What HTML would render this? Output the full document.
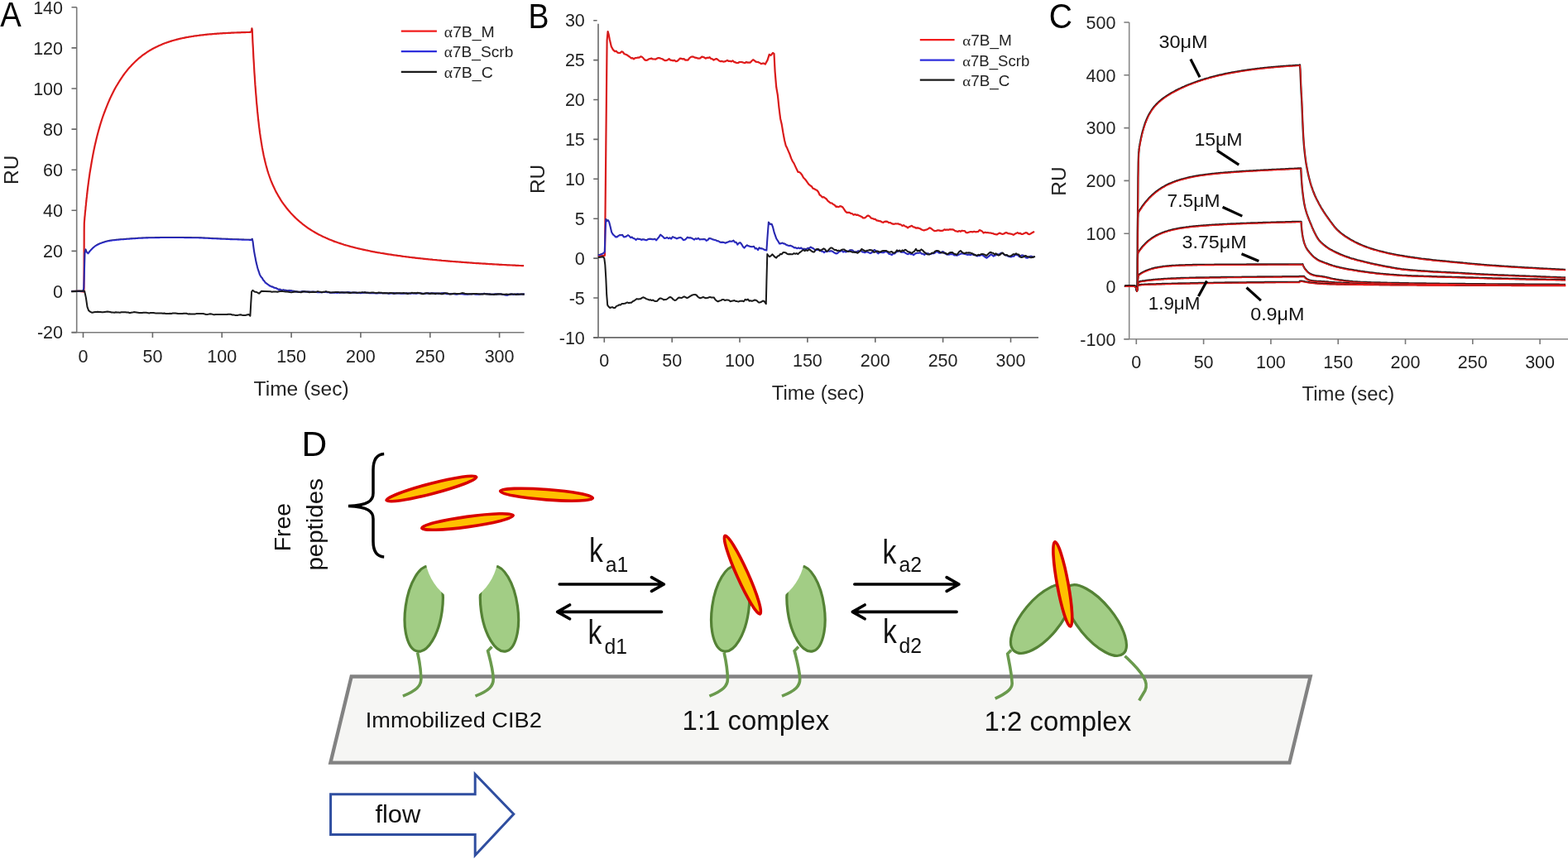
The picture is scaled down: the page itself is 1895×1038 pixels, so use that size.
<!DOCTYPE html>
<html><head><meta charset="utf-8"><title>Figure</title>
<style>html,body{margin:0;padding:0;background:#fff;}svg{display:block;}</style></head>
<body><svg width="1895" height="1038" viewBox="0 0 1895 1038">
<rect width="1895" height="1038" fill="#fff"/>
<path d="M424.7 817.5H1583.7L1558.4 921.7H399.4Z" fill="#F6F6F4" stroke="#828282" stroke-width="4.3" stroke-linejoin="miter"/>
<g transform="translate(0 0)">
<path d="M504.6 788.5C506.5 797 508.6 808 508.9 820C509.1 829 503 834.5 486.9 841.2" fill="none" stroke="#6A9A4D" stroke-width="3.6" stroke-linecap="butt"/>
<path d="M594.5 781.5L589.6 786.5C592 796 595.6 808 596.2 820C596.5 829 591 834.5 574.5 841.2" fill="none" stroke="#6A9A4D" stroke-width="3.6" stroke-linecap="butt"/>
<mask id="mL0" maskUnits="userSpaceOnUse" x="0" y="0" width="1895" height="1038"><rect width="1895" height="1038" fill="#fff"/><circle cx="581.5" cy="666.7" r="68.4" fill="#000"/></mask>
<g mask="url(#mL0)"><ellipse cx="512.2" cy="735.6" rx="22.2" ry="52" transform="rotate(8 512.2 735.6)" fill="#A2CD85" stroke="#548235" stroke-width="3.2"/></g>
<mask id="mR0" maskUnits="userSpaceOnUse" x="0" y="0" width="1895" height="1038"><rect width="1895" height="1038" fill="#fff"/><circle cx="534.2" cy="666.7" r="68.4" fill="#000"/></mask>
<g mask="url(#mR0)"><ellipse cx="603.5" cy="735.6" rx="22.2" ry="52" transform="rotate(-8 603.5 735.6)" fill="#A2CD85" stroke="#548235" stroke-width="3.2"/></g>
</g>
<g transform="translate(370.5 0)">
<path d="M504.6 788.5C506.5 797 508.6 808 508.9 820C509.1 829 503 834.5 486.9 841.2" fill="none" stroke="#6A9A4D" stroke-width="3.6" stroke-linecap="butt"/>
<path d="M594.5 781.5L589.6 786.5C592 796 595.6 808 596.2 820C596.5 829 591 834.5 574.5 841.2" fill="none" stroke="#6A9A4D" stroke-width="3.6" stroke-linecap="butt"/>
<mask id="mL1" maskUnits="userSpaceOnUse" x="0" y="0" width="1895" height="1038"><rect width="1895" height="1038" fill="#fff"/><circle cx="581.5" cy="666.7" r="68.4" fill="#000"/></mask>
<g mask="url(#mL1)"><ellipse cx="512.2" cy="735.6" rx="22.2" ry="52" transform="rotate(8 512.2 735.6)" fill="#A2CD85" stroke="#548235" stroke-width="3.2"/></g>
<mask id="mR1" maskUnits="userSpaceOnUse" x="0" y="0" width="1895" height="1038"><rect width="1895" height="1038" fill="#fff"/><circle cx="534.2" cy="666.7" r="68.4" fill="#000"/></mask>
<g mask="url(#mR1)"><ellipse cx="603.5" cy="735.6" rx="22.2" ry="52" transform="rotate(-8 603.5 735.6)" fill="#A2CD85" stroke="#548235" stroke-width="3.2"/></g>
</g>
<ellipse cx="897.4" cy="694.6" rx="51.8" ry="6.7" transform="rotate(65.8 897.4 694.6)" fill="#FFC000" stroke="#D80000" stroke-width="3.6"/>
<path d="M1222.1 785.5L1217.7 790C1219 798 1222.5 812 1223.2 826C1223 832 1218 837 1202.7 844.2" fill="none" stroke="#6A9A4D" stroke-width="3.6" stroke-linecap="butt"/>
<path d="M1359.5 792.7C1366 799 1376 808 1381.7 817.7C1385.5 824 1386 830 1383.9 834.3L1376.7 846.5" fill="none" stroke="#6A9A4D" stroke-width="3.6" stroke-linecap="butt"/>
<ellipse cx="1258.4" cy="747.7" rx="22.5" ry="50.9" transform="rotate(39.8 1258.4 747.7)" fill="#A2CD85" stroke="#548235" stroke-width="3.2"/>
<ellipse cx="1324.2" cy="749.6" rx="21.8" ry="52.3" transform="rotate(-39.3 1324.2 749.6)" fill="#A2CD85" stroke="#548235" stroke-width="3.2"/>
<ellipse cx="1284.3" cy="705.9" rx="51.9" ry="6.7" transform="rotate(79.6 1284.3 705.9)" fill="#FFC000" stroke="#D80000" stroke-width="3.6"/>
<ellipse cx="521.4" cy="590.5" rx="56.1" ry="6.2" transform="rotate(-14.6 521.4 590.5)" fill="#FFC000" stroke="#D80000" stroke-width="3.6"/>
<ellipse cx="660.5" cy="597.7" rx="56" ry="6.2" transform="rotate(4.3 660.5 597.7)" fill="#FFC000" stroke="#D80000" stroke-width="3.6"/>
<ellipse cx="565" cy="630.5" rx="55.7" ry="6.2" transform="rotate(-7.9 565 630.5)" fill="#FFC000" stroke="#D80000" stroke-width="3.6"/>
<path d="M464.2 548.5C456 549 451 555 451 568V596C451 605 445 610.5 421 611.5C445 612.5 451 618 451 627V654C451 667 456 672.5 464.2 673" fill="none" stroke="#000" stroke-width="3.5"/>
<g transform="translate(0 0)" fill="none" stroke="#000" stroke-width="3.6" stroke-linecap="round" stroke-linejoin="round">
<path d="M676.2 706H801.5M787.5 697.6L802.3 706L787.5 714.4"/>
<path d="M799.5 739.4H674.5M688.5 731L673.7 739.4L688.5 747.8"/>
</g>
<g transform="translate(356.6 0)" fill="none" stroke="#000" stroke-width="3.6" stroke-linecap="round" stroke-linejoin="round">
<path d="M676.2 706H801.5M787.5 697.6L802.3 706L787.5 714.4"/>
<path d="M799.5 739.4H674.5M688.5 731L673.7 739.4L688.5 747.8"/>
</g>
<text x="711.9" y="679.2" font-family="'Liberation Sans', Arial, sans-serif" font-size="41" fill="#111" transform="translate(711.9 0) scale(0.82 1) translate(-711.9 0)">k</text>
<text x="731.8" y="690.6" font-family="'Liberation Sans', Arial, sans-serif" font-size="26.5" fill="#111" textLength="27.5" lengthAdjust="spacingAndGlyphs">a1</text>
<text x="710.6" y="778.3" font-family="'Liberation Sans', Arial, sans-serif" font-size="41" fill="#111" transform="translate(710.6 0) scale(0.82 1) translate(-710.6 0)">k</text>
<text x="730.6" y="789.6" font-family="'Liberation Sans', Arial, sans-serif" font-size="26.5" fill="#111" textLength="27.5" lengthAdjust="spacingAndGlyphs">d1</text>
<text x="1066.6" y="680.6" font-family="'Liberation Sans', Arial, sans-serif" font-size="41" fill="#111" transform="translate(1066.6 0) scale(0.82 1) translate(-1066.6 0)">k</text>
<text x="1086.6" y="691.2" font-family="'Liberation Sans', Arial, sans-serif" font-size="26.5" fill="#111" textLength="27.5" lengthAdjust="spacingAndGlyphs">a2</text>
<text x="1066.9" y="777.3" font-family="'Liberation Sans', Arial, sans-serif" font-size="41" fill="#111" transform="translate(1066.9 0) scale(0.82 1) translate(-1066.9 0)">k</text>
<text x="1086.6" y="788.7" font-family="'Liberation Sans', Arial, sans-serif" font-size="26.5" fill="#111" textLength="27.5" lengthAdjust="spacingAndGlyphs">d2</text>
<text x="441.8" y="878.5" font-family="'Liberation Sans', Arial, sans-serif" font-size="25.5" fill="#111" textLength="213" lengthAdjust="spacingAndGlyphs">Immobilized CIB2</text>
<text x="824.6" y="881.8" font-family="'Liberation Sans', Arial, sans-serif" font-size="32.5" fill="#111" textLength="177.5" lengthAdjust="spacingAndGlyphs">1:1 complex</text>
<text x="1189.6" y="883" font-family="'Liberation Sans', Arial, sans-serif" font-size="32.5" fill="#111" textLength="177.5" lengthAdjust="spacingAndGlyphs">1:2 complex</text>
<text transform="translate(351.3 666.3) rotate(-90)" font-family="'Liberation Sans', Arial, sans-serif" font-size="27" fill="#111" textLength="58.5" lengthAdjust="spacingAndGlyphs">Free</text>
<text transform="translate(389.6 689.6) rotate(-90)" font-family="'Liberation Sans', Arial, sans-serif" font-size="27" fill="#111" textLength="111.5" lengthAdjust="spacingAndGlyphs">peptides</text>
<path d="M399.6 959.8H574.2V935.5L620.8 983.8L574.2 1033.5V1008.5H399.6Z" fill="none" stroke="#2F4EA0" stroke-width="3"/>
<text x="453.4" y="994.1" font-family="'Liberation Sans', Arial, sans-serif" font-size="29" fill="#111" textLength="55" lengthAdjust="spacingAndGlyphs">flow</text>
<g fill="none" stroke="#7a7a7a" stroke-width="1.6">
<path d="M92.7 8.7V401.7M86.5 401.7H633.5"/>
</g>
<path d="M86.5 401.6H92.7M86.5 352.5H92.7M86.5 303.4H92.7M86.5 254.3H92.7M86.5 205.2H92.7M86.5 156.1H92.7M86.5 107H92.7M86.5 57.9H92.7M86.5 8.8H92.7M100.5 401.7v6.2M184.4 401.7v6.2M268.2 401.7v6.2M352.1 401.7v6.2M435.9 401.7v6.2M519.8 401.7v6.2M603.6 401.7v6.2" fill="none" stroke="#6a6a6a" stroke-width="1.6"/>
<g font-family="'Liberation Sans', Arial, sans-serif" fill="#222222">
<text x="76" y="409.3" font-size="21.5" text-anchor="end">-20</text>
<text x="76" y="360.2" font-size="21.5" text-anchor="end">0</text>
<text x="76" y="311.1" font-size="21.5" text-anchor="end">20</text>
<text x="76" y="262" font-size="21.5" text-anchor="end">40</text>
<text x="76" y="212.9" font-size="21.5" text-anchor="end">60</text>
<text x="76" y="163.8" font-size="21.5" text-anchor="end">80</text>
<text x="76" y="114.7" font-size="21.5" text-anchor="end">100</text>
<text x="76" y="65.6" font-size="21.5" text-anchor="end">120</text>
<text x="76" y="16.5" font-size="21.5" text-anchor="end">140</text>
<text x="100.5" y="437.6" font-size="21.5" text-anchor="middle">0</text>
<text x="184.4" y="437.6" font-size="21.5" text-anchor="middle">50</text>
<text x="268.2" y="437.6" font-size="21.5" text-anchor="middle">100</text>
<text x="352.1" y="437.6" font-size="21.5" text-anchor="middle">150</text>
<text x="435.9" y="437.6" font-size="21.5" text-anchor="middle">200</text>
<text x="519.8" y="437.6" font-size="21.5" text-anchor="middle">250</text>
<text x="603.6" y="437.6" font-size="21.5" text-anchor="middle">300</text>
</g>
<path d="M86.2 352L95.5 351.8L100.5 352.3L101.2 352L101.5 352.5L101.7 278.9L101.8 269.9L102 267.2L102.2 265.2L102.3 263.3L102.5 261.4L102.7 259.6L102.8 257.7L103 255.9L103.2 254.2L103.4 252.4L103.5 250.7L103.7 249L103.9 247.4L104 245.7L104.2 244.1L104.4 242.5L104.5 241L104.7 239.4L104.9 237.9L105 236.4L105.2 234.9L105.4 233.5L105.5 232L106.5 223.8L107.5 216.3L108.5 209.3L109.6 202.8L110.6 196.8L111.6 191.1L112.6 185.8L113.6 180.8L114.6 176.1L115.6 171.7L116.6 167.5L117.6 163.5L118.6 159.7L119.6 156.1L120.6 152.6L121.6 149.3L122.6 146.1L123.6 143L124.6 140.1L125.7 137.2L126.7 134.5L127.7 131.8L128.7 129.3L129.7 126.8L130.7 124.4L131.7 122.1L132.7 119.8L133.7 117.6L134.7 115.5L135.7 113.5L136.7 111.5L137.7 109.5L138.7 107.6L139.7 105.8L140.7 104L141.8 102.3L142.8 100.6L143.8 99L144.8 97.4L145.8 95.8L146.8 94.3L147.8 92.9L148.8 91.4L149.8 90L150.8 88.7L151.8 87.4L152.8 86.1L153.8 84.8L154.8 83.6L155.8 82.4L156.8 81.3L157.9 80.2L158.9 79.1L159.9 78L160.9 77L161.9 76L162.9 75L163.9 74L164.9 73.1L165.9 72.2L166.9 71.3L167.9 70.4L168.9 69.6L169.9 68.8L170.9 68L171.9 67.2L172.9 66.4L174 65.7L175 65L176 64.3L177 63.6L178 62.9L179 62.3L180 61.6L181 61L182 60.4L183 59.9L184 59.3L185 58.7L186 58.2L187 57.7L188 57.2L189 56.7L190.1 56.2L191.1 55.7L192.1 55.2L193.1 54.8L194.1 54.4L195.1 53.9L196.1 53.5L197.1 53.1L198.1 52.7L199.1 52.3L200.1 52L201.1 51.6L202.1 51.3L203.1 50.9L204.1 50.6L205.1 50.3L206.2 49.9L207.2 49.6L208.2 49.3L209.2 49L210.2 48.7L211.2 48.5L212.2 48.2L213.2 47.9L214.2 47.7L215.2 47.4L216.2 47.2L217.2 46.9L218.2 46.7L219.2 46.5L220.2 46.2L221.2 46L222.3 45.8L223.3 45.6L224.3 45.4L225.3 45.2L226.3 45L227.3 44.9L228.3 44.7L229.3 44.5L230.3 44.3L231.3 44.2L232.3 44L233.3 43.9L234.3 43.7L235.3 43.5L236.3 43.4L237.3 43.3L238.3 43.1L239.4 43L240.4 42.9L241.4 42.7L242.4 42.6L243.4 42.5L244.4 42.4L245.4 42.3L246.4 42.1L247.4 42L248.4 41.9L249.4 41.8L250.4 41.7L251.4 41.6L252.4 41.5L253.4 41.4L254.4 41.4L255.5 41.3L256.5 41.2L257.5 41.1L258.5 41L259.5 40.9L260.5 40.9L261.5 40.8L262.5 40.7L263.5 40.6L264.5 40.6L265.5 40.5L266.5 40.4L267.5 40.4L268.5 40.3L269.5 40.2L270.5 40.2L271.6 40.1L272.6 40.1L273.6 40L274.6 40L275.6 39.9L276.6 39.9L277.6 39.8L278.6 39.8L279.6 39.7L280.6 39.7L281.6 39.6L282.6 39.6L283.6 39.5L284.6 39.5L285.6 39.5L286.6 39.4L287.7 39.4L288.7 39.3L289.7 39.3L290.7 39.3L291.7 39.2L292.7 39.2L293.7 39.2L294.7 39.1L295.7 39.1L296.7 39.1L297.7 39L298.7 39L299.7 39L300.7 39L301.7 38.9L302.7 38.9L303.9 37.8L304.4 34.3L304.8 36L305.1 43.5L305.4 50.6L305.8 57.4L306.1 63.9L306.4 70.1L306.8 76.1L307.1 81.8L307.4 87.3L307.8 92.5L308.1 97.6L308.4 102.4L308.8 107.1L309.1 111.5L309.5 115.8L309.8 119.9L310.1 123.8L310.5 127.6L310.8 131.2L311.1 134.7L311.5 138.1L311.8 141.4L312.1 144.5L312.5 147.5L312.8 150.4L313.1 153.2L313.5 155.9L313.8 158.5L314.1 161L314.5 163.4L314.8 165.7L315.2 168L315.5 170.2L315.8 172.3L316.2 174.3L316.5 176.3L316.8 178.2L317.2 180.1L317.5 181.9L317.8 183.6L318.2 185.3L318.5 187L318.8 188.5L319.2 190.1L319.5 191.6L319.9 193.1L320.2 194.5L320.5 195.9L320.9 197.2L321.2 198.5L321.5 199.8L321.9 201.1L321.9 201.1L323.2 205.8L324.5 210L325.9 214L327.2 217.6L328.6 221L329.9 224.1L331.3 227L332.6 229.8L333.9 232.4L335.3 234.8L336.6 237.2L338 239.4L339.3 241.6L340.6 243.6L342 245.6L343.3 247.4L344.7 249.2L346 251L347.4 252.7L348.7 254.3L350 255.8L351.4 257.4L352.7 258.8L354.1 260.2L355.4 261.6L356.7 262.9L358.1 264.2L359.4 265.4L360.8 266.6L362.1 267.8L363.5 268.9L364.8 270L366.1 271.1L367.5 272.1L368.8 273.1L370.2 274.1L371.5 275.1L372.8 276L374.2 276.9L375.5 277.7L376.9 278.6L378.2 279.4L379.6 280.2L380.9 281L382.2 281.7L383.6 282.5L384.9 283.2L386.3 283.9L387.6 284.6L388.9 285.2L390.3 285.9L391.6 286.5L393 287.1L394.3 287.7L395.7 288.3L397 288.9L398.3 289.5L399.7 290L401 290.5L402.4 291.1L403.7 291.6L405 292.1L406.4 292.5L407.7 293L409.1 293.5L410.4 293.9L411.8 294.4L413.1 294.8L414.4 295.2L415.8 295.7L417.1 296.1L418.5 296.5L419.8 296.8L421.1 297.2L422.5 297.6L423.8 298L425.2 298.3L426.5 298.7L427.9 299L429.2 299.4L430.5 299.7L431.9 300L433.2 300.4L434.6 300.7L435.9 301L437.2 301.3L438.6 301.6L439.9 301.9L441.3 302.2L442.6 302.5L443.9 302.7L445.3 303L446.6 303.3L448 303.6L449.3 303.8L450.7 304.1L452 304.3L453.3 304.6L454.7 304.8L456 305.1L457.4 305.3L458.7 305.5L460 305.8L461.4 306L462.7 306.2L464.1 306.4L465.4 306.7L466.8 306.9L468.1 307.1L469.4 307.3L470.8 307.5L472.1 307.7L473.5 307.9L474.8 308.1L476.1 308.3L477.5 308.5L478.8 308.7L480.2 308.9L481.5 309.1L482.9 309.2L484.2 309.4L485.5 309.6L486.9 309.8L488.2 310L489.6 310.1L490.9 310.3L492.2 310.5L493.6 310.6L494.9 310.8L496.3 311L497.6 311.1L499 311.3L500.3 311.4L501.6 311.6L503 311.8L504.3 311.9L505.7 312.1L507 312.2L508.3 312.3L509.7 312.5L511 312.6L512.4 312.8L513.7 312.9L515.1 313.1L516.4 313.2L517.7 313.3L519.1 313.5L520.4 313.6L521.8 313.7L523.1 313.9L524.4 314L525.8 314.1L527.1 314.2L528.5 314.4L529.8 314.5L531.2 314.6L532.5 314.7L533.8 314.9L535.2 315L536.5 315.1L537.9 315.2L539.2 315.3L540.5 315.4L541.9 315.6L543.2 315.7L544.6 315.8L545.9 315.9L547.3 316L548.6 316.1L549.9 316.2L551.3 316.3L552.6 316.4L554 316.5L555.3 316.6L556.6 316.7L558 316.8L559.3 316.9L560.7 317L562 317.1L563.4 317.2L564.7 317.3L566 317.4L567.4 317.5L568.7 317.6L570.1 317.7L571.4 317.8L572.7 317.9L574.1 318L575.4 318.1L576.8 318.1L578.1 318.2L579.5 318.3L580.8 318.4L582.1 318.5L583.5 318.6L584.8 318.7L586.2 318.7L587.5 318.8L588.8 318.9L590.2 319L591.5 319.1L592.9 319.2L594.2 319.2L595.6 319.3L596.9 319.4L598.2 319.5L599.6 319.5L600.9 319.6L602.3 319.7L603.6 319.8L604.9 319.8L606.3 319.9L607.6 320L609 320L610.3 320.1L611.6 320.2L613 320.3L614.3 320.3L615.7 320.4L617 320.5L618.4 320.5L619.7 320.6L621 320.7L622.4 320.7L623.7 320.8L625.1 320.9L626.4 320.9L627.7 321L629.1 321L630.4 321.1L631.8 321.2L633.1 321.2" fill="none" stroke="#F21C1C" stroke-width="2.2" stroke-linejoin="round"/>
<path d="M86.2 352L95.5 351.8L100.5 352.3L101.2 352L101.5 352.5L101.7 278.9L101.8 269.9L102 267.2L102.2 265.2L102.3 263.3L102.5 261.4L102.7 259.6L102.8 257.7L103 255.9L103.2 254.2L103.4 252.4L103.5 250.7L103.7 249L103.9 247.4L104 245.7L104.2 244.1L104.4 242.5L104.5 241L104.7 239.4L104.9 237.9L105 236.4L105.2 234.9L105.4 233.5L105.5 232L106.5 223.8L107.5 216.3L108.5 209.3L109.6 202.8L110.6 196.8L111.6 191.1L112.6 185.8L113.6 180.8L114.6 176.1L115.6 171.7L116.6 167.5L117.6 163.5L118.6 159.7L119.6 156.1L120.6 152.6L121.6 149.3L122.6 146.1L123.6 143L124.6 140.1L125.7 137.2L126.7 134.5L127.7 131.8L128.7 129.3L129.7 126.8L130.7 124.4L131.7 122.1L132.7 119.8L133.7 117.6L134.7 115.5L135.7 113.5L136.7 111.5L137.7 109.5L138.7 107.6L139.7 105.8L140.7 104L141.8 102.3L142.8 100.6L143.8 99L144.8 97.4L145.8 95.8L146.8 94.3L147.8 92.9L148.8 91.4L149.8 90L150.8 88.7L151.8 87.4L152.8 86.1L153.8 84.8L154.8 83.6L155.8 82.4L156.8 81.3L157.9 80.2L158.9 79.1L159.9 78L160.9 77L161.9 76L162.9 75L163.9 74L164.9 73.1L165.9 72.2L166.9 71.3L167.9 70.4L168.9 69.6L169.9 68.8L170.9 68L171.9 67.2L172.9 66.4L174 65.7L175 65L176 64.3L177 63.6L178 62.9L179 62.3L180 61.6L181 61L182 60.4L183 59.9L184 59.3L185 58.7L186 58.2L187 57.7L188 57.2L189 56.7L190.1 56.2L191.1 55.7L192.1 55.2L193.1 54.8L194.1 54.4L195.1 53.9L196.1 53.5L197.1 53.1L198.1 52.7L199.1 52.3L200.1 52L201.1 51.6L202.1 51.3L203.1 50.9L204.1 50.6L205.1 50.3L206.2 49.9L207.2 49.6L208.2 49.3L209.2 49L210.2 48.7L211.2 48.5L212.2 48.2L213.2 47.9L214.2 47.7L215.2 47.4L216.2 47.2L217.2 46.9L218.2 46.7L219.2 46.5L220.2 46.2L221.2 46L222.3 45.8L223.3 45.6L224.3 45.4L225.3 45.2L226.3 45L227.3 44.9L228.3 44.7L229.3 44.5L230.3 44.3L231.3 44.2L232.3 44L233.3 43.9L234.3 43.7L235.3 43.5L236.3 43.4L237.3 43.3L238.3 43.1L239.4 43L240.4 42.9L241.4 42.7L242.4 42.6L243.4 42.5L244.4 42.4L245.4 42.3L246.4 42.1L247.4 42L248.4 41.9L249.4 41.8L250.4 41.7L251.4 41.6L252.4 41.5L253.4 41.4L254.4 41.4L255.5 41.3L256.5 41.2L257.5 41.1L258.5 41L259.5 40.9L260.5 40.9L261.5 40.8L262.5 40.7L263.5 40.6L264.5 40.6L265.5 40.5L266.5 40.4L267.5 40.4L268.5 40.3L269.5 40.2L270.5 40.2L271.6 40.1L272.6 40.1L273.6 40L274.6 40L275.6 39.9L276.6 39.9L277.6 39.8L278.6 39.8L279.6 39.7L280.6 39.7L281.6 39.6L282.6 39.6L283.6 39.5L284.6 39.5L285.6 39.5L286.6 39.4L287.7 39.4L288.7 39.3L289.7 39.3L290.7 39.3L291.7 39.2L292.7 39.2L293.7 39.2L294.7 39.1L295.7 39.1L296.7 39.1L297.7 39L298.7 39L299.7 39L300.7 39L301.7 38.9L302.7 38.9L303.9 37.8L304.4 34.3L304.8 36L305.1 43.5L305.4 50.6L305.8 57.4L306.1 63.9L306.4 70.1L306.8 76.1L307.1 81.8L307.4 87.3L307.8 92.5L308.1 97.6L308.4 102.4L308.8 107.1L309.1 111.5L309.5 115.8L309.8 119.9L310.1 123.8L310.5 127.6L310.8 131.2L311.1 134.7L311.5 138.1L311.8 141.4L312.1 144.5L312.5 147.5L312.8 150.4L313.1 153.2L313.5 155.9L313.8 158.5L314.1 161L314.5 163.4L314.8 165.7L315.2 168L315.5 170.2L315.8 172.3L316.2 174.3L316.5 176.3L316.8 178.2L317.2 180.1L317.5 181.9L317.8 183.6L318.2 185.3L318.5 187L318.8 188.5L319.2 190.1L319.5 191.6L319.9 193.1L320.2 194.5L320.5 195.9L320.9 197.2L321.2 198.5L321.5 199.8L321.9 201.1L321.9 201.1L323.2 205.8L324.5 210L325.9 214L327.2 217.6L328.6 221L329.9 224.1L331.3 227L332.6 229.8L333.9 232.4L335.3 234.8L336.6 237.2L338 239.4L339.3 241.6L340.6 243.6L342 245.6L343.3 247.4L344.7 249.2L346 251L347.4 252.7L348.7 254.3L350 255.8L351.4 257.4L352.7 258.8L354.1 260.2L355.4 261.6L356.7 262.9L358.1 264.2L359.4 265.4L360.8 266.6L362.1 267.8L363.5 268.9L364.8 270L366.1 271.1L367.5 272.1L368.8 273.1L370.2 274.1L371.5 275.1L372.8 276L374.2 276.9L375.5 277.7L376.9 278.6L378.2 279.4L379.6 280.2L380.9 281L382.2 281.7L383.6 282.5L384.9 283.2L386.3 283.9L387.6 284.6L388.9 285.2L390.3 285.9L391.6 286.5L393 287.1L394.3 287.7L395.7 288.3L397 288.9L398.3 289.5L399.7 290L401 290.5L402.4 291.1L403.7 291.6L405 292.1L406.4 292.5L407.7 293L409.1 293.5L410.4 293.9L411.8 294.4L413.1 294.8L414.4 295.2L415.8 295.7L417.1 296.1L418.5 296.5L419.8 296.8L421.1 297.2L422.5 297.6L423.8 298L425.2 298.3L426.5 298.7L427.9 299L429.2 299.4L430.5 299.7L431.9 300L433.2 300.4L434.6 300.7L435.9 301L437.2 301.3L438.6 301.6L439.9 301.9L441.3 302.2L442.6 302.5L443.9 302.7L445.3 303L446.6 303.3L448 303.6L449.3 303.8L450.7 304.1L452 304.3L453.3 304.6L454.7 304.8L456 305.1L457.4 305.3L458.7 305.5L460 305.8L461.4 306L462.7 306.2L464.1 306.4L465.4 306.7L466.8 306.9L468.1 307.1L469.4 307.3L470.8 307.5L472.1 307.7L473.5 307.9L474.8 308.1L476.1 308.3L477.5 308.5L478.8 308.7L480.2 308.9L481.5 309.1L482.9 309.2L484.2 309.4L485.5 309.6L486.9 309.8L488.2 310L489.6 310.1L490.9 310.3L492.2 310.5L493.6 310.6L494.9 310.8L496.3 311L497.6 311.1L499 311.3L500.3 311.4L501.6 311.6L503 311.8L504.3 311.9L505.7 312.1L507 312.2L508.3 312.3L509.7 312.5L511 312.6L512.4 312.8L513.7 312.9L515.1 313.1L516.4 313.2L517.7 313.3L519.1 313.5L520.4 313.6L521.8 313.7L523.1 313.9L524.4 314L525.8 314.1L527.1 314.2L528.5 314.4L529.8 314.5L531.2 314.6L532.5 314.7L533.8 314.9L535.2 315L536.5 315.1L537.9 315.2L539.2 315.3L540.5 315.4L541.9 315.6L543.2 315.7L544.6 315.8L545.9 315.9L547.3 316L548.6 316.1L549.9 316.2L551.3 316.3L552.6 316.4L554 316.5L555.3 316.6L556.6 316.7L558 316.8L559.3 316.9L560.7 317L562 317.1L563.4 317.2L564.7 317.3L566 317.4L567.4 317.5L568.7 317.6L570.1 317.7L571.4 317.8L572.7 317.9L574.1 318L575.4 318.1L576.8 318.1L578.1 318.2L579.5 318.3L580.8 318.4L582.1 318.5L583.5 318.6L584.8 318.7L586.2 318.7L587.5 318.8L588.8 318.9L590.2 319L591.5 319.1L592.9 319.2L594.2 319.2L595.6 319.3L596.9 319.4L598.2 319.5L599.6 319.5L600.9 319.6L602.3 319.7L603.6 319.8L604.9 319.8L606.3 319.9L607.6 320L609 320L610.3 320.1L611.6 320.2L613 320.3L614.3 320.3L615.7 320.4L617 320.5L618.4 320.5L619.7 320.6L621 320.7L622.4 320.7L623.7 320.8L625.1 320.9L626.4 320.9L627.7 321L629.1 321L630.4 321.1L631.8 321.2L633.1 321.2" fill="none" stroke="#402020" stroke-width="0.9" stroke-opacity="0.3" transform="translate(0 -0.6)" stroke-linejoin="round"/>
<path d="M86.2 352L95.5 351.8L100.5 352L101.3 347.6L102.5 305.9L103.5 301.4L104.7 304.6L106.4 306.3L107.2 305.3L108.2 304L109.2 302.9L110.2 301.8L111.2 300.8L112.2 299.8L113.2 298.8L114.3 298L115.3 297.2L116.3 296.6L117.3 296L118.3 295.5L119.3 295L120.3 294.5L121.3 294.1L122.3 293.7L123.3 293.4L124.3 293L125.3 292.7L126.3 292.4L127.3 292.1L128.3 291.8L129.3 291.6L130.4 291.3L131.4 291.1L132.4 290.9L133.4 290.7L134.4 290.6L135.4 290.5L136.4 290.3L137.4 290.2L138.4 290.1L139.4 290L140.4 289.9L141.4 289.8L142.4 289.7L143.4 289.6L144.4 289.5L145.4 289.4L146.4 289.3L147.5 289.3L148.5 289.2L149.5 289.1L150.5 289L151.5 289L152.5 288.9L153.5 288.8L154.5 288.7L155.5 288.7L156.5 288.6L157.5 288.5L158.5 288.4L159.5 288.4L160.5 288.3L161.5 288.2L162.5 288.2L163.6 288.1L164.6 288L165.6 288L166.6 287.9L167.6 287.8L168.6 287.8L169.6 287.7L170.6 287.7L171.6 287.6L172.6 287.6L173.6 287.5L174.6 287.5L175.6 287.5L176.6 287.4L177.6 287.4L178.6 287.4L179.7 287.3L180.7 287.3L181.7 287.3L182.7 287.3L183.7 287.2L184.7 287.2L185.7 287.2L186.7 287.2L187.7 287.1L188.7 287.1L189.7 287.1L190.7 287.1L191.7 287.1L192.7 287.1L193.7 287L194.7 287L195.8 287L196.8 287L197.8 287L198.8 287L199.8 287L200.8 287L201.8 287L202.8 287L203.8 287L204.8 287L205.8 287L206.8 287L207.8 287L208.8 287L209.8 287L210.8 287L211.9 287L212.9 287L213.9 287L214.9 287L215.9 287L216.9 287L217.9 287L218.9 287L219.9 287L220.9 287L221.9 287L222.9 287.1L223.9 287.1L224.9 287.1L225.9 287.1L226.9 287.1L228 287.1L229 287.1L230 287.1L231 287.1L232 287.2L233 287.2L234 287.2L235 287.2L236 287.2L237 287.2L238 287.3L239 287.3L240 287.3L241 287.4L242 287.4L243 287.4L244.1 287.5L245.1 287.5L246.1 287.6L247.1 287.6L248.1 287.7L249.1 287.7L250.1 287.8L251.1 287.8L252.1 287.9L253.1 287.9L254.1 288L255.1 288L256.1 288.1L257.1 288.1L258.1 288.2L259.1 288.2L260.2 288.3L261.2 288.3L262.2 288.4L263.2 288.4L264.2 288.5L265.2 288.5L266.2 288.6L267.2 288.6L268.2 288.7L269.2 288.7L270.2 288.7L271.2 288.8L272.2 288.8L273.2 288.9L274.2 288.9L275.2 288.9L276.2 289L277.3 289L278.3 289.1L279.3 289.1L280.3 289.1L281.3 289.2L282.3 289.2L283.3 289.2L284.3 289.3L285.3 289.3L286.3 289.3L287.3 289.4L288.3 289.4L289.3 289.5L290.3 289.5L291.3 289.5L292.3 289.6L293.4 289.6L294.4 289.6L295.4 289.7L296.4 289.7L297.4 289.7L298.4 289.8L299.4 289.8L300.4 289.8L301.4 289.9L302.4 289.9L303.8 289.9L304.8 288.7L305.6 292.3L306.1 296.4L306.6 300.3L307.1 303.8L307.6 306.6L308.1 309.2L308.6 311.8L309.1 314.5L309.6 317.1L310.1 319.1L310.6 321L311.1 323.1L311.6 324.8L312.1 326.3L312.6 327.8L313.1 329.2L313.6 331L314.1 332.1L314.7 333.3L315.2 334L315.7 334.9L316.2 335.3L316.7 336L317.2 336.5L317.7 337.8L318.2 338.5L318.7 339.2L319.2 339.3L319.7 340.1L320.2 340.8L320.7 341.6L321.2 342L321.7 342.2L322.2 342.7L322.7 343L323.2 343.4L323.7 343.7L324.2 344.1L324.7 344.6L325.2 344.8L325.7 345.3L326.2 345.6L326.7 345.6L327.2 345.9L327.7 346.1L328.2 346.5L328.7 346.6L329.2 346.6L329.7 346.7L330.2 347L330.8 347.6L331.3 347.8L331.8 347.8L332.3 347.9L332.8 348.2L333.3 348.2L333.8 348.2L334.3 348.5L334.8 348.8L335.3 349.3L335.8 349.3L336.3 349.7L336.8 349.8L337.3 350L337.8 349.8L338.3 349.6L338.8 349.9L339.3 350.3L339.8 350.5L340.3 350.7L340.8 350.7L341.3 350.9L341.8 350.4L342.3 350.2L342.8 350.4L343.3 350.7L343.8 350.9L344.3 350.7L344.8 350.7L345.3 350.8L345.8 351.1L346.3 351L346.9 351.1L347.4 351.4L347.9 351.4L348.4 351.5L348.9 351.1L349.4 351L349.9 351L350.4 351.1L350.9 351.4L351.4 351.2L351.9 351.4L352.1 351.2L353.7 351.8L355.4 351.8L357.1 352.4L358.8 352.6L360.4 352.9L362.1 352.8L363.8 352.5L365.5 352.1L367.1 352.1L368.8 352.4L370.5 352.8L372.2 352.6L373.9 352.6L375.5 352.7L377.2 352.7L378.9 352.6L380.6 352.8L382.2 353L383.9 353.1L385.6 353.1L387.3 353.1L388.9 353.3L390.6 353L392.3 353L394 352.9L395.7 353.2L397.3 353.3L399 353.7L400.7 353.8L402.4 353.8L404 353.8L405.7 353.5L407.4 353.9L409.1 353.4L410.7 353.7L412.4 353.3L414.1 353.4L415.8 353.6L417.5 353.5L419.1 353.3L420.8 353L422.5 353.3L424.2 353.7L425.8 353.8L427.5 353.6L429.2 353.7L430.9 353.6L432.5 353.9L434.2 354L435.9 354.2L437.6 353.9L439.3 353.8L440.9 353.4L442.6 353.7L444.3 353.8L446 354.1L447.6 354.2L449.3 354.1L451 354.1L452.7 354.1L454.3 354.4L456 354.5L457.7 354.1L459.4 354L461.1 354.1L462.7 354.3L464.4 354L466.1 354.1L467.8 354.2L469.4 354.6L471.1 354.7L472.8 354.5L474.5 354.4L476.1 354.1L477.8 354.4L479.5 354.3L481.2 354.5L482.9 354.4L484.5 354.7L486.2 354.8L487.9 354.6L489.6 354.5L491.2 354.2L492.9 354.5L494.6 354.5L496.3 354.7L497.9 354.5L499.6 354.5L501.3 354.5L503 354.6L504.7 354.4L506.3 354.2L508 354.2L509.7 354.5L511.4 354.9L513 354.8L514.7 354.6L516.4 354.3L518.1 354.4L519.8 354.5L521.4 354.3L523.1 354.3L524.8 354.5L526.5 354.4L528.1 354.8L529.8 354.6L531.5 354.8L533.2 354.4L534.8 354.3L536.5 354.1L538.2 354.5L539.9 355.2L541.6 355.3L543.2 355.3L544.9 355L546.6 355L548.3 355.1L549.9 355.5L551.6 355.7L553.3 355.4L555 355L556.6 355.1L558.3 355.3L560 355.5L561.7 355.6L563.4 355.6L565 355.7L566.7 355.5L568.4 355.4L570.1 355L571.7 355.3L573.4 355.4L575.1 355.7L576.8 355.7L578.4 355.6L580.1 355.5L581.8 355.3L583.5 355.3L585.2 354.8L586.8 355.2L588.5 355.1L590.2 355.5L591.9 355.2L593.5 355.7L595.2 355.8L596.9 355.6L598.6 355.4L600.2 355.3L601.9 355.5L603.6 355.3L605.3 355.3L607 355.7L608.6 356L610.3 356.4L612 356.6L613.7 356.6L615.3 356L617 355.4L618.7 355.5L620.4 356L622 355.8L623.7 355.6L625.4 355.4L627.1 355.6L628.8 355.7L630.4 355.5L632.1 355.4L633.8 355.4" fill="none" stroke="#2E2EDC" stroke-width="2.1" stroke-linejoin="round"/>
<path d="M86.2 352L95.5 351.8L100.5 352L101.3 347.6L102.5 305.9L103.5 301.4L104.7 304.6L106.4 306.3L107.2 305.3L108.2 304L109.2 302.9L110.2 301.8L111.2 300.8L112.2 299.8L113.2 298.8L114.3 298L115.3 297.2L116.3 296.6L117.3 296L118.3 295.5L119.3 295L120.3 294.5L121.3 294.1L122.3 293.7L123.3 293.4L124.3 293L125.3 292.7L126.3 292.4L127.3 292.1L128.3 291.8L129.3 291.6L130.4 291.3L131.4 291.1L132.4 290.9L133.4 290.7L134.4 290.6L135.4 290.5L136.4 290.3L137.4 290.2L138.4 290.1L139.4 290L140.4 289.9L141.4 289.8L142.4 289.7L143.4 289.6L144.4 289.5L145.4 289.4L146.4 289.3L147.5 289.3L148.5 289.2L149.5 289.1L150.5 289L151.5 289L152.5 288.9L153.5 288.8L154.5 288.7L155.5 288.7L156.5 288.6L157.5 288.5L158.5 288.4L159.5 288.4L160.5 288.3L161.5 288.2L162.5 288.2L163.6 288.1L164.6 288L165.6 288L166.6 287.9L167.6 287.8L168.6 287.8L169.6 287.7L170.6 287.7L171.6 287.6L172.6 287.6L173.6 287.5L174.6 287.5L175.6 287.5L176.6 287.4L177.6 287.4L178.6 287.4L179.7 287.3L180.7 287.3L181.7 287.3L182.7 287.3L183.7 287.2L184.7 287.2L185.7 287.2L186.7 287.2L187.7 287.1L188.7 287.1L189.7 287.1L190.7 287.1L191.7 287.1L192.7 287.1L193.7 287L194.7 287L195.8 287L196.8 287L197.8 287L198.8 287L199.8 287L200.8 287L201.8 287L202.8 287L203.8 287L204.8 287L205.8 287L206.8 287L207.8 287L208.8 287L209.8 287L210.8 287L211.9 287L212.9 287L213.9 287L214.9 287L215.9 287L216.9 287L217.9 287L218.9 287L219.9 287L220.9 287L221.9 287L222.9 287.1L223.9 287.1L224.9 287.1L225.9 287.1L226.9 287.1L228 287.1L229 287.1L230 287.1L231 287.1L232 287.2L233 287.2L234 287.2L235 287.2L236 287.2L237 287.2L238 287.3L239 287.3L240 287.3L241 287.4L242 287.4L243 287.4L244.1 287.5L245.1 287.5L246.1 287.6L247.1 287.6L248.1 287.7L249.1 287.7L250.1 287.8L251.1 287.8L252.1 287.9L253.1 287.9L254.1 288L255.1 288L256.1 288.1L257.1 288.1L258.1 288.2L259.1 288.2L260.2 288.3L261.2 288.3L262.2 288.4L263.2 288.4L264.2 288.5L265.2 288.5L266.2 288.6L267.2 288.6L268.2 288.7L269.2 288.7L270.2 288.7L271.2 288.8L272.2 288.8L273.2 288.9L274.2 288.9L275.2 288.9L276.2 289L277.3 289L278.3 289.1L279.3 289.1L280.3 289.1L281.3 289.2L282.3 289.2L283.3 289.2L284.3 289.3L285.3 289.3L286.3 289.3L287.3 289.4L288.3 289.4L289.3 289.5L290.3 289.5L291.3 289.5L292.3 289.6L293.4 289.6L294.4 289.6L295.4 289.7L296.4 289.7L297.4 289.7L298.4 289.8L299.4 289.8L300.4 289.8L301.4 289.9L302.4 289.9L303.8 289.9L304.8 288.7L305.6 292.3L306.1 296.4L306.6 300.3L307.1 303.8L307.6 306.6L308.1 309.2L308.6 311.8L309.1 314.5L309.6 317.1L310.1 319.1L310.6 321L311.1 323.1L311.6 324.8L312.1 326.3L312.6 327.8L313.1 329.2L313.6 331L314.1 332.1L314.7 333.3L315.2 334L315.7 334.9L316.2 335.3L316.7 336L317.2 336.5L317.7 337.8L318.2 338.5L318.7 339.2L319.2 339.3L319.7 340.1L320.2 340.8L320.7 341.6L321.2 342L321.7 342.2L322.2 342.7L322.7 343L323.2 343.4L323.7 343.7L324.2 344.1L324.7 344.6L325.2 344.8L325.7 345.3L326.2 345.6L326.7 345.6L327.2 345.9L327.7 346.1L328.2 346.5L328.7 346.6L329.2 346.6L329.7 346.7L330.2 347L330.8 347.6L331.3 347.8L331.8 347.8L332.3 347.9L332.8 348.2L333.3 348.2L333.8 348.2L334.3 348.5L334.8 348.8L335.3 349.3L335.8 349.3L336.3 349.7L336.8 349.8L337.3 350L337.8 349.8L338.3 349.6L338.8 349.9L339.3 350.3L339.8 350.5L340.3 350.7L340.8 350.7L341.3 350.9L341.8 350.4L342.3 350.2L342.8 350.4L343.3 350.7L343.8 350.9L344.3 350.7L344.8 350.7L345.3 350.8L345.8 351.1L346.3 351L346.9 351.1L347.4 351.4L347.9 351.4L348.4 351.5L348.9 351.1L349.4 351L349.9 351L350.4 351.1L350.9 351.4L351.4 351.2L351.9 351.4L352.1 351.2L353.7 351.8L355.4 351.8L357.1 352.4L358.8 352.6L360.4 352.9L362.1 352.8L363.8 352.5L365.5 352.1L367.1 352.1L368.8 352.4L370.5 352.8L372.2 352.6L373.9 352.6L375.5 352.7L377.2 352.7L378.9 352.6L380.6 352.8L382.2 353L383.9 353.1L385.6 353.1L387.3 353.1L388.9 353.3L390.6 353L392.3 353L394 352.9L395.7 353.2L397.3 353.3L399 353.7L400.7 353.8L402.4 353.8L404 353.8L405.7 353.5L407.4 353.9L409.1 353.4L410.7 353.7L412.4 353.3L414.1 353.4L415.8 353.6L417.5 353.5L419.1 353.3L420.8 353L422.5 353.3L424.2 353.7L425.8 353.8L427.5 353.6L429.2 353.7L430.9 353.6L432.5 353.9L434.2 354L435.9 354.2L437.6 353.9L439.3 353.8L440.9 353.4L442.6 353.7L444.3 353.8L446 354.1L447.6 354.2L449.3 354.1L451 354.1L452.7 354.1L454.3 354.4L456 354.5L457.7 354.1L459.4 354L461.1 354.1L462.7 354.3L464.4 354L466.1 354.1L467.8 354.2L469.4 354.6L471.1 354.7L472.8 354.5L474.5 354.4L476.1 354.1L477.8 354.4L479.5 354.3L481.2 354.5L482.9 354.4L484.5 354.7L486.2 354.8L487.9 354.6L489.6 354.5L491.2 354.2L492.9 354.5L494.6 354.5L496.3 354.7L497.9 354.5L499.6 354.5L501.3 354.5L503 354.6L504.7 354.4L506.3 354.2L508 354.2L509.7 354.5L511.4 354.9L513 354.8L514.7 354.6L516.4 354.3L518.1 354.4L519.8 354.5L521.4 354.3L523.1 354.3L524.8 354.5L526.5 354.4L528.1 354.8L529.8 354.6L531.5 354.8L533.2 354.4L534.8 354.3L536.5 354.1L538.2 354.5L539.9 355.2L541.6 355.3L543.2 355.3L544.9 355L546.6 355L548.3 355.1L549.9 355.5L551.6 355.7L553.3 355.4L555 355L556.6 355.1L558.3 355.3L560 355.5L561.7 355.6L563.4 355.6L565 355.7L566.7 355.5L568.4 355.4L570.1 355L571.7 355.3L573.4 355.4L575.1 355.7L576.8 355.7L578.4 355.6L580.1 355.5L581.8 355.3L583.5 355.3L585.2 354.8L586.8 355.2L588.5 355.1L590.2 355.5L591.9 355.2L593.5 355.7L595.2 355.8L596.9 355.6L598.6 355.4L600.2 355.3L601.9 355.5L603.6 355.3L605.3 355.3L607 355.7L608.6 356L610.3 356.4L612 356.6L613.7 356.6L615.3 356L617 355.4L618.7 355.5L620.4 356L622 355.8L623.7 355.6L625.4 355.4L627.1 355.6L628.8 355.7L630.4 355.5L632.1 355.4L633.8 355.4" fill="none" stroke="#222" stroke-width="1.0" stroke-opacity="0.5" transform="translate(0 -0.6)" stroke-linejoin="round"/>
<path d="M86.2 352.3L95.5 351.8L100.5 351.5L102.2 352L103.9 359.9L105.5 370.9L107.2 375.3L108.9 376.6L111.4 377.8L114.8 377.1L116.4 377L118.1 376.7L119.8 377L121.5 377L123.1 377.2L124.8 377.3L126.5 376.9L128.2 376.7L129.8 376.6L131.5 376.8L133.2 377L134.9 377.5L136.6 377.6L138.2 377.7L139.9 377.2L141.6 377.5L143.3 377.6L144.9 377.7L146.6 377.3L148.3 377.2L150 377.2L151.6 377.2L153.3 377.4L155 377.5L156.7 378.2L158.4 377.8L160 377.6L161.7 377.1L163.4 377.3L165.1 377.5L166.7 377.7L168.4 377.9L170.1 378L171.8 378L173.4 377.8L175.1 377.7L176.8 377.7L178.5 378.1L180.2 378.4L181.8 378.1L183.5 377.9L185.2 377.9L186.9 378.2L188.5 378.6L190.2 378.6L191.9 378.5L193.6 378.4L195.3 378.4L196.9 378.7L198.6 378.6L200.3 378.9L202 378.9L203.6 379.1L205.3 378.7L207 378.9L208.7 378.6L210.3 378.5L212 378.5L213.7 378.7L215.4 379L217.1 379L218.7 379.1L220.4 379.1L222.1 378.8L223.8 378.7L225.4 378.8L227.1 379.4L228.8 379.3L230.5 379.6L232.1 379.6L233.8 379.5L235.5 379.5L237.2 379.1L238.9 379.1L240.5 378.9L242.2 379L243.9 379L245.6 379.1L247.2 379.4L248.9 380L250.6 380L252.3 379.6L253.9 379.2L255.6 379.5L257.3 379.9L259 380.2L260.7 380L262.3 380L264 379.9L265.7 379.9L267.4 380L269 380L270.7 380.1L272.4 380.1L274.1 380L275.7 379.7L277.4 379.7L279.1 379.8L280.8 380.5L282.5 380.5L284.1 380.9L285.8 380.9L287.5 380.9L289.2 380.4L290.8 380.2L292.5 380.7L294.2 381L295.9 381.1L297.5 380.7L299.2 380.3L300.9 380.1L302.4 381.7L303.2 367.2L304.1 352.5L305.4 350.8L307.6 352.5L310.1 353L313 354.7L316 351.8L320.2 352L326.9 352.3L328.6 352.7L330.2 352.6L331.9 352.6L333.6 352.6L335.3 352.8L337 352.3L338.6 352.1L340.3 351.7L342 352L343.7 352.2L345.3 352.5L347 352.5L348.7 352.7L350.4 353L352.1 353.2L353.7 353L355.4 352.7L357.1 352.4L358.8 352.4L360.4 352.7L362.1 353L363.8 353.2L365.5 352.7L367.1 352.6L368.8 352.5L370.5 352.5L372.2 352.7L373.9 353.2L375.5 353.1L377.2 352.7L378.9 353L380.6 352.9L382.2 352.8L383.9 352.1L385.6 352.5L387.3 352.8L388.9 353.3L390.6 352.7L392.3 352.7L394 352.1L395.7 352.8L397.3 352.8L399 353.5L400.7 353.5L402.4 353.3L404 353.3L405.7 352.9L407.4 353.1L409.1 353.1L410.7 353.5L412.4 353.6L414.1 353.4L415.8 353.5L417.5 353.6L419.1 353.6L420.8 353.8L422.5 353.9L424.2 353.9L425.8 353.5L427.5 353.5L429.2 353.5L430.9 353.9L432.5 353.8L434.2 353.6L435.9 353.6L437.6 353.1L439.3 353.5L440.9 353.3L442.6 353.7L444.3 353.7L446 353.7L447.6 353.7L449.3 353.4L451 353.5L452.7 353.8L454.3 353.9L456 353.9L457.7 353.5L459.4 353.7L461.1 353.7L462.7 354.4L464.4 354L466.1 354.3L467.8 354.3L469.4 354.5L471.1 354L472.8 354L474.5 354.2L476.1 354.7L477.8 354.6L479.5 354.3L481.2 354.3L482.9 354.2L484.5 354.2L486.2 354.2L487.9 354L489.6 354.4L491.2 354.5L492.9 355L494.6 354.4L496.3 354.2L497.9 353.8L499.6 354.2L501.3 354.1L503 354.2L504.7 353.8L506.3 354.1L508 354.4L509.7 355.1L511.4 355.2L513 354.7L514.7 354.3L516.4 354.2L518.1 354.7L519.8 355L521.4 354.5L523.1 354.8L524.8 354.7L526.5 355.2L528.1 354.4L529.8 354.8L531.5 354.6L533.2 355.2L534.8 355.2L536.5 354.8L538.2 354.3L539.9 354.2L541.6 354.8L543.2 355.4L544.9 355.4L546.6 355.2L548.3 354.8L549.9 354.8L551.6 355.1L553.3 355.1L555 355.1L556.6 354.6L558.3 354.1L560 354.2L561.7 354.7L563.4 355.1L565 355.2L566.7 355.3L568.4 355.3L570.1 355.4L571.7 355.1L573.4 355.1L575.1 354.9L576.8 355.1L578.4 355.2L580.1 355.5L581.8 355.5L583.5 355.5L585.2 355.3L586.8 355.2L588.5 355.4L590.2 355.5L591.9 355.8L593.5 355.7L595.2 355.8L596.9 355.9L598.6 355.8L600.2 355.7L601.9 355.3L603.6 355.4L605.3 355.6L607 355.8L608.6 355.8L610.3 355.8L612 355.6L613.7 355.8L615.3 355.7L617 355.7L618.7 355.5L620.4 355.6L622 355.6L623.7 355.9L625.4 355.7L627.1 355.8L628.8 355.4L630.4 355.4L632.1 355.7L633.8 355.8" fill="none" stroke="#1A1A1A" stroke-width="2.0" stroke-linejoin="round"/>
<text transform="translate(21.5 205.3) rotate(-90)" font-family="'Liberation Sans', Arial, sans-serif" font-size="24.5" fill="#222222" text-anchor="middle">RU</text>
<text x="306.6" y="477.6" font-family="'Liberation Sans', Arial, sans-serif" font-size="23.5" fill="#222222" textLength="115" lengthAdjust="spacingAndGlyphs">Time (sec)</text>
<path d="M484.8 37.7H527.9" stroke="#F21C1C" stroke-width="2.2"/>
<text x="536.8" y="44.8" font-family="'Liberation Sans', Arial, sans-serif" font-size="18" fill="#222222" textLength="61" lengthAdjust="spacingAndGlyphs"><tspan font-family="'Liberation Serif', serif">&#945;</tspan>7B_M</text>
<path d="M484.8 62.2H527.9" stroke="#2E2EDC" stroke-width="2.2"/>
<text x="536.8" y="69.4" font-family="'Liberation Sans', Arial, sans-serif" font-size="18" fill="#222222" textLength="83.5" lengthAdjust="spacingAndGlyphs"><tspan font-family="'Liberation Serif', serif">&#945;</tspan>7B_Scrb</text>
<path d="M484.8 86.8H527.9" stroke="#1A1A1A" stroke-width="2.2"/>
<text x="536.8" y="94.1" font-family="'Liberation Sans', Arial, sans-serif" font-size="18" fill="#222222" textLength="59" lengthAdjust="spacingAndGlyphs"><tspan font-family="'Liberation Serif', serif">&#945;</tspan>7B_C</text>
<g fill="none" stroke="#6a6a6a" stroke-width="1.6">
<path d="M723 28.8V407.9M717.2 407.9H1255"/>
</g>
<path d="M717.2 407.9H723M717.2 360H723M717.2 312.1H723M717.2 264.2H723M717.2 216.3H723M717.2 168.4H723M717.2 120.5H723M717.2 72.6H723M717.2 24.7h4.4M730.3 407.9v5.8M812.2 407.9v5.8M894 407.9v5.8M975.9 407.9v5.8M1057.8 407.9v5.8M1139.6 407.9v5.8M1221.5 407.9v5.8" fill="none" stroke="#666" stroke-width="1.6"/>
<g font-family="'Liberation Sans', Arial, sans-serif" fill="#222222">
<text x="706.8" y="415.6" font-size="21.5" text-anchor="end">-10</text>
<text x="706.8" y="367.7" font-size="21.5" text-anchor="end">-5</text>
<text x="706.8" y="319.8" font-size="21.5" text-anchor="end">0</text>
<text x="706.8" y="271.9" font-size="21.5" text-anchor="end">5</text>
<text x="706.8" y="224" font-size="21.5" text-anchor="end">10</text>
<text x="706.8" y="176.1" font-size="21.5" text-anchor="end">15</text>
<text x="706.8" y="128.2" font-size="21.5" text-anchor="end">20</text>
<text x="706.8" y="80.3" font-size="21.5" text-anchor="end">25</text>
<text x="706.8" y="32.4" font-size="21.5" text-anchor="end">30</text>
<text x="730.3" y="442.8" font-size="21.5" text-anchor="middle">0</text>
<text x="812.2" y="442.8" font-size="21.5" text-anchor="middle">50</text>
<text x="894" y="442.8" font-size="21.5" text-anchor="middle">100</text>
<text x="975.9" y="442.8" font-size="21.5" text-anchor="middle">150</text>
<text x="1057.8" y="442.8" font-size="21.5" text-anchor="middle">200</text>
<text x="1139.6" y="442.8" font-size="21.5" text-anchor="middle">250</text>
<text x="1221.5" y="442.8" font-size="21.5" text-anchor="middle">300</text>
</g>
<path d="M722.9 309.7L727 308.7L730.3 309.2L731 308.3L732.3 178L733.6 48.7L734.6 38.1L735.5 41L736.8 47.7L738.8 56.3L740.9 60.1L743.1 62.1L744.7 61.7L746.3 63.6L748 64L749.6 63.8L751.3 62.4L752.9 63L754.5 65.3L756.2 65.8L757.8 66.5L759.4 67.7L761.1 68.7L762.7 70.3L764.4 70.1L766 71.4L767.6 70.1L769.3 70L770.9 69.7L772.5 69.6L774.2 68.4L775.8 68.8L777.5 70.3L779.1 72.4L780.7 72.9L782.4 72.6L784 71.5L785.6 71L787.3 70.6L788.9 71.4L790.6 71.5L792.2 71.7L793.8 70.8L795.5 70L797.1 70.2L798.7 70.8L800.4 71.3L802 72.3L803.7 73.2L805.3 73.1L806.9 72.4L808.6 71.1L810.2 72.6L811.8 72.8L813.5 73.4L815.1 72.8L816.7 74.1L818.4 73.8L820 72.6L821.7 70.7L823.3 70.8L824.9 71.4L826.6 71.1L828.2 72.6L829.8 72.6L831.5 72.7L833.1 70.3L834.8 69L836.4 68.5L838 68.7L839.7 69.6L841.3 69.8L842.9 70.4L844.6 70.6L846.2 70.5L847.9 68.7L849.5 68.8L851.1 69.5L852.8 70.7L854.4 69.8L856 69.9L857.7 69.2L859.3 71L861 71.3L862.6 72.6L864.2 71.6L865.9 71L867.5 72.1L869.1 73.5L870.8 74.2L872.4 73.9L874.1 74.6L875.7 74.4L877.3 73.9L879 72.8L880.6 74L882.2 73.8L883.9 74.4L885.5 73.4L887.2 74.9L888.8 75.4L890.4 76.1L892.1 76L893.7 75L895.3 75L897 75.2L898.6 75.7L900.3 76.2L901.9 75L903.5 75.6L905.2 75.7L906.8 75.6L908.4 73.7L910.1 72.2L911.7 73.1L913.4 74.6L915 75L916.6 75.2L918.3 76.1L919.9 77.1L921.5 76.7L923.2 76.6L924.8 77.6L927.6 72.6L929.7 65.9L931.7 66.9L934 64L935.5 64.9L936.6 86.3L938.2 105.3L939.9 115.1L941.5 130.5L943.1 143.2L944.8 150.6L946.4 160.4L948.1 169.5L949.7 175.9L951.3 179.1L953 183.1L954.6 186.8L956.2 191.4L957.9 195L959.5 197.4L961.2 201.1L962.8 204.4L964.4 207.8L966.1 208L967.7 209.3L969.3 211.5L971 214.8L972.6 216.3L974.3 218.3L975.9 220.7L977.5 222.9L979.2 224.2L980.8 225.2L982.4 227.7L984.1 228.3L985.7 229.2L987.4 230L989 232L990.6 235.5L992.3 236.7L993.9 238.4L995.5 238.2L997.2 239.3L998.8 240.5L1000.5 242.8L1002.1 244L1003.7 245.3L1005.4 245.5L1007 247L1008.6 247.7L1010.3 249.8L1011.9 249.7L1013.6 250.2L1015.2 249.1L1016.8 249.5L1018.5 250.5L1020.1 252.9L1021.7 255.4L1023.4 256.8L1025 256.8L1026.7 256.9L1028.3 258L1029.9 258.2L1031.6 259.7L1033.2 259L1034.8 259.8L1036.5 259.7L1038.1 260.5L1039.7 261.2L1041.4 261.9L1043 263.3L1044.7 263.5L1046.3 262.6L1047.9 260.9L1049.6 260.6L1051.2 261.7L1052.8 263.6L1054.5 264L1056.1 264.8L1057.8 264.9L1059.4 266.3L1061 266.6L1062.7 267.2L1064.3 267.4L1065.9 268.5L1067.6 268.8L1069.2 267.8L1070.9 267.6L1072.5 267.9L1074.1 269.2L1075.8 269.1L1077.4 269.9L1079 270.7L1080.7 270.8L1082.3 270.4L1084 270.5L1085.6 270.4L1087.2 271.2L1088.9 271.5L1090.5 273L1092.1 272.1L1093.8 273.5L1095.4 273.9L1097.1 275.3L1098.7 274.1L1100.3 273.6L1102 272.8L1103.6 274.3L1105.2 274.5L1106.9 275.7L1108.5 275.4L1110.2 275.7L1111.8 276.3L1113.4 277.3L1115.1 278L1116.7 278.5L1118.3 277.8L1120 277.5L1121.6 276.6L1123.3 275.4L1124.9 275.9L1126.5 277.1L1128.2 278.5L1129.8 279.1L1131.4 279L1133.1 278.4L1134.7 278.4L1136.4 278.9L1138 278.9L1139.6 278.7L1141.3 277.4L1142.9 277.9L1144.5 277.5L1146.2 277.8L1147.8 277.2L1149.4 277.4L1151.1 277.3L1152.7 277.9L1154.4 279.1L1156 279.5L1157.6 279.9L1159.3 279.1L1160.9 279.8L1162.5 278.8L1164.2 279L1165.8 279L1167.5 281L1169.1 281.3L1170.7 280.7L1172.4 280.2L1174 280.1L1175.6 280.4L1177.3 279.8L1178.9 280.3L1180.6 280.1L1182.2 279.9L1183.8 278.1L1185.5 278.7L1187.1 279.6L1188.7 281.6L1190.4 280.7L1192 281.1L1193.7 281L1195.3 281.5L1196.9 281.5L1198.6 281.9L1200.2 282.2L1201.8 282.9L1203.5 283.3L1205.1 283.4L1206.8 282.2L1208.4 281.6L1210 282.5L1211.7 282.9L1213.3 282.5L1214.9 281.3L1216.6 281.1L1218.2 282.2L1219.9 282.3L1221.5 282.7L1223.1 283L1224.8 283.9L1226.4 282.8L1228 282.1L1229.7 281.1L1231.3 282.2L1233 281.9L1234.6 283L1236.2 282.8L1237.9 282L1239.5 281.2L1241.1 281.4L1242.8 282.9L1244.4 283.1L1248.3 280.8L1250.1 280" fill="none" stroke="#F21C1C" stroke-width="2.2" stroke-linejoin="round"/>
<path d="M722.9 309.7L727 308.7L730.3 309.2L731 308.3L732.3 178L733.6 48.7L734.6 38.1L735.5 41L736.8 47.7L738.8 56.3L740.9 60.1L743.1 62.1L744.7 61.7L746.3 63.6L748 64L749.6 63.8L751.3 62.4L752.9 63L754.5 65.3L756.2 65.8L757.8 66.5L759.4 67.7L761.1 68.7L762.7 70.3L764.4 70.1L766 71.4L767.6 70.1L769.3 70L770.9 69.7L772.5 69.6L774.2 68.4L775.8 68.8L777.5 70.3L779.1 72.4L780.7 72.9L782.4 72.6L784 71.5L785.6 71L787.3 70.6L788.9 71.4L790.6 71.5L792.2 71.7L793.8 70.8L795.5 70L797.1 70.2L798.7 70.8L800.4 71.3L802 72.3L803.7 73.2L805.3 73.1L806.9 72.4L808.6 71.1L810.2 72.6L811.8 72.8L813.5 73.4L815.1 72.8L816.7 74.1L818.4 73.8L820 72.6L821.7 70.7L823.3 70.8L824.9 71.4L826.6 71.1L828.2 72.6L829.8 72.6L831.5 72.7L833.1 70.3L834.8 69L836.4 68.5L838 68.7L839.7 69.6L841.3 69.8L842.9 70.4L844.6 70.6L846.2 70.5L847.9 68.7L849.5 68.8L851.1 69.5L852.8 70.7L854.4 69.8L856 69.9L857.7 69.2L859.3 71L861 71.3L862.6 72.6L864.2 71.6L865.9 71L867.5 72.1L869.1 73.5L870.8 74.2L872.4 73.9L874.1 74.6L875.7 74.4L877.3 73.9L879 72.8L880.6 74L882.2 73.8L883.9 74.4L885.5 73.4L887.2 74.9L888.8 75.4L890.4 76.1L892.1 76L893.7 75L895.3 75L897 75.2L898.6 75.7L900.3 76.2L901.9 75L903.5 75.6L905.2 75.7L906.8 75.6L908.4 73.7L910.1 72.2L911.7 73.1L913.4 74.6L915 75L916.6 75.2L918.3 76.1L919.9 77.1L921.5 76.7L923.2 76.6L924.8 77.6L927.6 72.6L929.7 65.9L931.7 66.9L934 64L935.5 64.9L936.6 86.3L938.2 105.3L939.9 115.1L941.5 130.5L943.1 143.2L944.8 150.6L946.4 160.4L948.1 169.5L949.7 175.9L951.3 179.1L953 183.1L954.6 186.8L956.2 191.4L957.9 195L959.5 197.4L961.2 201.1L962.8 204.4L964.4 207.8L966.1 208L967.7 209.3L969.3 211.5L971 214.8L972.6 216.3L974.3 218.3L975.9 220.7L977.5 222.9L979.2 224.2L980.8 225.2L982.4 227.7L984.1 228.3L985.7 229.2L987.4 230L989 232L990.6 235.5L992.3 236.7L993.9 238.4L995.5 238.2L997.2 239.3L998.8 240.5L1000.5 242.8L1002.1 244L1003.7 245.3L1005.4 245.5L1007 247L1008.6 247.7L1010.3 249.8L1011.9 249.7L1013.6 250.2L1015.2 249.1L1016.8 249.5L1018.5 250.5L1020.1 252.9L1021.7 255.4L1023.4 256.8L1025 256.8L1026.7 256.9L1028.3 258L1029.9 258.2L1031.6 259.7L1033.2 259L1034.8 259.8L1036.5 259.7L1038.1 260.5L1039.7 261.2L1041.4 261.9L1043 263.3L1044.7 263.5L1046.3 262.6L1047.9 260.9L1049.6 260.6L1051.2 261.7L1052.8 263.6L1054.5 264L1056.1 264.8L1057.8 264.9L1059.4 266.3L1061 266.6L1062.7 267.2L1064.3 267.4L1065.9 268.5L1067.6 268.8L1069.2 267.8L1070.9 267.6L1072.5 267.9L1074.1 269.2L1075.8 269.1L1077.4 269.9L1079 270.7L1080.7 270.8L1082.3 270.4L1084 270.5L1085.6 270.4L1087.2 271.2L1088.9 271.5L1090.5 273L1092.1 272.1L1093.8 273.5L1095.4 273.9L1097.1 275.3L1098.7 274.1L1100.3 273.6L1102 272.8L1103.6 274.3L1105.2 274.5L1106.9 275.7L1108.5 275.4L1110.2 275.7L1111.8 276.3L1113.4 277.3L1115.1 278L1116.7 278.5L1118.3 277.8L1120 277.5L1121.6 276.6L1123.3 275.4L1124.9 275.9L1126.5 277.1L1128.2 278.5L1129.8 279.1L1131.4 279L1133.1 278.4L1134.7 278.4L1136.4 278.9L1138 278.9L1139.6 278.7L1141.3 277.4L1142.9 277.9L1144.5 277.5L1146.2 277.8L1147.8 277.2L1149.4 277.4L1151.1 277.3L1152.7 277.9L1154.4 279.1L1156 279.5L1157.6 279.9L1159.3 279.1L1160.9 279.8L1162.5 278.8L1164.2 279L1165.8 279L1167.5 281L1169.1 281.3L1170.7 280.7L1172.4 280.2L1174 280.1L1175.6 280.4L1177.3 279.8L1178.9 280.3L1180.6 280.1L1182.2 279.9L1183.8 278.1L1185.5 278.7L1187.1 279.6L1188.7 281.6L1190.4 280.7L1192 281.1L1193.7 281L1195.3 281.5L1196.9 281.5L1198.6 281.9L1200.2 282.2L1201.8 282.9L1203.5 283.3L1205.1 283.4L1206.8 282.2L1208.4 281.6L1210 282.5L1211.7 282.9L1213.3 282.5L1214.9 281.3L1216.6 281.1L1218.2 282.2L1219.9 282.3L1221.5 282.7L1223.1 283L1224.8 283.9L1226.4 282.8L1228 282.1L1229.7 281.1L1231.3 282.2L1233 281.9L1234.6 283L1236.2 282.8L1237.9 282L1239.5 281.2L1241.1 281.4L1242.8 282.9L1244.4 283.1L1248.3 280.8L1250.1 280" fill="none" stroke="#402020" stroke-width="0.9" stroke-opacity="0.3" transform="translate(0 -0.6)" stroke-linejoin="round"/>
<path d="M722.9 308.3L725.4 307.8L728.7 306.4L730.8 304.4L731.6 278.6L732.3 264.7L733.6 267.1L734.9 266.1L736.2 268.5L737.8 274.7L739.1 280.5L740.8 283.4L742.4 284.7L744.1 286.4L745.7 286.4L747.3 285.1L749 284.1L750.6 284.2L752.2 283.9L753.9 286.5L755.5 286.3L757.2 285.5L758.8 284.2L760.4 285.1L762.1 287.2L763.7 286.6L765.3 288L767 288.5L768.6 289.9L770.3 288.5L771.9 288.9L773.5 289L775.2 289.9L776.8 289.3L778.4 289.5L780.1 290.1L781.7 290.1L783.3 289.1L785 288.8L786.6 288.9L788.3 289.1L789.9 289.2L791.5 288.8L793.2 290.4L794.8 288.4L796.4 286.5L798.1 283.7L799.7 284.9L801.4 286.3L803 288L804.6 287.8L806.3 287L807.9 288.3L809.5 287.3L811.2 288.7L812.8 286.2L814.5 286.9L816.1 287.4L817.7 288.4L819.4 287.8L821 287.2L822.6 287L824.3 288.2L825.9 290.1L827.6 289.8L829.2 288.7L830.8 286.7L832.5 287.5L834.1 287.2L835.7 287.8L837.4 288.6L839 289.7L840.7 288.3L842.3 288.9L843.9 287.8L845.6 289.5L847.2 289.3L848.8 289.3L850.5 289L852.1 289.3L853.8 290.9L855.4 290.1L857 288L858.7 288.2L860.3 288.9L861.9 289.5L863.6 290L865.2 290.3L866.9 291.3L868.5 291.5L870.1 292.6L871.8 292.9L873.4 292.7L875 293.1L876.7 293.8L878.3 293L879.9 292.6L881.6 291.6L883.2 291.8L884.9 291.7L886.5 290.7L888.1 292.8L889.8 292.9L891.4 295.7L893 293.7L894.7 293.3L896.3 295.2L898 298.3L899.6 299.6L901.2 297.6L902.9 296.4L904.5 297.3L906.1 297.8L907.8 298.1L909.4 298.2L911.1 297.8L912.7 300.6L914.3 300.1L916 302.1L917.6 299.4L919.2 300.4L920.9 300.4L922.5 301.1L924.2 302L926.4 302.5L927.6 285.3L928.9 268.5L930.5 270.9L932.7 270.9L934.1 274.7L935.8 281.4L938.2 288.2L940.4 291.6L942 294.4L943.6 294.4L945.3 293.6L946.9 294.4L948.6 294.7L950.2 295.9L951.8 296.4L953.5 297.1L955.1 296.8L956.7 297.4L958.4 298.3L960 299.4L961.7 299.4L963.3 300.2L964.9 299.6L966.6 300.2L968.2 299.5L969.8 301L971.5 300.7L973.1 301L974.7 300.9L976.4 299.9L978 300L979.7 298.6L981.3 299.5L982.9 300.3L984.6 301.8L986.2 302.3L987.8 301.9L989.5 301.6L991.1 302.2L992.8 303.6L994.4 303.8L996 305.2L997.7 303.8L999.3 304.2L1000.9 303.3L1002.6 303.8L1004.2 303.2L1005.9 303.7L1007.5 304.9L1009.1 305.9L1010.8 306.4L1012.4 305.9L1014 304.2L1015.7 303.6L1017.3 302.6L1019 304.7L1020.6 303.8L1022.2 304.6L1023.9 303.7L1025.5 303.6L1027.1 302.3L1028.8 302.2L1030.4 302.5L1032.1 304.4L1033.7 304.2L1035.3 304.5L1037 303.3L1038.6 303.8L1040.2 302.5L1041.9 304.4L1043.5 304.6L1045.2 305.3L1046.8 304.2L1048.4 304.6L1050.1 305.4L1051.7 306.1L1053.3 305.5L1055 303.7L1056.6 302L1058.3 302.9L1059.9 305.2L1061.5 306.3L1063.2 304.9L1064.8 304.9L1066.4 305.1L1068.1 305.2L1069.7 304.1L1071.3 303.9L1073 305.3L1074.6 307L1076.3 307.3L1077.9 308.1L1079.5 306.5L1081.2 306.5L1082.8 304.7L1084.4 304L1086.1 302.8L1087.7 304L1089.4 304.7L1091 304.8L1092.6 304.5L1094.3 305.8L1095.9 306.7L1097.5 307.3L1099.2 305.7L1100.8 307.3L1102.5 307L1104.1 308.3L1105.7 306.8L1107.4 306L1109 305.7L1110.6 305.7L1112.3 305.1L1113.9 306.8L1115.6 306.7L1117.2 308L1118.8 306.5L1120.5 306.4L1122.1 306.6L1123.7 307.2L1125.4 306.8L1127 306L1128.7 306.1L1130.3 305.3L1131.9 304L1133.6 304.6L1135.2 305.8L1136.8 305.7L1138.5 304.2L1140.1 304.3L1141.8 306.2L1143.4 307.2L1145 307.5L1146.7 307.8L1148.3 307L1149.9 307.2L1151.6 307.1L1153.2 308.5L1154.9 308.3L1156.5 308.7L1158.1 308.1L1159.8 307.4L1161.4 306.6L1163 306.2L1164.7 306.7L1166.3 306.9L1168 307.4L1169.6 307.9L1171.2 307.5L1172.9 308.2L1174.5 307.2L1176.1 307.7L1177.8 307.5L1179.4 308.8L1181 309.4L1182.7 308.8L1184.3 309L1186 307.8L1187.6 308.5L1189.2 309.6L1190.9 310.9L1192.5 311.8L1194.1 310.4L1195.8 309.2L1197.4 307.4L1199.1 308.3L1200.7 309.6L1202.3 308.9L1204 307.8L1205.6 307.3L1207.2 307.9L1208.9 306.4L1210.5 305.6L1212.2 306.3L1213.8 307.7L1215.4 308.2L1217.1 308.8L1218.7 309.8L1220.3 310.2L1222 310.4L1223.6 309.8L1225.3 309.8L1226.9 307.6L1228.5 308.2L1230.2 308.3L1231.8 310.1L1233.4 309.2L1235.1 308.5L1236.7 308.7L1238.4 309.6L1240 311.5L1241.6 311.8L1243.3 310.9L1244.9 309.8L1246.5 309.8L1248.2 310.5L1249.8 310.5" fill="none" stroke="#2E2EDC" stroke-width="2.1" stroke-linejoin="round"/>
<path d="M722.9 308.3L725.4 307.8L728.7 306.4L730.8 304.4L731.6 278.6L732.3 264.7L733.6 267.1L734.9 266.1L736.2 268.5L737.8 274.7L739.1 280.5L740.8 283.4L742.4 284.7L744.1 286.4L745.7 286.4L747.3 285.1L749 284.1L750.6 284.2L752.2 283.9L753.9 286.5L755.5 286.3L757.2 285.5L758.8 284.2L760.4 285.1L762.1 287.2L763.7 286.6L765.3 288L767 288.5L768.6 289.9L770.3 288.5L771.9 288.9L773.5 289L775.2 289.9L776.8 289.3L778.4 289.5L780.1 290.1L781.7 290.1L783.3 289.1L785 288.8L786.6 288.9L788.3 289.1L789.9 289.2L791.5 288.8L793.2 290.4L794.8 288.4L796.4 286.5L798.1 283.7L799.7 284.9L801.4 286.3L803 288L804.6 287.8L806.3 287L807.9 288.3L809.5 287.3L811.2 288.7L812.8 286.2L814.5 286.9L816.1 287.4L817.7 288.4L819.4 287.8L821 287.2L822.6 287L824.3 288.2L825.9 290.1L827.6 289.8L829.2 288.7L830.8 286.7L832.5 287.5L834.1 287.2L835.7 287.8L837.4 288.6L839 289.7L840.7 288.3L842.3 288.9L843.9 287.8L845.6 289.5L847.2 289.3L848.8 289.3L850.5 289L852.1 289.3L853.8 290.9L855.4 290.1L857 288L858.7 288.2L860.3 288.9L861.9 289.5L863.6 290L865.2 290.3L866.9 291.3L868.5 291.5L870.1 292.6L871.8 292.9L873.4 292.7L875 293.1L876.7 293.8L878.3 293L879.9 292.6L881.6 291.6L883.2 291.8L884.9 291.7L886.5 290.7L888.1 292.8L889.8 292.9L891.4 295.7L893 293.7L894.7 293.3L896.3 295.2L898 298.3L899.6 299.6L901.2 297.6L902.9 296.4L904.5 297.3L906.1 297.8L907.8 298.1L909.4 298.2L911.1 297.8L912.7 300.6L914.3 300.1L916 302.1L917.6 299.4L919.2 300.4L920.9 300.4L922.5 301.1L924.2 302L926.4 302.5L927.6 285.3L928.9 268.5L930.5 270.9L932.7 270.9L934.1 274.7L935.8 281.4L938.2 288.2L940.4 291.6L942 294.4L943.6 294.4L945.3 293.6L946.9 294.4L948.6 294.7L950.2 295.9L951.8 296.4L953.5 297.1L955.1 296.8L956.7 297.4L958.4 298.3L960 299.4L961.7 299.4L963.3 300.2L964.9 299.6L966.6 300.2L968.2 299.5L969.8 301L971.5 300.7L973.1 301L974.7 300.9L976.4 299.9L978 300L979.7 298.6L981.3 299.5L982.9 300.3L984.6 301.8L986.2 302.3L987.8 301.9L989.5 301.6L991.1 302.2L992.8 303.6L994.4 303.8L996 305.2L997.7 303.8L999.3 304.2L1000.9 303.3L1002.6 303.8L1004.2 303.2L1005.9 303.7L1007.5 304.9L1009.1 305.9L1010.8 306.4L1012.4 305.9L1014 304.2L1015.7 303.6L1017.3 302.6L1019 304.7L1020.6 303.8L1022.2 304.6L1023.9 303.7L1025.5 303.6L1027.1 302.3L1028.8 302.2L1030.4 302.5L1032.1 304.4L1033.7 304.2L1035.3 304.5L1037 303.3L1038.6 303.8L1040.2 302.5L1041.9 304.4L1043.5 304.6L1045.2 305.3L1046.8 304.2L1048.4 304.6L1050.1 305.4L1051.7 306.1L1053.3 305.5L1055 303.7L1056.6 302L1058.3 302.9L1059.9 305.2L1061.5 306.3L1063.2 304.9L1064.8 304.9L1066.4 305.1L1068.1 305.2L1069.7 304.1L1071.3 303.9L1073 305.3L1074.6 307L1076.3 307.3L1077.9 308.1L1079.5 306.5L1081.2 306.5L1082.8 304.7L1084.4 304L1086.1 302.8L1087.7 304L1089.4 304.7L1091 304.8L1092.6 304.5L1094.3 305.8L1095.9 306.7L1097.5 307.3L1099.2 305.7L1100.8 307.3L1102.5 307L1104.1 308.3L1105.7 306.8L1107.4 306L1109 305.7L1110.6 305.7L1112.3 305.1L1113.9 306.8L1115.6 306.7L1117.2 308L1118.8 306.5L1120.5 306.4L1122.1 306.6L1123.7 307.2L1125.4 306.8L1127 306L1128.7 306.1L1130.3 305.3L1131.9 304L1133.6 304.6L1135.2 305.8L1136.8 305.7L1138.5 304.2L1140.1 304.3L1141.8 306.2L1143.4 307.2L1145 307.5L1146.7 307.8L1148.3 307L1149.9 307.2L1151.6 307.1L1153.2 308.5L1154.9 308.3L1156.5 308.7L1158.1 308.1L1159.8 307.4L1161.4 306.6L1163 306.2L1164.7 306.7L1166.3 306.9L1168 307.4L1169.6 307.9L1171.2 307.5L1172.9 308.2L1174.5 307.2L1176.1 307.7L1177.8 307.5L1179.4 308.8L1181 309.4L1182.7 308.8L1184.3 309L1186 307.8L1187.6 308.5L1189.2 309.6L1190.9 310.9L1192.5 311.8L1194.1 310.4L1195.8 309.2L1197.4 307.4L1199.1 308.3L1200.7 309.6L1202.3 308.9L1204 307.8L1205.6 307.3L1207.2 307.9L1208.9 306.4L1210.5 305.6L1212.2 306.3L1213.8 307.7L1215.4 308.2L1217.1 308.8L1218.7 309.8L1220.3 310.2L1222 310.4L1223.6 309.8L1225.3 309.8L1226.9 307.6L1228.5 308.2L1230.2 308.3L1231.8 310.1L1233.4 309.2L1235.1 308.5L1236.7 308.7L1238.4 309.6L1240 311.5L1241.6 311.8L1243.3 310.9L1244.9 309.8L1246.5 309.8L1248.2 310.5L1249.8 310.5" fill="none" stroke="#222" stroke-width="1.0" stroke-opacity="0.45" transform="translate(0 -0.6)" stroke-linejoin="round"/>
<path d="M722.9 311.1L725.4 310.7L728.7 310.2L730.3 312.1L731.3 319.8L732.3 336.1L733.2 356.2L734.2 368.6L735.5 370.5L737.2 372L738.5 371.5L740.1 371.1L741.8 372.1L743.4 371.9L745 369.9L746.7 369.4L748.3 368.2L749.9 368.6L751.6 366.9L753.2 366.9L754.9 366.8L756.5 366.2L758.1 365.4L759.8 366.2L761.4 365.8L763 365.7L764.7 364.2L766.3 363.5L768 362.2L769.6 361.1L771.2 361.5L772.9 361.2L774.5 360.9L776.1 359.7L777.8 359.3L779.4 360.2L781.1 361.2L782.7 361.6L784.3 362.4L786 362.2L787.6 363.1L789.2 362.4L790.9 363.8L792.5 364L794.2 363.8L795.8 361.9L797.4 360.6L799.1 360.6L800.7 361.3L802.3 362.4L804 361.9L805.6 361.7L807.3 360.5L808.9 359.3L810.5 359L812.2 360.3L813.8 362L815.4 362.9L817.1 362.6L818.7 360.9L820.4 359.6L822 359.7L823.6 360.1L825.3 359.2L826.9 358.3L828.5 359.1L830.2 360.1L831.8 359.5L833.4 358.4L835.1 357.3L836.7 356.5L838.4 356.1L840 356L841.6 356.5L843.3 358.5L844.9 359.7L846.5 360.2L848.2 359.6L849.8 359L851.5 359.7L853.1 360.3L854.7 360.1L856.4 359.5L858 358.9L859.6 359.5L861.3 359.4L862.9 359.6L864.6 362.2L866.2 363.6L867.8 364.4L869.5 363.5L871.1 363.1L872.7 362.1L874.4 361.9L876 363L877.7 362.5L879.3 362.6L880.9 362.8L882.6 364.2L884.2 363.7L885.8 363.4L887.5 363.1L889.1 363.9L890.8 364.1L892.4 364.6L894 363.8L895.7 363.7L897.3 363.6L898.9 364.3L900.6 361.8L902.2 362.6L903.9 361.6L905.5 363.7L907.1 363.3L908.8 363.9L910.4 363.3L912 362.4L913.7 362.7L915.3 363.9L917 365.4L918.6 365.4L920.2 364.8L921.9 363.6L923.5 363.9L925.8 367.2L926.4 340.8L927.3 307L928.4 308.7L930.1 310.2L931.7 309.2L933.3 307.3L935 309L936.6 310.7L938.2 311.7L939.9 309.4L941.5 309L943.1 306.9L944.8 307.2L946.4 305.1L948.1 305.1L949.7 305.4L951.3 306.7L953 307.2L954.6 307L956.2 307.2L957.9 307.2L959.5 306.1L961.2 306.7L962.8 306.1L964.4 307.2L966.1 305.3L967.7 304.3L969.3 303L971 302L972.6 303.2L974.3 302.1L975.9 302.9L977.5 301.4L979.2 302L980.8 303.4L982.4 304.4L984.1 304.4L985.7 301.7L987.4 301L989 301.1L990.6 303.1L992.3 302.3L993.9 301.3L995.5 300.3L997.2 301.4L998.8 303.7L1000.5 303.2L1002.1 301.2L1003.7 299.6L1005.4 299.4L1007 300.8L1008.6 302L1010.3 301.9L1011.9 303.1L1013.6 302.6L1015.2 303.3L1016.8 301.9L1018.5 301.5L1020.1 301.4L1021.7 302.5L1023.4 303.6L1025 303.9L1026.7 303.8L1028.3 303.8L1029.9 304.7L1031.6 304.6L1033.2 305L1034.8 305L1036.5 305.8L1038.1 304.5L1039.7 303.3L1041.4 300.9L1043 302L1044.7 302.8L1046.3 303.6L1047.9 302.7L1049.6 302.5L1051.2 302L1052.8 302.2L1054.5 302.8L1056.1 304.9L1057.8 304.5L1059.4 303.5L1061 303.6L1062.7 304.5L1064.3 304.4L1065.9 303.2L1067.6 303L1069.2 303L1070.9 303L1072.5 303.8L1074.1 304.5L1075.8 304.7L1077.4 303.9L1079 305.2L1080.7 305.7L1082.3 304.8L1084 302.3L1085.6 303.7L1087.2 302.5L1088.9 304.3L1090.5 302.3L1092.1 303.2L1093.8 301.8L1095.4 302.4L1097.1 304.1L1098.7 304.4L1100.3 305L1102 306L1103.6 304.5L1105.2 303.6L1106.9 300.7L1108.5 303.3L1110.2 302.8L1111.8 303L1113.4 301.4L1115.1 302.5L1116.7 304.4L1118.3 305.6L1120 307.1L1121.6 307.5L1123.3 307.4L1124.9 306.6L1126.5 305.6L1128.2 305.8L1129.8 303.9L1131.4 303L1133.1 303L1134.7 303.5L1136.4 304.9L1138 305.2L1139.6 305.4L1141.3 305.8L1142.9 305.8L1144.5 307.4L1146.2 306.5L1147.8 305.2L1149.4 304.9L1151.1 304.9L1152.7 306.6L1154.4 306.9L1156 308L1157.6 306.4L1159.3 304.1L1160.9 303L1162.5 304.5L1164.2 305.7L1165.8 306.3L1167.5 305.3L1169.1 305.6L1170.7 305.2L1172.4 305.4L1174 306L1175.6 306.5L1177.3 308.2L1178.9 308.1L1180.6 308.9L1182.2 307.8L1183.8 308.2L1185.5 307.3L1187.1 306.9L1188.7 307.3L1190.4 307.9L1192 308.9L1193.7 307.5L1195.3 305.9L1196.9 304.7L1198.6 305.5L1200.2 305.8L1201.8 307.4L1203.5 306.3L1205.1 307.8L1206.8 308.7L1208.4 308L1210 306.6L1211.7 305.5L1213.3 307.2L1214.9 308.5L1216.6 307.9L1218.2 309.1L1219.9 309.5L1221.5 309.4L1223.1 308.3L1224.8 307.1L1226.4 307.5L1228 306.2L1229.7 307.6L1231.3 307.6L1233 310.6L1234.6 311.1L1236.2 310.5L1237.9 310L1239.5 308.9L1241.1 310L1242.8 310.2L1244.4 310.9L1246 311.3L1247.7 311.1L1249.3 310.5L1251 309.9" fill="none" stroke="#1A1A1A" stroke-width="2.0" stroke-linejoin="round"/>
<text transform="translate(658 216.4) rotate(-90)" font-family="'Liberation Sans', Arial, sans-serif" font-size="24.5" fill="#222222" text-anchor="middle">RU</text>
<text x="932.8" y="482.8" font-family="'Liberation Sans', Arial, sans-serif" font-size="23" fill="#222222" textLength="112" lengthAdjust="spacingAndGlyphs">Time (sec)</text>
<path d="M1111.8 48.2H1153.6" stroke="#F21C1C" stroke-width="2.2"/>
<text x="1163.3" y="55.4" font-family="'Liberation Sans', Arial, sans-serif" font-size="17.5" fill="#222222" textLength="59.5" lengthAdjust="spacingAndGlyphs"><tspan font-family="'Liberation Serif', serif">&#945;</tspan>7B_M</text>
<path d="M1111.8 72.7H1153.6" stroke="#2E2EDC" stroke-width="2.2"/>
<text x="1163.3" y="79.9" font-family="'Liberation Sans', Arial, sans-serif" font-size="17.5" fill="#222222" textLength="81" lengthAdjust="spacingAndGlyphs"><tspan font-family="'Liberation Serif', serif">&#945;</tspan>7B_Scrb</text>
<path d="M1111.8 96.7H1153.6" stroke="#1A1A1A" stroke-width="2.2"/>
<text x="1163.3" y="104.4" font-family="'Liberation Sans', Arial, sans-serif" font-size="17.5" fill="#222222" textLength="57" lengthAdjust="spacingAndGlyphs"><tspan font-family="'Liberation Serif', serif">&#945;</tspan>7B_C</text>
<g fill="none" stroke="#8a8a8a" stroke-width="1.6">
<path d="M1364.7 27V409.7M1358.4 409.7H1895"/>
</g>
<path d="M1358.4 409.8H1364.7M1358.4 346H1364.7M1358.4 282.2H1364.7M1358.4 218.4H1364.7M1358.4 154.6H1364.7M1358.4 90.8H1364.7M1358.4 27H1364.7M1373.3 409.7v6.3M1454.6 409.7v6.3M1535.9 409.7v6.3M1617.2 409.7v6.3M1698.5 409.7v6.3M1779.8 409.7v6.3M1861.1 409.7v6.3" fill="none" stroke="#7a7a7a" stroke-width="1.6"/>
<g font-family="'Liberation Sans', Arial, sans-serif" fill="#222222">
<text x="1348.4" y="417.5" font-size="21.5" text-anchor="end">-100</text>
<text x="1348.4" y="353.7" font-size="21.5" text-anchor="end">0</text>
<text x="1348.4" y="289.9" font-size="21.5" text-anchor="end">100</text>
<text x="1348.4" y="226.1" font-size="21.5" text-anchor="end">200</text>
<text x="1348.4" y="162.3" font-size="21.5" text-anchor="end">300</text>
<text x="1348.4" y="98.5" font-size="21.5" text-anchor="end">400</text>
<text x="1348.4" y="34.7" font-size="21.5" text-anchor="end">500</text>
<text x="1373.3" y="444.6" font-size="21.5" text-anchor="middle">0</text>
<text x="1454.6" y="444.6" font-size="21.5" text-anchor="middle">50</text>
<text x="1535.9" y="444.6" font-size="21.5" text-anchor="middle">100</text>
<text x="1617.2" y="444.6" font-size="21.5" text-anchor="middle">150</text>
<text x="1698.5" y="444.6" font-size="21.5" text-anchor="middle">200</text>
<text x="1779.8" y="444.6" font-size="21.5" text-anchor="middle">250</text>
<text x="1861.1" y="444.6" font-size="21.5" text-anchor="middle">300</text>
</g>
<path d="M1359.5 346L1366.8 345.7L1371.7 346L1373.3 347.9L1374 351.7L1374.8 346L1374.9 345.4L1375.1 345.3L1375.3 345.2L1375.4 345.1L1375.6 345L1375.7 345L1375.9 344.9L1376.1 344.9L1376.2 344.8L1376.4 344.8L1376.6 344.7L1376.7 344.7L1376.9 344.6L1377 344.6L1377.2 344.6L1377.4 344.5L1377.5 344.5L1377.7 344.5L1377.9 344.5L1378 344.4L1378.2 344.4L1379.2 344.3L1380.1 344.2L1381.1 344.1L1382.1 344.1L1383.1 344L1384 344L1385 343.9L1386 343.9L1387 343.9L1387.9 343.8L1388.9 343.8L1389.9 343.8L1390.9 343.7L1391.8 343.7L1392.8 343.7L1393.8 343.7L1394.8 343.6L1395.7 343.6L1396.7 343.6L1397.7 343.5L1398.7 343.5L1399.6 343.5L1400.6 343.4L1401.6 343.4L1402.6 343.4L1403.5 343.4L1404.5 343.3L1405.5 343.3L1406.5 343.3L1407.4 343.3L1408.4 343.2L1409.4 343.2L1410.4 343.2L1411.3 343.2L1412.3 343.1L1413.3 343.1L1414.3 343.1L1415.3 343.1L1416.2 343L1417.2 343L1418.2 343L1419.2 343L1420.1 342.9L1421.1 342.9L1422.1 342.9L1423.1 342.9L1424 342.8L1425 342.8L1426 342.8L1427 342.8L1427.9 342.8L1428.9 342.7L1429.9 342.7L1430.9 342.7L1431.8 342.7L1432.8 342.7L1433.8 342.6L1434.8 342.6L1435.7 342.6L1436.7 342.6L1437.7 342.6L1438.7 342.5L1439.6 342.5L1440.6 342.5L1441.6 342.5L1442.6 342.5L1443.5 342.4L1444.5 342.4L1445.5 342.4L1446.5 342.4L1447.4 342.4L1448.4 342.3L1449.4 342.3L1450.4 342.3L1451.3 342.3L1452.3 342.3L1453.3 342.3L1454.3 342.2L1455.3 342.2L1456.2 342.2L1457.2 342.2L1458.2 342.2L1459.2 342.2L1460.1 342.1L1461.1 342.1L1462.1 342.1L1463.1 342.1L1464 342.1L1465 342.1L1466 342.1L1467 342L1467.9 342L1468.9 342L1469.9 342L1470.9 342L1471.8 342L1472.8 342L1473.8 341.9L1474.8 341.9L1475.7 341.9L1476.7 341.9L1477.7 341.9L1478.7 341.9L1479.6 341.9L1480.6 341.8L1481.6 341.8L1482.6 341.8L1483.5 341.8L1484.5 341.8L1485.5 341.8L1486.5 341.8L1487.4 341.8L1488.4 341.8L1489.4 341.7L1490.4 341.7L1491.3 341.7L1492.3 341.7L1493.3 341.7L1494.3 341.7L1495.2 341.7L1496.2 341.7L1497.2 341.6L1498.2 341.6L1499.2 341.6L1500.1 341.6L1501.1 341.6L1502.1 341.6L1503.1 341.6L1504 341.6L1505 341.6L1506 341.6L1507 341.5L1507.9 341.5L1508.9 341.5L1509.9 341.5L1510.9 341.5L1511.8 341.5L1512.8 341.5L1513.8 341.5L1514.8 341.5L1515.7 341.5L1516.7 341.5L1517.7 341.4L1518.7 341.4L1519.6 341.4L1520.6 341.4L1521.6 341.4L1522.6 341.4L1523.5 341.4L1524.5 341.4L1525.5 341.4L1526.5 341.4L1527.4 341.4L1528.4 341.3L1529.4 341.3L1530.4 341.3L1531.3 341.3L1532.3 341.3L1533.3 341.3L1534.3 341.3L1535.2 341.3L1536.2 341.3L1537.2 341.3L1538.2 341.3L1539.2 341.3L1540.1 341.3L1541.1 341.3L1542.1 341.2L1543.1 341.2L1544 341.2L1545 341.2L1546 341.2L1547 341.2L1547.9 341.2L1548.9 341.2L1549.9 341.2L1550.9 341.2L1551.8 341.2L1552.8 341.2L1553.8 341.2L1554.8 341.2L1555.7 341.2L1556.7 341.1L1557.7 341.1L1558.7 341.1L1559.6 341.1L1560.6 341.1L1561.6 341.1L1562.6 341.1L1563.5 341.1L1564.5 341.1L1565.5 341.1L1566.5 341.1L1567.4 341.1L1568.4 341.1L1569.4 341.1L1570 341.1L1570.4 341.2L1570.8 340.1L1571.2 339.9L1571.6 339.9L1572 339.9L1572.4 339.9L1572.8 340L1573.2 340L1573.6 340L1574 340.1L1574.4 340.1L1574.8 340.2L1575.2 340.3L1575.7 340.4L1576.1 340.4L1576.5 340.5L1576.9 340.6L1577.3 340.7L1577.7 340.8L1578.1 340.9L1578.5 341L1578.9 341L1579.3 341.1L1579.7 341.2L1580.1 341.2L1580.5 341.3L1580.9 341.4L1581.3 341.4L1581.8 341.5L1582.2 341.5L1582.6 341.6L1583 341.6L1583.4 341.7L1583.8 341.7L1584.2 341.8L1584.6 341.8L1585 341.9L1585.4 341.9L1585.8 342L1586.2 342L1586.6 342.1L1587 342.1L1587.4 342.2L1587.9 342.2L1588.3 342.2L1588.7 342.3L1589.1 342.3L1589.5 342.4L1589.9 342.4L1590.3 342.4L1590.7 342.5L1591.1 342.5L1591.5 342.5L1591.9 342.6L1592.3 342.6L1592.7 342.6L1593.1 342.7L1593.5 342.7L1593.9 342.7L1594.4 342.8L1594.8 342.8L1595.2 342.8L1595.6 342.8L1596 342.9L1596.4 342.9L1596.8 342.9L1597.2 342.9L1597.6 343L1598 343L1598.4 343L1598.8 343L1599.2 343.1L1599.6 343.1L1600 343.1L1600.5 343.1L1600.9 343.1L1600.9 343.1L1602.6 343.2L1604.2 343.3L1605.8 343.3L1607.4 343.4L1609.1 343.4L1610.7 343.5L1612.3 343.5L1613.9 343.5L1615.6 343.6L1617.2 343.6L1618.8 343.6L1620.5 343.7L1622.1 343.7L1623.7 343.7L1625.3 343.8L1627 343.8L1628.6 343.8L1630.2 343.8L1631.8 343.9L1633.5 343.9L1635.1 343.9L1636.7 343.9L1638.3 343.9L1640 344L1641.6 344L1643.2 344L1644.8 344L1646.5 344L1648.1 344.1L1649.7 344.1L1651.3 344.1L1653 344.1L1654.6 344.1L1656.2 344.2L1657.8 344.2L1659.5 344.2L1661.1 344.2L1662.7 344.2L1664.4 344.2L1666 344.2L1667.6 344.3L1669.2 344.3L1670.9 344.3L1672.5 344.3L1674.1 344.3L1675.7 344.3L1677.4 344.3L1679 344.3L1680.6 344.4L1682.2 344.4L1683.9 344.4L1685.5 344.4L1687.1 344.4L1688.7 344.4L1690.4 344.4L1692 344.4L1693.6 344.4L1695.2 344.4L1696.9 344.5L1698.5 344.5L1700.1 344.5L1701.8 344.5L1703.4 344.5L1705 344.5L1706.6 344.5L1708.3 344.5L1709.9 344.5L1711.5 344.5L1713.1 344.6L1714.8 344.6L1716.4 344.6L1718 344.6L1719.6 344.6L1721.3 344.6L1722.9 344.6L1724.5 344.6L1726.1 344.6L1727.8 344.6L1729.4 344.6L1731 344.6L1732.6 344.7L1734.3 344.7L1735.9 344.7L1737.5 344.7L1739.1 344.7L1740.8 344.7L1742.4 344.7L1744 344.7L1745.7 344.7L1747.3 344.7L1748.9 344.7L1750.5 344.7L1752.2 344.7L1753.8 344.8L1755.4 344.8L1757 344.8L1758.7 344.8L1760.3 344.8L1761.9 344.8L1763.5 344.8L1765.2 344.8L1766.8 344.8L1768.4 344.8L1770 344.8L1771.7 344.8L1773.3 344.8L1774.9 344.8L1776.5 344.9L1778.2 344.9L1779.8 344.9L1781.4 344.9L1783.1 344.9L1784.7 344.9L1786.3 344.9L1787.9 344.9L1789.6 344.9L1791.2 344.9L1792.8 344.9L1794.4 344.9L1796.1 344.9L1797.7 344.9L1799.3 344.9L1800.9 345L1802.6 345L1804.2 345L1805.8 345L1807.4 345L1809.1 345L1810.7 345L1812.3 345L1813.9 345L1815.6 345L1817.2 345L1818.8 345L1820.4 345L1822.1 345L1823.7 345L1825.3 345L1827 345.1L1828.6 345.1L1830.2 345.1L1831.8 345.1L1833.5 345.1L1835.1 345.1L1836.7 345.1L1838.3 345.1L1840 345.1L1841.6 345.1L1843.2 345.1L1844.8 345.1L1846.5 345.1L1848.1 345.1L1849.7 345.1L1851.3 345.1L1853 345.1L1854.6 345.1L1856.2 345.1L1857.8 345.1L1859.5 345.2L1861.1 345.2L1862.7 345.2L1864.4 345.2L1866 345.2L1867.6 345.2L1869.2 345.2L1870.9 345.2L1872.5 345.2L1874.1 345.2L1875.7 345.2L1877.4 345.2L1879 345.2L1880.6 345.2L1882.2 345.2L1883.9 345.2L1885.5 345.2L1887.1 345.2L1888.7 345.2L1890.4 345.2L1892 345.2" fill="none" stroke="#2a1515" stroke-width="2.3" transform="translate(0 -0.3)" stroke-linejoin="round"/>
<path d="M1359.5 346L1366.8 345.7L1371.7 346L1373.3 347.9L1374 351.7L1374.8 346L1374.9 345.4L1375.1 345.3L1375.3 345.2L1375.4 345.1L1375.6 345L1375.7 345L1375.9 344.9L1376.1 344.9L1376.2 344.8L1376.4 344.8L1376.6 344.7L1376.7 344.7L1376.9 344.6L1377 344.6L1377.2 344.6L1377.4 344.5L1377.5 344.5L1377.7 344.5L1377.9 344.5L1378 344.4L1378.2 344.4L1379.2 344.3L1380.1 344.2L1381.1 344.1L1382.1 344.1L1383.1 344L1384 344L1385 343.9L1386 343.9L1387 343.9L1387.9 343.8L1388.9 343.8L1389.9 343.8L1390.9 343.7L1391.8 343.7L1392.8 343.7L1393.8 343.7L1394.8 343.6L1395.7 343.6L1396.7 343.6L1397.7 343.5L1398.7 343.5L1399.6 343.5L1400.6 343.4L1401.6 343.4L1402.6 343.4L1403.5 343.4L1404.5 343.3L1405.5 343.3L1406.5 343.3L1407.4 343.3L1408.4 343.2L1409.4 343.2L1410.4 343.2L1411.3 343.2L1412.3 343.1L1413.3 343.1L1414.3 343.1L1415.3 343.1L1416.2 343L1417.2 343L1418.2 343L1419.2 343L1420.1 342.9L1421.1 342.9L1422.1 342.9L1423.1 342.9L1424 342.8L1425 342.8L1426 342.8L1427 342.8L1427.9 342.8L1428.9 342.7L1429.9 342.7L1430.9 342.7L1431.8 342.7L1432.8 342.7L1433.8 342.6L1434.8 342.6L1435.7 342.6L1436.7 342.6L1437.7 342.6L1438.7 342.5L1439.6 342.5L1440.6 342.5L1441.6 342.5L1442.6 342.5L1443.5 342.4L1444.5 342.4L1445.5 342.4L1446.5 342.4L1447.4 342.4L1448.4 342.3L1449.4 342.3L1450.4 342.3L1451.3 342.3L1452.3 342.3L1453.3 342.3L1454.3 342.2L1455.3 342.2L1456.2 342.2L1457.2 342.2L1458.2 342.2L1459.2 342.2L1460.1 342.1L1461.1 342.1L1462.1 342.1L1463.1 342.1L1464 342.1L1465 342.1L1466 342.1L1467 342L1467.9 342L1468.9 342L1469.9 342L1470.9 342L1471.8 342L1472.8 342L1473.8 341.9L1474.8 341.9L1475.7 341.9L1476.7 341.9L1477.7 341.9L1478.7 341.9L1479.6 341.9L1480.6 341.8L1481.6 341.8L1482.6 341.8L1483.5 341.8L1484.5 341.8L1485.5 341.8L1486.5 341.8L1487.4 341.8L1488.4 341.8L1489.4 341.7L1490.4 341.7L1491.3 341.7L1492.3 341.7L1493.3 341.7L1494.3 341.7L1495.2 341.7L1496.2 341.7L1497.2 341.6L1498.2 341.6L1499.2 341.6L1500.1 341.6L1501.1 341.6L1502.1 341.6L1503.1 341.6L1504 341.6L1505 341.6L1506 341.6L1507 341.5L1507.9 341.5L1508.9 341.5L1509.9 341.5L1510.9 341.5L1511.8 341.5L1512.8 341.5L1513.8 341.5L1514.8 341.5L1515.7 341.5L1516.7 341.5L1517.7 341.4L1518.7 341.4L1519.6 341.4L1520.6 341.4L1521.6 341.4L1522.6 341.4L1523.5 341.4L1524.5 341.4L1525.5 341.4L1526.5 341.4L1527.4 341.4L1528.4 341.3L1529.4 341.3L1530.4 341.3L1531.3 341.3L1532.3 341.3L1533.3 341.3L1534.3 341.3L1535.2 341.3L1536.2 341.3L1537.2 341.3L1538.2 341.3L1539.2 341.3L1540.1 341.3L1541.1 341.3L1542.1 341.2L1543.1 341.2L1544 341.2L1545 341.2L1546 341.2L1547 341.2L1547.9 341.2L1548.9 341.2L1549.9 341.2L1550.9 341.2L1551.8 341.2L1552.8 341.2L1553.8 341.2L1554.8 341.2L1555.7 341.2L1556.7 341.1L1557.7 341.1L1558.7 341.1L1559.6 341.1L1560.6 341.1L1561.6 341.1L1562.6 341.1L1563.5 341.1L1564.5 341.1L1565.5 341.1L1566.5 341.1L1567.4 341.1L1568.4 341.1L1569.4 341.1L1570 341.1L1570.4 341.2L1570.8 340.1L1571.2 339.9L1571.6 339.9L1572 339.9L1572.4 339.9L1572.8 340L1573.2 340L1573.6 340L1574 340.1L1574.4 340.1L1574.8 340.2L1575.2 340.3L1575.7 340.4L1576.1 340.4L1576.5 340.5L1576.9 340.6L1577.3 340.7L1577.7 340.8L1578.1 340.9L1578.5 341L1578.9 341L1579.3 341.1L1579.7 341.2L1580.1 341.2L1580.5 341.3L1580.9 341.4L1581.3 341.4L1581.8 341.5L1582.2 341.5L1582.6 341.6L1583 341.6L1583.4 341.7L1583.8 341.7L1584.2 341.8L1584.6 341.8L1585 341.9L1585.4 341.9L1585.8 342L1586.2 342L1586.6 342.1L1587 342.1L1587.4 342.2L1587.9 342.2L1588.3 342.2L1588.7 342.3L1589.1 342.3L1589.5 342.4L1589.9 342.4L1590.3 342.4L1590.7 342.5L1591.1 342.5L1591.5 342.5L1591.9 342.6L1592.3 342.6L1592.7 342.6L1593.1 342.7L1593.5 342.7L1593.9 342.7L1594.4 342.8L1594.8 342.8L1595.2 342.8L1595.6 342.8L1596 342.9L1596.4 342.9L1596.8 342.9L1597.2 342.9L1597.6 343L1598 343L1598.4 343L1598.8 343L1599.2 343.1L1599.6 343.1L1600 343.1L1600.5 343.1L1600.9 343.1L1600.9 343.1L1602.6 343.2L1604.2 343.3L1605.8 343.3L1607.4 343.4L1609.1 343.4L1610.7 343.5L1612.3 343.5L1613.9 343.5L1615.6 343.6L1617.2 343.6L1618.8 343.6L1620.5 343.7L1622.1 343.7L1623.7 343.7L1625.3 343.8L1627 343.8L1628.6 343.8L1630.2 343.8L1631.8 343.9L1633.5 343.9L1635.1 343.9L1636.7 343.9L1638.3 343.9L1640 344L1641.6 344L1643.2 344L1644.8 344L1646.5 344L1648.1 344.1L1649.7 344.1L1651.3 344.1L1653 344.1L1654.6 344.1L1656.2 344.2L1657.8 344.2L1659.5 344.2L1661.1 344.2L1662.7 344.2L1664.4 344.2L1666 344.2L1667.6 344.3L1669.2 344.3L1670.9 344.3L1672.5 344.3L1674.1 344.3L1675.7 344.3L1677.4 344.3L1679 344.3L1680.6 344.4L1682.2 344.4L1683.9 344.4L1685.5 344.4L1687.1 344.4L1688.7 344.4L1690.4 344.4L1692 344.4L1693.6 344.4L1695.2 344.4L1696.9 344.5L1698.5 344.5L1700.1 344.5L1701.8 344.5L1703.4 344.5L1705 344.5L1706.6 344.5L1708.3 344.5L1709.9 344.5L1711.5 344.5L1713.1 344.6L1714.8 344.6L1716.4 344.6L1718 344.6L1719.6 344.6L1721.3 344.6L1722.9 344.6L1724.5 344.6L1726.1 344.6L1727.8 344.6L1729.4 344.6L1731 344.6L1732.6 344.7L1734.3 344.7L1735.9 344.7L1737.5 344.7L1739.1 344.7L1740.8 344.7L1742.4 344.7L1744 344.7L1745.7 344.7L1747.3 344.7L1748.9 344.7L1750.5 344.7L1752.2 344.7L1753.8 344.8L1755.4 344.8L1757 344.8L1758.7 344.8L1760.3 344.8L1761.9 344.8L1763.5 344.8L1765.2 344.8L1766.8 344.8L1768.4 344.8L1770 344.8L1771.7 344.8L1773.3 344.8L1774.9 344.8L1776.5 344.9L1778.2 344.9L1779.8 344.9L1781.4 344.9L1783.1 344.9L1784.7 344.9L1786.3 344.9L1787.9 344.9L1789.6 344.9L1791.2 344.9L1792.8 344.9L1794.4 344.9L1796.1 344.9L1797.7 344.9L1799.3 344.9L1800.9 345L1802.6 345L1804.2 345L1805.8 345L1807.4 345L1809.1 345L1810.7 345L1812.3 345L1813.9 345L1815.6 345L1817.2 345L1818.8 345L1820.4 345L1822.1 345L1823.7 345L1825.3 345L1827 345.1L1828.6 345.1L1830.2 345.1L1831.8 345.1L1833.5 345.1L1835.1 345.1L1836.7 345.1L1838.3 345.1L1840 345.1L1841.6 345.1L1843.2 345.1L1844.8 345.1L1846.5 345.1L1848.1 345.1L1849.7 345.1L1851.3 345.1L1853 345.1L1854.6 345.1L1856.2 345.1L1857.8 345.1L1859.5 345.2L1861.1 345.2L1862.7 345.2L1864.4 345.2L1866 345.2L1867.6 345.2L1869.2 345.2L1870.9 345.2L1872.5 345.2L1874.1 345.2L1875.7 345.2L1877.4 345.2L1879 345.2L1880.6 345.2L1882.2 345.2L1883.9 345.2L1885.5 345.2L1887.1 345.2L1888.7 345.2L1890.4 345.2L1892 345.2" fill="none" stroke="#EC1C1C" stroke-width="1.3" transform="translate(0.2 0.4)" stroke-linejoin="round"/>
<path d="M1359.5 346L1366.8 345.7L1371.7 346L1373.3 347.9L1374 351.7L1374.8 346L1374.9 344.8L1375.1 343.9L1375.3 343.1L1375.4 342.6L1375.6 342.1L1375.7 341.8L1375.9 341.5L1376.1 341.3L1376.2 341.1L1376.4 341L1376.6 340.9L1376.7 340.8L1376.9 340.7L1377 340.6L1377.2 340.6L1377.4 340.5L1377.5 340.5L1377.7 340.4L1377.9 340.4L1378 340.4L1378.2 340.3L1379.2 340.1L1380.1 340L1381.1 339.8L1382.1 339.7L1383.1 339.6L1384 339.4L1385 339.3L1386 339.2L1387 339L1387.9 338.9L1388.9 338.8L1389.9 338.7L1390.9 338.6L1391.8 338.5L1392.8 338.4L1393.8 338.3L1394.8 338.2L1395.7 338.1L1396.7 338L1397.7 337.9L1398.7 337.9L1399.6 337.8L1400.6 337.7L1401.6 337.6L1402.6 337.6L1403.5 337.5L1404.5 337.4L1405.5 337.4L1406.5 337.3L1407.4 337.2L1408.4 337.2L1409.4 337.1L1410.4 337.1L1411.3 337L1412.3 337L1413.3 336.9L1414.3 336.9L1415.3 336.8L1416.2 336.8L1417.2 336.7L1418.2 336.7L1419.2 336.6L1420.1 336.6L1421.1 336.6L1422.1 336.5L1423.1 336.5L1424 336.4L1425 336.4L1426 336.4L1427 336.3L1427.9 336.3L1428.9 336.3L1429.9 336.3L1430.9 336.2L1431.8 336.2L1432.8 336.2L1433.8 336.1L1434.8 336.1L1435.7 336.1L1436.7 336.1L1437.7 336L1438.7 336L1439.6 336L1440.6 336L1441.6 335.9L1442.6 335.9L1443.5 335.9L1444.5 335.9L1445.5 335.8L1446.5 335.8L1447.4 335.8L1448.4 335.8L1449.4 335.8L1450.4 335.7L1451.3 335.7L1452.3 335.7L1453.3 335.7L1454.3 335.7L1455.3 335.7L1456.2 335.6L1457.2 335.6L1458.2 335.6L1459.2 335.6L1460.1 335.6L1461.1 335.6L1462.1 335.5L1463.1 335.5L1464 335.5L1465 335.5L1466 335.5L1467 335.5L1467.9 335.5L1468.9 335.4L1469.9 335.4L1470.9 335.4L1471.8 335.4L1472.8 335.4L1473.8 335.4L1474.8 335.4L1475.7 335.3L1476.7 335.3L1477.7 335.3L1478.7 335.3L1479.6 335.3L1480.6 335.3L1481.6 335.3L1482.6 335.3L1483.5 335.2L1484.5 335.2L1485.5 335.2L1486.5 335.2L1487.4 335.2L1488.4 335.2L1489.4 335.2L1490.4 335.2L1491.3 335.1L1492.3 335.1L1493.3 335.1L1494.3 335.1L1495.2 335.1L1496.2 335.1L1497.2 335.1L1498.2 335.1L1499.2 335.1L1500.1 335.1L1501.1 335L1502.1 335L1503.1 335L1504 335L1505 335L1506 335L1507 335L1507.9 335L1508.9 335L1509.9 334.9L1510.9 334.9L1511.8 334.9L1512.8 334.9L1513.8 334.9L1514.8 334.9L1515.7 334.9L1516.7 334.9L1517.7 334.9L1518.7 334.9L1519.6 334.8L1520.6 334.8L1521.6 334.8L1522.6 334.8L1523.5 334.8L1524.5 334.8L1525.5 334.8L1526.5 334.8L1527.4 334.8L1528.4 334.8L1529.4 334.7L1530.4 334.7L1531.3 334.7L1532.3 334.7L1533.3 334.7L1534.3 334.7L1535.2 334.7L1536.2 334.7L1537.2 334.7L1538.2 334.7L1539.2 334.6L1540.1 334.6L1541.1 334.6L1542.1 334.6L1543.1 334.6L1544 334.6L1545 334.6L1546 334.6L1547 334.6L1547.9 334.6L1548.9 334.6L1549.9 334.5L1550.9 334.5L1551.8 334.5L1552.8 334.5L1553.8 334.5L1554.8 334.5L1555.7 334.5L1556.7 334.5L1557.7 334.5L1558.7 334.5L1559.6 334.4L1560.6 334.4L1561.6 334.4L1562.6 334.4L1563.5 334.4L1564.5 334.4L1565.5 334.4L1566.5 334.4L1567.4 334.4L1568.4 334.4L1569.4 334.4L1570.4 334.3L1571.3 334.3L1572.3 334.3L1573.3 334.3L1574.3 334.3L1575.2 334.3L1576.1 334.3L1576.1 334.2L1576.5 334.8L1576.9 335.3L1577.3 335.7L1577.7 336.1L1578.1 336.5L1578.5 336.8L1578.9 337L1579.3 337.3L1579.7 337.5L1580.1 337.8L1580.5 338L1580.9 338.2L1581.3 338.4L1581.8 338.6L1582.2 338.7L1582.6 338.8L1583 339L1583.4 339.1L1583.8 339.2L1584.2 339.2L1584.6 339.3L1585 339.4L1585.4 339.5L1585.8 339.5L1586.2 339.6L1586.6 339.6L1587 339.7L1587.4 339.7L1587.9 339.8L1588.3 339.8L1588.7 339.9L1589.1 339.9L1589.5 339.9L1589.9 340L1590.3 340L1590.7 340L1591.1 340.1L1591.5 340.1L1591.9 340.1L1592.3 340.1L1592.7 340.1L1593.1 340.2L1593.5 340.2L1593.9 340.2L1594.4 340.2L1594.8 340.2L1595.2 340.3L1595.6 340.3L1596 340.3L1596.4 340.3L1596.8 340.3L1597.2 340.4L1597.6 340.4L1598 340.4L1598.4 340.4L1598.8 340.4L1599.2 340.5L1599.6 340.5L1600 340.5L1600.5 340.5L1600.9 340.6L1600.9 340.6L1602.6 340.7L1604.2 340.8L1605.8 341L1607.4 341.1L1609.1 341.3L1610.7 341.4L1612.3 341.5L1613.9 341.6L1615.6 341.8L1617.2 341.9L1618.8 341.9L1620.5 342L1622.1 342.1L1623.7 342.2L1625.3 342.3L1627 342.4L1628.6 342.4L1630.2 342.5L1631.8 342.6L1633.5 342.6L1635.1 342.7L1636.7 342.8L1638.3 342.8L1640 342.9L1641.6 342.9L1643.2 343L1644.8 343L1646.5 343.1L1648.1 343.1L1649.7 343.1L1651.3 343.2L1653 343.2L1654.6 343.2L1656.2 343.3L1657.8 343.3L1659.5 343.3L1661.1 343.4L1662.7 343.4L1664.4 343.4L1666 343.4L1667.6 343.5L1669.2 343.5L1670.9 343.5L1672.5 343.5L1674.1 343.6L1675.7 343.6L1677.4 343.6L1679 343.6L1680.6 343.6L1682.2 343.7L1683.9 343.7L1685.5 343.7L1687.1 343.7L1688.7 343.7L1690.4 343.7L1692 343.8L1693.6 343.8L1695.2 343.8L1696.9 343.8L1698.5 343.8L1700.1 343.8L1701.8 343.9L1703.4 343.9L1705 343.9L1706.6 343.9L1708.3 343.9L1709.9 343.9L1711.5 343.9L1713.1 344L1714.8 344L1716.4 344L1718 344L1719.6 344L1721.3 344L1722.9 344L1724.5 344L1726.1 344.1L1727.8 344.1L1729.4 344.1L1731 344.1L1732.6 344.1L1734.3 344.1L1735.9 344.1L1737.5 344.1L1739.1 344.1L1740.8 344.2L1742.4 344.2L1744 344.2L1745.7 344.2L1747.3 344.2L1748.9 344.2L1750.5 344.2L1752.2 344.2L1753.8 344.2L1755.4 344.2L1757 344.2L1758.7 344.3L1760.3 344.3L1761.9 344.3L1763.5 344.3L1765.2 344.3L1766.8 344.3L1768.4 344.3L1770 344.3L1771.7 344.3L1773.3 344.3L1774.9 344.3L1776.5 344.3L1778.2 344.4L1779.8 344.4L1781.4 344.4L1783.1 344.4L1784.7 344.4L1786.3 344.4L1787.9 344.4L1789.6 344.4L1791.2 344.4L1792.8 344.4L1794.4 344.4L1796.1 344.4L1797.7 344.4L1799.3 344.4L1800.9 344.4L1802.6 344.5L1804.2 344.5L1805.8 344.5L1807.4 344.5L1809.1 344.5L1810.7 344.5L1812.3 344.5L1813.9 344.5L1815.6 344.5L1817.2 344.5L1818.8 344.5L1820.4 344.5L1822.1 344.5L1823.7 344.5L1825.3 344.5L1827 344.5L1828.6 344.5L1830.2 344.6L1831.8 344.6L1833.5 344.6L1835.1 344.6L1836.7 344.6L1838.3 344.6L1840 344.6L1841.6 344.6L1843.2 344.6L1844.8 344.6L1846.5 344.6L1848.1 344.6L1849.7 344.6L1851.3 344.6L1853 344.6L1854.6 344.6L1856.2 344.6L1857.8 344.6L1859.5 344.6L1861.1 344.6L1862.7 344.6L1864.4 344.7L1866 344.7L1867.6 344.7L1869.2 344.7L1870.9 344.7L1872.5 344.7L1874.1 344.7L1875.7 344.7L1877.4 344.7L1879 344.7L1880.6 344.7L1882.2 344.7L1883.9 344.7L1885.5 344.7L1887.1 344.7L1888.7 344.7L1890.4 344.7L1892 344.7" fill="none" stroke="#2a1515" stroke-width="2.3" transform="translate(0 -0.3)" stroke-linejoin="round"/>
<path d="M1359.5 346L1366.8 345.7L1371.7 346L1373.3 347.9L1374 351.7L1374.8 346L1374.9 344.8L1375.1 343.9L1375.3 343.1L1375.4 342.6L1375.6 342.1L1375.7 341.8L1375.9 341.5L1376.1 341.3L1376.2 341.1L1376.4 341L1376.6 340.9L1376.7 340.8L1376.9 340.7L1377 340.6L1377.2 340.6L1377.4 340.5L1377.5 340.5L1377.7 340.4L1377.9 340.4L1378 340.4L1378.2 340.3L1379.2 340.1L1380.1 340L1381.1 339.8L1382.1 339.7L1383.1 339.6L1384 339.4L1385 339.3L1386 339.2L1387 339L1387.9 338.9L1388.9 338.8L1389.9 338.7L1390.9 338.6L1391.8 338.5L1392.8 338.4L1393.8 338.3L1394.8 338.2L1395.7 338.1L1396.7 338L1397.7 337.9L1398.7 337.9L1399.6 337.8L1400.6 337.7L1401.6 337.6L1402.6 337.6L1403.5 337.5L1404.5 337.4L1405.5 337.4L1406.5 337.3L1407.4 337.2L1408.4 337.2L1409.4 337.1L1410.4 337.1L1411.3 337L1412.3 337L1413.3 336.9L1414.3 336.9L1415.3 336.8L1416.2 336.8L1417.2 336.7L1418.2 336.7L1419.2 336.6L1420.1 336.6L1421.1 336.6L1422.1 336.5L1423.1 336.5L1424 336.4L1425 336.4L1426 336.4L1427 336.3L1427.9 336.3L1428.9 336.3L1429.9 336.3L1430.9 336.2L1431.8 336.2L1432.8 336.2L1433.8 336.1L1434.8 336.1L1435.7 336.1L1436.7 336.1L1437.7 336L1438.7 336L1439.6 336L1440.6 336L1441.6 335.9L1442.6 335.9L1443.5 335.9L1444.5 335.9L1445.5 335.8L1446.5 335.8L1447.4 335.8L1448.4 335.8L1449.4 335.8L1450.4 335.7L1451.3 335.7L1452.3 335.7L1453.3 335.7L1454.3 335.7L1455.3 335.7L1456.2 335.6L1457.2 335.6L1458.2 335.6L1459.2 335.6L1460.1 335.6L1461.1 335.6L1462.1 335.5L1463.1 335.5L1464 335.5L1465 335.5L1466 335.5L1467 335.5L1467.9 335.5L1468.9 335.4L1469.9 335.4L1470.9 335.4L1471.8 335.4L1472.8 335.4L1473.8 335.4L1474.8 335.4L1475.7 335.3L1476.7 335.3L1477.7 335.3L1478.7 335.3L1479.6 335.3L1480.6 335.3L1481.6 335.3L1482.6 335.3L1483.5 335.2L1484.5 335.2L1485.5 335.2L1486.5 335.2L1487.4 335.2L1488.4 335.2L1489.4 335.2L1490.4 335.2L1491.3 335.1L1492.3 335.1L1493.3 335.1L1494.3 335.1L1495.2 335.1L1496.2 335.1L1497.2 335.1L1498.2 335.1L1499.2 335.1L1500.1 335.1L1501.1 335L1502.1 335L1503.1 335L1504 335L1505 335L1506 335L1507 335L1507.9 335L1508.9 335L1509.9 334.9L1510.9 334.9L1511.8 334.9L1512.8 334.9L1513.8 334.9L1514.8 334.9L1515.7 334.9L1516.7 334.9L1517.7 334.9L1518.7 334.9L1519.6 334.8L1520.6 334.8L1521.6 334.8L1522.6 334.8L1523.5 334.8L1524.5 334.8L1525.5 334.8L1526.5 334.8L1527.4 334.8L1528.4 334.8L1529.4 334.7L1530.4 334.7L1531.3 334.7L1532.3 334.7L1533.3 334.7L1534.3 334.7L1535.2 334.7L1536.2 334.7L1537.2 334.7L1538.2 334.7L1539.2 334.6L1540.1 334.6L1541.1 334.6L1542.1 334.6L1543.1 334.6L1544 334.6L1545 334.6L1546 334.6L1547 334.6L1547.9 334.6L1548.9 334.6L1549.9 334.5L1550.9 334.5L1551.8 334.5L1552.8 334.5L1553.8 334.5L1554.8 334.5L1555.7 334.5L1556.7 334.5L1557.7 334.5L1558.7 334.5L1559.6 334.4L1560.6 334.4L1561.6 334.4L1562.6 334.4L1563.5 334.4L1564.5 334.4L1565.5 334.4L1566.5 334.4L1567.4 334.4L1568.4 334.4L1569.4 334.4L1570.4 334.3L1571.3 334.3L1572.3 334.3L1573.3 334.3L1574.3 334.3L1575.2 334.3L1576.1 334.3L1576.1 334.2L1576.5 334.8L1576.9 335.3L1577.3 335.7L1577.7 336.1L1578.1 336.5L1578.5 336.8L1578.9 337L1579.3 337.3L1579.7 337.5L1580.1 337.8L1580.5 338L1580.9 338.2L1581.3 338.4L1581.8 338.6L1582.2 338.7L1582.6 338.8L1583 339L1583.4 339.1L1583.8 339.2L1584.2 339.2L1584.6 339.3L1585 339.4L1585.4 339.5L1585.8 339.5L1586.2 339.6L1586.6 339.6L1587 339.7L1587.4 339.7L1587.9 339.8L1588.3 339.8L1588.7 339.9L1589.1 339.9L1589.5 339.9L1589.9 340L1590.3 340L1590.7 340L1591.1 340.1L1591.5 340.1L1591.9 340.1L1592.3 340.1L1592.7 340.1L1593.1 340.2L1593.5 340.2L1593.9 340.2L1594.4 340.2L1594.8 340.2L1595.2 340.3L1595.6 340.3L1596 340.3L1596.4 340.3L1596.8 340.3L1597.2 340.4L1597.6 340.4L1598 340.4L1598.4 340.4L1598.8 340.4L1599.2 340.5L1599.6 340.5L1600 340.5L1600.5 340.5L1600.9 340.6L1600.9 340.6L1602.6 340.7L1604.2 340.8L1605.8 341L1607.4 341.1L1609.1 341.3L1610.7 341.4L1612.3 341.5L1613.9 341.6L1615.6 341.8L1617.2 341.9L1618.8 341.9L1620.5 342L1622.1 342.1L1623.7 342.2L1625.3 342.3L1627 342.4L1628.6 342.4L1630.2 342.5L1631.8 342.6L1633.5 342.6L1635.1 342.7L1636.7 342.8L1638.3 342.8L1640 342.9L1641.6 342.9L1643.2 343L1644.8 343L1646.5 343.1L1648.1 343.1L1649.7 343.1L1651.3 343.2L1653 343.2L1654.6 343.2L1656.2 343.3L1657.8 343.3L1659.5 343.3L1661.1 343.4L1662.7 343.4L1664.4 343.4L1666 343.4L1667.6 343.5L1669.2 343.5L1670.9 343.5L1672.5 343.5L1674.1 343.6L1675.7 343.6L1677.4 343.6L1679 343.6L1680.6 343.6L1682.2 343.7L1683.9 343.7L1685.5 343.7L1687.1 343.7L1688.7 343.7L1690.4 343.7L1692 343.8L1693.6 343.8L1695.2 343.8L1696.9 343.8L1698.5 343.8L1700.1 343.8L1701.8 343.9L1703.4 343.9L1705 343.9L1706.6 343.9L1708.3 343.9L1709.9 343.9L1711.5 343.9L1713.1 344L1714.8 344L1716.4 344L1718 344L1719.6 344L1721.3 344L1722.9 344L1724.5 344L1726.1 344.1L1727.8 344.1L1729.4 344.1L1731 344.1L1732.6 344.1L1734.3 344.1L1735.9 344.1L1737.5 344.1L1739.1 344.1L1740.8 344.2L1742.4 344.2L1744 344.2L1745.7 344.2L1747.3 344.2L1748.9 344.2L1750.5 344.2L1752.2 344.2L1753.8 344.2L1755.4 344.2L1757 344.2L1758.7 344.3L1760.3 344.3L1761.9 344.3L1763.5 344.3L1765.2 344.3L1766.8 344.3L1768.4 344.3L1770 344.3L1771.7 344.3L1773.3 344.3L1774.9 344.3L1776.5 344.3L1778.2 344.4L1779.8 344.4L1781.4 344.4L1783.1 344.4L1784.7 344.4L1786.3 344.4L1787.9 344.4L1789.6 344.4L1791.2 344.4L1792.8 344.4L1794.4 344.4L1796.1 344.4L1797.7 344.4L1799.3 344.4L1800.9 344.4L1802.6 344.5L1804.2 344.5L1805.8 344.5L1807.4 344.5L1809.1 344.5L1810.7 344.5L1812.3 344.5L1813.9 344.5L1815.6 344.5L1817.2 344.5L1818.8 344.5L1820.4 344.5L1822.1 344.5L1823.7 344.5L1825.3 344.5L1827 344.5L1828.6 344.5L1830.2 344.6L1831.8 344.6L1833.5 344.6L1835.1 344.6L1836.7 344.6L1838.3 344.6L1840 344.6L1841.6 344.6L1843.2 344.6L1844.8 344.6L1846.5 344.6L1848.1 344.6L1849.7 344.6L1851.3 344.6L1853 344.6L1854.6 344.6L1856.2 344.6L1857.8 344.6L1859.5 344.6L1861.1 344.6L1862.7 344.6L1864.4 344.7L1866 344.7L1867.6 344.7L1869.2 344.7L1870.9 344.7L1872.5 344.7L1874.1 344.7L1875.7 344.7L1877.4 344.7L1879 344.7L1880.6 344.7L1882.2 344.7L1883.9 344.7L1885.5 344.7L1887.1 344.7L1888.7 344.7L1890.4 344.7L1892 344.7" fill="none" stroke="#EC1C1C" stroke-width="1.3" transform="translate(0.2 0.4)" stroke-linejoin="round"/>
<path d="M1359.5 346L1366.8 345.7L1371.7 346L1373.3 347.9L1374 351.7L1374.8 346L1374.9 341.7L1375.1 338.8L1375.3 336.8L1375.4 335.5L1375.6 334.5L1375.7 333.8L1375.9 333.4L1376.1 333L1376.2 332.7L1376.4 332.5L1376.6 332.3L1376.7 332.1L1376.9 332L1377 331.9L1377.2 331.7L1377.4 331.6L1377.5 331.5L1377.7 331.4L1377.9 331.3L1378 331.2L1378.2 331.1L1379.2 330.4L1380.1 329.9L1381.1 329.3L1382.1 328.8L1383.1 328.3L1384 327.9L1385 327.4L1386 327L1387 326.7L1387.9 326.3L1388.9 326L1389.9 325.6L1390.9 325.3L1391.8 325L1392.8 324.8L1393.8 324.5L1394.8 324.3L1395.7 324L1396.7 323.8L1397.7 323.6L1398.7 323.4L1399.6 323.2L1400.6 323.1L1401.6 322.9L1402.6 322.8L1403.5 322.6L1404.5 322.5L1405.5 322.3L1406.5 322.2L1407.4 322.1L1408.4 322L1409.4 321.9L1410.4 321.8L1411.3 321.7L1412.3 321.6L1413.3 321.5L1414.3 321.4L1415.3 321.4L1416.2 321.3L1417.2 321.2L1418.2 321.2L1419.2 321.1L1420.1 321.1L1421.1 321L1422.1 321L1423.1 320.9L1424 320.9L1425 320.8L1426 320.8L1427 320.7L1427.9 320.7L1428.9 320.7L1429.9 320.6L1430.9 320.6L1431.8 320.6L1432.8 320.5L1433.8 320.5L1434.8 320.5L1435.7 320.5L1436.7 320.4L1437.7 320.4L1438.7 320.4L1439.6 320.4L1440.6 320.4L1441.6 320.3L1442.6 320.3L1443.5 320.3L1444.5 320.3L1445.5 320.3L1446.5 320.3L1447.4 320.2L1448.4 320.2L1449.4 320.2L1450.4 320.2L1451.3 320.2L1452.3 320.2L1453.3 320.2L1454.3 320.2L1455.3 320.2L1456.2 320.1L1457.2 320.1L1458.2 320.1L1459.2 320.1L1460.1 320.1L1461.1 320.1L1462.1 320.1L1463.1 320.1L1464 320.1L1465 320.1L1466 320.1L1467 320.1L1467.9 320L1468.9 320L1469.9 320L1470.9 320L1471.8 320L1472.8 320L1473.8 320L1474.8 320L1475.7 320L1476.7 320L1477.7 320L1478.7 320L1479.6 320L1480.6 320L1481.6 320L1482.6 320L1483.5 320L1484.5 319.9L1485.5 319.9L1486.5 319.9L1487.4 319.9L1488.4 319.9L1489.4 319.9L1490.4 319.9L1491.3 319.9L1492.3 319.9L1493.3 319.9L1494.3 319.9L1495.2 319.9L1496.2 319.9L1497.2 319.9L1498.2 319.9L1499.2 319.9L1500.1 319.9L1501.1 319.9L1502.1 319.9L1503.1 319.9L1504 319.9L1505 319.9L1506 319.9L1507 319.8L1507.9 319.8L1508.9 319.8L1509.9 319.8L1510.9 319.8L1511.8 319.8L1512.8 319.8L1513.8 319.8L1514.8 319.8L1515.7 319.8L1516.7 319.8L1517.7 319.8L1518.7 319.8L1519.6 319.8L1520.6 319.8L1521.6 319.8L1522.6 319.8L1523.5 319.8L1524.5 319.8L1525.5 319.8L1526.5 319.8L1527.4 319.8L1528.4 319.8L1529.4 319.8L1530.4 319.8L1531.3 319.8L1532.3 319.7L1533.3 319.7L1534.3 319.7L1535.2 319.7L1536.2 319.7L1537.2 319.7L1538.2 319.7L1539.2 319.7L1540.1 319.7L1541.1 319.7L1542.1 319.7L1543.1 319.7L1544 319.7L1545 319.7L1546 319.7L1547 319.7L1547.9 319.7L1548.9 319.7L1549.9 319.7L1550.9 319.7L1551.8 319.7L1552.8 319.7L1553.8 319.7L1554.8 319.7L1555.7 319.7L1556.7 319.7L1557.7 319.6L1558.7 319.6L1559.6 319.6L1560.6 319.6L1561.6 319.6L1562.6 319.6L1563.5 319.6L1564.5 319.6L1565.5 319.6L1566.5 319.6L1567.4 319.6L1568.4 319.6L1569.4 319.6L1570.4 319.6L1571.3 319.6L1572.3 319.6L1573.3 319.6L1574.3 319.6L1574.3 319.5L1574.7 320.4L1575.1 321.4L1575.5 322.3L1575.9 323.1L1576.3 323.9L1576.7 324.5L1577.1 325.1L1577.5 325.7L1577.9 326.1L1578.3 326.6L1578.7 327.1L1579.2 327.6L1579.6 328.1L1580 328.5L1580.4 328.9L1580.8 329.2L1581.2 329.6L1581.6 329.9L1582 330.2L1582.4 330.5L1582.8 330.8L1583.2 331L1583.6 331.2L1584 331.4L1584.4 331.6L1584.8 331.8L1585.2 332L1585.7 332.1L1586.1 332.3L1586.5 332.4L1586.9 332.5L1587.3 332.7L1587.7 332.8L1588.1 332.9L1588.5 333L1588.9 333.1L1589.3 333.2L1589.7 333.3L1590.1 333.4L1590.5 333.4L1590.9 333.5L1591.3 333.6L1591.8 333.6L1592.2 333.7L1592.6 333.7L1593 333.8L1593.4 333.8L1593.8 333.9L1594.2 333.9L1594.6 334L1595 334L1595.4 334.1L1595.8 334.1L1596.2 334.2L1596.6 334.2L1597 334.3L1597.4 334.3L1597.9 334.4L1598.3 334.5L1598.7 334.5L1599.1 334.6L1599.5 334.6L1599.9 334.7L1600.3 334.8L1600.7 334.8L1600.9 334.9L1602.6 335.2L1604.2 335.6L1605.8 336L1607.4 336.4L1609.1 336.8L1610.7 337.2L1612.3 337.5L1613.9 337.8L1615.6 338.1L1617.2 338.3L1618.8 338.6L1620.5 338.8L1622.1 339L1623.7 339.3L1625.3 339.5L1627 339.7L1628.6 339.8L1630.2 340L1631.8 340.2L1633.5 340.3L1635.1 340.5L1636.7 340.6L1638.3 340.7L1640 340.8L1641.6 340.9L1643.2 341L1644.8 341.1L1646.5 341.1L1648.1 341.2L1649.7 341.3L1651.3 341.3L1653 341.4L1654.6 341.5L1656.2 341.5L1657.8 341.6L1659.5 341.6L1661.1 341.7L1662.7 341.7L1664.4 341.7L1666 341.8L1667.6 341.8L1669.2 341.9L1670.9 341.9L1672.5 342L1674.1 342L1675.7 342L1677.4 342.1L1679 342.1L1680.6 342.1L1682.2 342.2L1683.9 342.2L1685.5 342.2L1687.1 342.3L1688.7 342.3L1690.4 342.3L1692 342.4L1693.6 342.4L1695.2 342.4L1696.9 342.5L1698.5 342.5L1700.1 342.5L1701.8 342.5L1703.4 342.6L1705 342.6L1706.6 342.6L1708.3 342.6L1709.9 342.7L1711.5 342.7L1713.1 342.7L1714.8 342.7L1716.4 342.8L1718 342.8L1719.6 342.8L1721.3 342.8L1722.9 342.8L1724.5 342.9L1726.1 342.9L1727.8 342.9L1729.4 342.9L1731 342.9L1732.6 343L1734.3 343L1735.9 343L1737.5 343L1739.1 343L1740.8 343.1L1742.4 343.1L1744 343.1L1745.7 343.1L1747.3 343.1L1748.9 343.1L1750.5 343.2L1752.2 343.2L1753.8 343.2L1755.4 343.2L1757 343.2L1758.7 343.2L1760.3 343.3L1761.9 343.3L1763.5 343.3L1765.2 343.3L1766.8 343.3L1768.4 343.3L1770 343.3L1771.7 343.4L1773.3 343.4L1774.9 343.4L1776.5 343.4L1778.2 343.4L1779.8 343.4L1781.4 343.4L1783.1 343.5L1784.7 343.5L1786.3 343.5L1787.9 343.5L1789.6 343.5L1791.2 343.5L1792.8 343.5L1794.4 343.5L1796.1 343.6L1797.7 343.6L1799.3 343.6L1800.9 343.6L1802.6 343.6L1804.2 343.6L1805.8 343.6L1807.4 343.6L1809.1 343.6L1810.7 343.7L1812.3 343.7L1813.9 343.7L1815.6 343.7L1817.2 343.7L1818.8 343.7L1820.4 343.7L1822.1 343.7L1823.7 343.7L1825.3 343.7L1827 343.8L1828.6 343.8L1830.2 343.8L1831.8 343.8L1833.5 343.8L1835.1 343.8L1836.7 343.8L1838.3 343.8L1840 343.8L1841.6 343.8L1843.2 343.9L1844.8 343.9L1846.5 343.9L1848.1 343.9L1849.7 343.9L1851.3 343.9L1853 343.9L1854.6 343.9L1856.2 343.9L1857.8 343.9L1859.5 343.9L1861.1 343.9L1862.7 344L1864.4 344L1866 344L1867.6 344L1869.2 344L1870.9 344L1872.5 344L1874.1 344L1875.7 344L1877.4 344L1879 344L1880.6 344L1882.2 344L1883.9 344L1885.5 344.1L1887.1 344.1L1888.7 344.1L1890.4 344.1L1892 344.1" fill="none" stroke="#2a1515" stroke-width="2.3" transform="translate(0 -0.3)" stroke-linejoin="round"/>
<path d="M1359.5 346L1366.8 345.7L1371.7 346L1373.3 347.9L1374 351.7L1374.8 346L1374.9 341.7L1375.1 338.8L1375.3 336.8L1375.4 335.5L1375.6 334.5L1375.7 333.8L1375.9 333.4L1376.1 333L1376.2 332.7L1376.4 332.5L1376.6 332.3L1376.7 332.1L1376.9 332L1377 331.9L1377.2 331.7L1377.4 331.6L1377.5 331.5L1377.7 331.4L1377.9 331.3L1378 331.2L1378.2 331.1L1379.2 330.4L1380.1 329.9L1381.1 329.3L1382.1 328.8L1383.1 328.3L1384 327.9L1385 327.4L1386 327L1387 326.7L1387.9 326.3L1388.9 326L1389.9 325.6L1390.9 325.3L1391.8 325L1392.8 324.8L1393.8 324.5L1394.8 324.3L1395.7 324L1396.7 323.8L1397.7 323.6L1398.7 323.4L1399.6 323.2L1400.6 323.1L1401.6 322.9L1402.6 322.8L1403.5 322.6L1404.5 322.5L1405.5 322.3L1406.5 322.2L1407.4 322.1L1408.4 322L1409.4 321.9L1410.4 321.8L1411.3 321.7L1412.3 321.6L1413.3 321.5L1414.3 321.4L1415.3 321.4L1416.2 321.3L1417.2 321.2L1418.2 321.2L1419.2 321.1L1420.1 321.1L1421.1 321L1422.1 321L1423.1 320.9L1424 320.9L1425 320.8L1426 320.8L1427 320.7L1427.9 320.7L1428.9 320.7L1429.9 320.6L1430.9 320.6L1431.8 320.6L1432.8 320.5L1433.8 320.5L1434.8 320.5L1435.7 320.5L1436.7 320.4L1437.7 320.4L1438.7 320.4L1439.6 320.4L1440.6 320.4L1441.6 320.3L1442.6 320.3L1443.5 320.3L1444.5 320.3L1445.5 320.3L1446.5 320.3L1447.4 320.2L1448.4 320.2L1449.4 320.2L1450.4 320.2L1451.3 320.2L1452.3 320.2L1453.3 320.2L1454.3 320.2L1455.3 320.2L1456.2 320.1L1457.2 320.1L1458.2 320.1L1459.2 320.1L1460.1 320.1L1461.1 320.1L1462.1 320.1L1463.1 320.1L1464 320.1L1465 320.1L1466 320.1L1467 320.1L1467.9 320L1468.9 320L1469.9 320L1470.9 320L1471.8 320L1472.8 320L1473.8 320L1474.8 320L1475.7 320L1476.7 320L1477.7 320L1478.7 320L1479.6 320L1480.6 320L1481.6 320L1482.6 320L1483.5 320L1484.5 319.9L1485.5 319.9L1486.5 319.9L1487.4 319.9L1488.4 319.9L1489.4 319.9L1490.4 319.9L1491.3 319.9L1492.3 319.9L1493.3 319.9L1494.3 319.9L1495.2 319.9L1496.2 319.9L1497.2 319.9L1498.2 319.9L1499.2 319.9L1500.1 319.9L1501.1 319.9L1502.1 319.9L1503.1 319.9L1504 319.9L1505 319.9L1506 319.9L1507 319.8L1507.9 319.8L1508.9 319.8L1509.9 319.8L1510.9 319.8L1511.8 319.8L1512.8 319.8L1513.8 319.8L1514.8 319.8L1515.7 319.8L1516.7 319.8L1517.7 319.8L1518.7 319.8L1519.6 319.8L1520.6 319.8L1521.6 319.8L1522.6 319.8L1523.5 319.8L1524.5 319.8L1525.5 319.8L1526.5 319.8L1527.4 319.8L1528.4 319.8L1529.4 319.8L1530.4 319.8L1531.3 319.8L1532.3 319.7L1533.3 319.7L1534.3 319.7L1535.2 319.7L1536.2 319.7L1537.2 319.7L1538.2 319.7L1539.2 319.7L1540.1 319.7L1541.1 319.7L1542.1 319.7L1543.1 319.7L1544 319.7L1545 319.7L1546 319.7L1547 319.7L1547.9 319.7L1548.9 319.7L1549.9 319.7L1550.9 319.7L1551.8 319.7L1552.8 319.7L1553.8 319.7L1554.8 319.7L1555.7 319.7L1556.7 319.7L1557.7 319.6L1558.7 319.6L1559.6 319.6L1560.6 319.6L1561.6 319.6L1562.6 319.6L1563.5 319.6L1564.5 319.6L1565.5 319.6L1566.5 319.6L1567.4 319.6L1568.4 319.6L1569.4 319.6L1570.4 319.6L1571.3 319.6L1572.3 319.6L1573.3 319.6L1574.3 319.6L1574.3 319.5L1574.7 320.4L1575.1 321.4L1575.5 322.3L1575.9 323.1L1576.3 323.9L1576.7 324.5L1577.1 325.1L1577.5 325.7L1577.9 326.1L1578.3 326.6L1578.7 327.1L1579.2 327.6L1579.6 328.1L1580 328.5L1580.4 328.9L1580.8 329.2L1581.2 329.6L1581.6 329.9L1582 330.2L1582.4 330.5L1582.8 330.8L1583.2 331L1583.6 331.2L1584 331.4L1584.4 331.6L1584.8 331.8L1585.2 332L1585.7 332.1L1586.1 332.3L1586.5 332.4L1586.9 332.5L1587.3 332.7L1587.7 332.8L1588.1 332.9L1588.5 333L1588.9 333.1L1589.3 333.2L1589.7 333.3L1590.1 333.4L1590.5 333.4L1590.9 333.5L1591.3 333.6L1591.8 333.6L1592.2 333.7L1592.6 333.7L1593 333.8L1593.4 333.8L1593.8 333.9L1594.2 333.9L1594.6 334L1595 334L1595.4 334.1L1595.8 334.1L1596.2 334.2L1596.6 334.2L1597 334.3L1597.4 334.3L1597.9 334.4L1598.3 334.5L1598.7 334.5L1599.1 334.6L1599.5 334.6L1599.9 334.7L1600.3 334.8L1600.7 334.8L1600.9 334.9L1602.6 335.2L1604.2 335.6L1605.8 336L1607.4 336.4L1609.1 336.8L1610.7 337.2L1612.3 337.5L1613.9 337.8L1615.6 338.1L1617.2 338.3L1618.8 338.6L1620.5 338.8L1622.1 339L1623.7 339.3L1625.3 339.5L1627 339.7L1628.6 339.8L1630.2 340L1631.8 340.2L1633.5 340.3L1635.1 340.5L1636.7 340.6L1638.3 340.7L1640 340.8L1641.6 340.9L1643.2 341L1644.8 341.1L1646.5 341.1L1648.1 341.2L1649.7 341.3L1651.3 341.3L1653 341.4L1654.6 341.5L1656.2 341.5L1657.8 341.6L1659.5 341.6L1661.1 341.7L1662.7 341.7L1664.4 341.7L1666 341.8L1667.6 341.8L1669.2 341.9L1670.9 341.9L1672.5 342L1674.1 342L1675.7 342L1677.4 342.1L1679 342.1L1680.6 342.1L1682.2 342.2L1683.9 342.2L1685.5 342.2L1687.1 342.3L1688.7 342.3L1690.4 342.3L1692 342.4L1693.6 342.4L1695.2 342.4L1696.9 342.5L1698.5 342.5L1700.1 342.5L1701.8 342.5L1703.4 342.6L1705 342.6L1706.6 342.6L1708.3 342.6L1709.9 342.7L1711.5 342.7L1713.1 342.7L1714.8 342.7L1716.4 342.8L1718 342.8L1719.6 342.8L1721.3 342.8L1722.9 342.8L1724.5 342.9L1726.1 342.9L1727.8 342.9L1729.4 342.9L1731 342.9L1732.6 343L1734.3 343L1735.9 343L1737.5 343L1739.1 343L1740.8 343.1L1742.4 343.1L1744 343.1L1745.7 343.1L1747.3 343.1L1748.9 343.1L1750.5 343.2L1752.2 343.2L1753.8 343.2L1755.4 343.2L1757 343.2L1758.7 343.2L1760.3 343.3L1761.9 343.3L1763.5 343.3L1765.2 343.3L1766.8 343.3L1768.4 343.3L1770 343.3L1771.7 343.4L1773.3 343.4L1774.9 343.4L1776.5 343.4L1778.2 343.4L1779.8 343.4L1781.4 343.4L1783.1 343.5L1784.7 343.5L1786.3 343.5L1787.9 343.5L1789.6 343.5L1791.2 343.5L1792.8 343.5L1794.4 343.5L1796.1 343.6L1797.7 343.6L1799.3 343.6L1800.9 343.6L1802.6 343.6L1804.2 343.6L1805.8 343.6L1807.4 343.6L1809.1 343.6L1810.7 343.7L1812.3 343.7L1813.9 343.7L1815.6 343.7L1817.2 343.7L1818.8 343.7L1820.4 343.7L1822.1 343.7L1823.7 343.7L1825.3 343.7L1827 343.8L1828.6 343.8L1830.2 343.8L1831.8 343.8L1833.5 343.8L1835.1 343.8L1836.7 343.8L1838.3 343.8L1840 343.8L1841.6 343.8L1843.2 343.9L1844.8 343.9L1846.5 343.9L1848.1 343.9L1849.7 343.9L1851.3 343.9L1853 343.9L1854.6 343.9L1856.2 343.9L1857.8 343.9L1859.5 343.9L1861.1 343.9L1862.7 344L1864.4 344L1866 344L1867.6 344L1869.2 344L1870.9 344L1872.5 344L1874.1 344L1875.7 344L1877.4 344L1879 344L1880.6 344L1882.2 344L1883.9 344L1885.5 344.1L1887.1 344.1L1888.7 344.1L1890.4 344.1L1892 344.1" fill="none" stroke="#EC1C1C" stroke-width="1.3" transform="translate(0.2 0.4)" stroke-linejoin="round"/>
<path d="M1359.5 346L1366.8 345.7L1371.7 346L1373.3 347.9L1374 351.7L1374.8 346L1374.9 313.8L1375.1 307.4L1375.3 306L1375.4 305.5L1375.6 305.2L1375.7 305L1375.9 304.7L1376.1 304.5L1376.2 304.2L1376.4 304L1376.6 303.8L1376.7 303.5L1376.9 303.3L1377 303.1L1377.2 302.9L1377.4 302.6L1377.5 302.4L1377.7 302.2L1377.9 302L1378 301.7L1378.2 301.5L1379.2 300.3L1380.1 299.1L1381.1 297.9L1382.1 296.8L1383.1 295.8L1384 294.8L1385 293.8L1386 292.9L1387 292L1387.9 291.2L1388.9 290.4L1389.9 289.7L1390.9 288.9L1391.8 288.3L1392.8 287.6L1393.8 287L1394.8 286.4L1395.7 285.8L1396.7 285.2L1397.7 284.7L1398.7 284.2L1399.6 283.7L1400.6 283.3L1401.6 282.8L1402.6 282.4L1403.5 282L1404.5 281.6L1405.5 281.2L1406.5 280.9L1407.4 280.5L1408.4 280.2L1409.4 279.9L1410.4 279.6L1411.3 279.3L1412.3 279L1413.3 278.7L1414.3 278.5L1415.3 278.2L1416.2 278L1417.2 277.7L1418.2 277.5L1419.2 277.3L1420.1 277.1L1421.1 276.9L1422.1 276.7L1423.1 276.5L1424 276.3L1425 276.2L1426 276L1427 275.8L1427.9 275.7L1428.9 275.5L1429.9 275.4L1430.9 275.2L1431.8 275.1L1432.8 275L1433.8 274.8L1434.8 274.7L1435.7 274.6L1436.7 274.5L1437.7 274.3L1438.7 274.2L1439.6 274.1L1440.6 274L1441.6 273.9L1442.6 273.8L1443.5 273.7L1444.5 273.6L1445.5 273.5L1446.5 273.4L1447.4 273.4L1448.4 273.3L1449.4 273.2L1450.4 273.1L1451.3 273L1452.3 272.9L1453.3 272.9L1454.3 272.8L1455.3 272.7L1456.2 272.6L1457.2 272.6L1458.2 272.5L1459.2 272.4L1460.1 272.4L1461.1 272.3L1462.1 272.2L1463.1 272.2L1464 272.1L1465 272L1466 272L1467 271.9L1467.9 271.9L1468.9 271.8L1469.9 271.7L1470.9 271.7L1471.8 271.6L1472.8 271.6L1473.8 271.5L1474.8 271.5L1475.7 271.4L1476.7 271.4L1477.7 271.3L1478.7 271.3L1479.6 271.2L1480.6 271.2L1481.6 271.1L1482.6 271.1L1483.5 271L1484.5 271L1485.5 270.9L1486.5 270.9L1487.4 270.8L1488.4 270.8L1489.4 270.8L1490.4 270.7L1491.3 270.7L1492.3 270.6L1493.3 270.6L1494.3 270.5L1495.2 270.5L1496.2 270.5L1497.2 270.4L1498.2 270.4L1499.2 270.3L1500.1 270.3L1501.1 270.3L1502.1 270.2L1503.1 270.2L1504 270.1L1505 270.1L1506 270.1L1507 270L1507.9 270L1508.9 270L1509.9 269.9L1510.9 269.9L1511.8 269.8L1512.8 269.8L1513.8 269.8L1514.8 269.7L1515.7 269.7L1516.7 269.7L1517.7 269.6L1518.7 269.6L1519.6 269.6L1520.6 269.5L1521.6 269.5L1522.6 269.5L1523.5 269.4L1524.5 269.4L1525.5 269.4L1526.5 269.3L1527.4 269.3L1528.4 269.3L1529.4 269.3L1530.4 269.2L1531.3 269.2L1532.3 269.2L1533.3 269.1L1534.3 269.1L1535.2 269.1L1536.2 269L1537.2 269L1538.2 269L1539.2 269L1540.1 268.9L1541.1 268.9L1542.1 268.9L1543.1 268.8L1544 268.8L1545 268.8L1546 268.8L1547 268.7L1547.9 268.7L1548.9 268.7L1549.9 268.7L1550.9 268.6L1551.8 268.6L1552.8 268.6L1553.8 268.5L1554.8 268.5L1555.7 268.5L1556.7 268.5L1557.7 268.4L1558.7 268.4L1559.6 268.4L1560.6 268.4L1561.6 268.3L1562.6 268.3L1563.5 268.3L1564.5 268.3L1565.5 268.3L1566.5 268.2L1567.4 268.2L1568.4 268.2L1569.4 268.2L1570.4 268.1L1570.9 268.1L1572.5 268.2L1572.9 273.9L1573.3 278.2L1573.7 281.6L1574.1 284.3L1574.5 286.6L1574.9 288.6L1575.3 290.3L1575.7 291.9L1576.1 293.4L1576.5 294.7L1577 295.9L1577.4 296.9L1577.8 297.9L1578.2 298.8L1578.6 299.6L1579 300.3L1579.4 301L1579.8 301.6L1580.2 302.2L1580.6 302.8L1581 303.3L1581.4 303.8L1581.8 304.3L1582.2 304.8L1582.6 305.3L1583.1 305.8L1583.5 306.3L1583.9 306.8L1584.3 307.2L1584.7 307.7L1585.1 308.1L1585.5 308.6L1585.9 309L1586.3 309.4L1586.7 309.8L1587.1 310.2L1587.5 310.6L1587.9 310.9L1588.3 311.2L1588.7 311.6L1589.2 311.9L1589.6 312.2L1590 312.5L1590.4 312.8L1590.8 313.1L1591.2 313.3L1591.6 313.6L1592 313.9L1592.4 314.1L1592.8 314.4L1593.2 314.6L1593.6 314.8L1594 315L1594.4 315.2L1594.8 315.4L1595.2 315.6L1595.7 315.8L1596.1 315.9L1596.5 316.1L1596.9 316.3L1597.3 316.4L1597.7 316.6L1598.1 316.7L1598.5 316.9L1598.9 317L1599.3 317.2L1599.7 317.3L1600.1 317.5L1600.5 317.6L1600.9 317.8L1602.6 318.4L1604.2 319L1605.8 319.6L1607.4 320.2L1609.1 320.7L1610.7 321.3L1612.3 321.7L1613.9 322.2L1615.6 322.6L1617.2 323L1618.8 323.4L1620.5 323.8L1622.1 324.1L1623.7 324.4L1625.3 324.8L1627 325.1L1628.6 325.4L1630.2 325.7L1631.8 325.9L1633.5 326.2L1635.1 326.5L1636.7 326.8L1638.3 327L1640 327.3L1641.6 327.6L1643.2 327.8L1644.8 328.1L1646.5 328.3L1648.1 328.5L1649.7 328.8L1651.3 329L1653 329.2L1654.6 329.4L1656.2 329.6L1657.8 329.8L1659.5 330L1661.1 330.2L1662.7 330.4L1664.4 330.6L1666 330.7L1667.6 330.9L1669.2 331.1L1670.9 331.2L1672.5 331.4L1674.1 331.5L1675.7 331.7L1677.4 331.8L1679 331.9L1680.6 332.1L1682.2 332.2L1683.9 332.3L1685.5 332.4L1687.1 332.5L1688.7 332.7L1690.4 332.8L1692 332.9L1693.6 333L1695.2 333.1L1696.9 333.1L1698.5 333.2L1700.1 333.3L1701.8 333.4L1703.4 333.5L1705 333.5L1706.6 333.6L1708.3 333.7L1709.9 333.7L1711.5 333.8L1713.1 333.8L1714.8 333.9L1716.4 333.9L1718 334L1719.6 334L1721.3 334.1L1722.9 334.1L1724.5 334.2L1726.1 334.2L1727.8 334.3L1729.4 334.3L1731 334.4L1732.6 334.4L1734.3 334.5L1735.9 334.5L1737.5 334.6L1739.1 334.6L1740.8 334.7L1742.4 334.7L1744 334.8L1745.7 334.8L1747.3 334.9L1748.9 334.9L1750.5 334.9L1752.2 335L1753.8 335L1755.4 335.1L1757 335.1L1758.7 335.2L1760.3 335.2L1761.9 335.3L1763.5 335.3L1765.2 335.4L1766.8 335.4L1768.4 335.5L1770 335.5L1771.7 335.6L1773.3 335.6L1774.9 335.7L1776.5 335.7L1778.2 335.8L1779.8 335.8L1781.4 335.9L1783.1 335.9L1784.7 336L1786.3 336L1787.9 336.1L1789.6 336.1L1791.2 336.2L1792.8 336.2L1794.4 336.3L1796.1 336.3L1797.7 336.4L1799.3 336.4L1800.9 336.5L1802.6 336.5L1804.2 336.6L1805.8 336.6L1807.4 336.7L1809.1 336.7L1810.7 336.7L1812.3 336.8L1813.9 336.8L1815.6 336.9L1817.2 336.9L1818.8 337L1820.4 337L1822.1 337L1823.7 337.1L1825.3 337.1L1827 337.2L1828.6 337.2L1830.2 337.2L1831.8 337.3L1833.5 337.3L1835.1 337.3L1836.7 337.4L1838.3 337.4L1840 337.5L1841.6 337.5L1843.2 337.5L1844.8 337.6L1846.5 337.6L1848.1 337.6L1849.7 337.7L1851.3 337.7L1853 337.7L1854.6 337.8L1856.2 337.8L1857.8 337.8L1859.5 337.9L1861.1 337.9L1862.7 337.9L1864.4 338L1866 338L1867.6 338L1869.2 338.1L1870.9 338.1L1872.5 338.1L1874.1 338.1L1875.7 338.2L1877.4 338.2L1879 338.2L1880.6 338.3L1882.2 338.3L1883.9 338.3L1885.5 338.3L1887.1 338.4L1888.7 338.4L1890.4 338.4L1892 338.5" fill="none" stroke="#2a1515" stroke-width="2.3" transform="translate(0 -0.3)" stroke-linejoin="round"/>
<path d="M1359.5 346L1366.8 345.7L1371.7 346L1373.3 347.9L1374 351.7L1374.8 346L1374.9 313.8L1375.1 307.4L1375.3 306L1375.4 305.5L1375.6 305.2L1375.7 305L1375.9 304.7L1376.1 304.5L1376.2 304.2L1376.4 304L1376.6 303.8L1376.7 303.5L1376.9 303.3L1377 303.1L1377.2 302.9L1377.4 302.6L1377.5 302.4L1377.7 302.2L1377.9 302L1378 301.7L1378.2 301.5L1379.2 300.3L1380.1 299.1L1381.1 297.9L1382.1 296.8L1383.1 295.8L1384 294.8L1385 293.8L1386 292.9L1387 292L1387.9 291.2L1388.9 290.4L1389.9 289.7L1390.9 288.9L1391.8 288.3L1392.8 287.6L1393.8 287L1394.8 286.4L1395.7 285.8L1396.7 285.2L1397.7 284.7L1398.7 284.2L1399.6 283.7L1400.6 283.3L1401.6 282.8L1402.6 282.4L1403.5 282L1404.5 281.6L1405.5 281.2L1406.5 280.9L1407.4 280.5L1408.4 280.2L1409.4 279.9L1410.4 279.6L1411.3 279.3L1412.3 279L1413.3 278.7L1414.3 278.5L1415.3 278.2L1416.2 278L1417.2 277.7L1418.2 277.5L1419.2 277.3L1420.1 277.1L1421.1 276.9L1422.1 276.7L1423.1 276.5L1424 276.3L1425 276.2L1426 276L1427 275.8L1427.9 275.7L1428.9 275.5L1429.9 275.4L1430.9 275.2L1431.8 275.1L1432.8 275L1433.8 274.8L1434.8 274.7L1435.7 274.6L1436.7 274.5L1437.7 274.3L1438.7 274.2L1439.6 274.1L1440.6 274L1441.6 273.9L1442.6 273.8L1443.5 273.7L1444.5 273.6L1445.5 273.5L1446.5 273.4L1447.4 273.4L1448.4 273.3L1449.4 273.2L1450.4 273.1L1451.3 273L1452.3 272.9L1453.3 272.9L1454.3 272.8L1455.3 272.7L1456.2 272.6L1457.2 272.6L1458.2 272.5L1459.2 272.4L1460.1 272.4L1461.1 272.3L1462.1 272.2L1463.1 272.2L1464 272.1L1465 272L1466 272L1467 271.9L1467.9 271.9L1468.9 271.8L1469.9 271.7L1470.9 271.7L1471.8 271.6L1472.8 271.6L1473.8 271.5L1474.8 271.5L1475.7 271.4L1476.7 271.4L1477.7 271.3L1478.7 271.3L1479.6 271.2L1480.6 271.2L1481.6 271.1L1482.6 271.1L1483.5 271L1484.5 271L1485.5 270.9L1486.5 270.9L1487.4 270.8L1488.4 270.8L1489.4 270.8L1490.4 270.7L1491.3 270.7L1492.3 270.6L1493.3 270.6L1494.3 270.5L1495.2 270.5L1496.2 270.5L1497.2 270.4L1498.2 270.4L1499.2 270.3L1500.1 270.3L1501.1 270.3L1502.1 270.2L1503.1 270.2L1504 270.1L1505 270.1L1506 270.1L1507 270L1507.9 270L1508.9 270L1509.9 269.9L1510.9 269.9L1511.8 269.8L1512.8 269.8L1513.8 269.8L1514.8 269.7L1515.7 269.7L1516.7 269.7L1517.7 269.6L1518.7 269.6L1519.6 269.6L1520.6 269.5L1521.6 269.5L1522.6 269.5L1523.5 269.4L1524.5 269.4L1525.5 269.4L1526.5 269.3L1527.4 269.3L1528.4 269.3L1529.4 269.3L1530.4 269.2L1531.3 269.2L1532.3 269.2L1533.3 269.1L1534.3 269.1L1535.2 269.1L1536.2 269L1537.2 269L1538.2 269L1539.2 269L1540.1 268.9L1541.1 268.9L1542.1 268.9L1543.1 268.8L1544 268.8L1545 268.8L1546 268.8L1547 268.7L1547.9 268.7L1548.9 268.7L1549.9 268.7L1550.9 268.6L1551.8 268.6L1552.8 268.6L1553.8 268.5L1554.8 268.5L1555.7 268.5L1556.7 268.5L1557.7 268.4L1558.7 268.4L1559.6 268.4L1560.6 268.4L1561.6 268.3L1562.6 268.3L1563.5 268.3L1564.5 268.3L1565.5 268.3L1566.5 268.2L1567.4 268.2L1568.4 268.2L1569.4 268.2L1570.4 268.1L1570.9 268.1L1572.5 268.2L1572.9 273.9L1573.3 278.2L1573.7 281.6L1574.1 284.3L1574.5 286.6L1574.9 288.6L1575.3 290.3L1575.7 291.9L1576.1 293.4L1576.5 294.7L1577 295.9L1577.4 296.9L1577.8 297.9L1578.2 298.8L1578.6 299.6L1579 300.3L1579.4 301L1579.8 301.6L1580.2 302.2L1580.6 302.8L1581 303.3L1581.4 303.8L1581.8 304.3L1582.2 304.8L1582.6 305.3L1583.1 305.8L1583.5 306.3L1583.9 306.8L1584.3 307.2L1584.7 307.7L1585.1 308.1L1585.5 308.6L1585.9 309L1586.3 309.4L1586.7 309.8L1587.1 310.2L1587.5 310.6L1587.9 310.9L1588.3 311.2L1588.7 311.6L1589.2 311.9L1589.6 312.2L1590 312.5L1590.4 312.8L1590.8 313.1L1591.2 313.3L1591.6 313.6L1592 313.9L1592.4 314.1L1592.8 314.4L1593.2 314.6L1593.6 314.8L1594 315L1594.4 315.2L1594.8 315.4L1595.2 315.6L1595.7 315.8L1596.1 315.9L1596.5 316.1L1596.9 316.3L1597.3 316.4L1597.7 316.6L1598.1 316.7L1598.5 316.9L1598.9 317L1599.3 317.2L1599.7 317.3L1600.1 317.5L1600.5 317.6L1600.9 317.8L1602.6 318.4L1604.2 319L1605.8 319.6L1607.4 320.2L1609.1 320.7L1610.7 321.3L1612.3 321.7L1613.9 322.2L1615.6 322.6L1617.2 323L1618.8 323.4L1620.5 323.8L1622.1 324.1L1623.7 324.4L1625.3 324.8L1627 325.1L1628.6 325.4L1630.2 325.7L1631.8 325.9L1633.5 326.2L1635.1 326.5L1636.7 326.8L1638.3 327L1640 327.3L1641.6 327.6L1643.2 327.8L1644.8 328.1L1646.5 328.3L1648.1 328.5L1649.7 328.8L1651.3 329L1653 329.2L1654.6 329.4L1656.2 329.6L1657.8 329.8L1659.5 330L1661.1 330.2L1662.7 330.4L1664.4 330.6L1666 330.7L1667.6 330.9L1669.2 331.1L1670.9 331.2L1672.5 331.4L1674.1 331.5L1675.7 331.7L1677.4 331.8L1679 331.9L1680.6 332.1L1682.2 332.2L1683.9 332.3L1685.5 332.4L1687.1 332.5L1688.7 332.7L1690.4 332.8L1692 332.9L1693.6 333L1695.2 333.1L1696.9 333.1L1698.5 333.2L1700.1 333.3L1701.8 333.4L1703.4 333.5L1705 333.5L1706.6 333.6L1708.3 333.7L1709.9 333.7L1711.5 333.8L1713.1 333.8L1714.8 333.9L1716.4 333.9L1718 334L1719.6 334L1721.3 334.1L1722.9 334.1L1724.5 334.2L1726.1 334.2L1727.8 334.3L1729.4 334.3L1731 334.4L1732.6 334.4L1734.3 334.5L1735.9 334.5L1737.5 334.6L1739.1 334.6L1740.8 334.7L1742.4 334.7L1744 334.8L1745.7 334.8L1747.3 334.9L1748.9 334.9L1750.5 334.9L1752.2 335L1753.8 335L1755.4 335.1L1757 335.1L1758.7 335.2L1760.3 335.2L1761.9 335.3L1763.5 335.3L1765.2 335.4L1766.8 335.4L1768.4 335.5L1770 335.5L1771.7 335.6L1773.3 335.6L1774.9 335.7L1776.5 335.7L1778.2 335.8L1779.8 335.8L1781.4 335.9L1783.1 335.9L1784.7 336L1786.3 336L1787.9 336.1L1789.6 336.1L1791.2 336.2L1792.8 336.2L1794.4 336.3L1796.1 336.3L1797.7 336.4L1799.3 336.4L1800.9 336.5L1802.6 336.5L1804.2 336.6L1805.8 336.6L1807.4 336.7L1809.1 336.7L1810.7 336.7L1812.3 336.8L1813.9 336.8L1815.6 336.9L1817.2 336.9L1818.8 337L1820.4 337L1822.1 337L1823.7 337.1L1825.3 337.1L1827 337.2L1828.6 337.2L1830.2 337.2L1831.8 337.3L1833.5 337.3L1835.1 337.3L1836.7 337.4L1838.3 337.4L1840 337.5L1841.6 337.5L1843.2 337.5L1844.8 337.6L1846.5 337.6L1848.1 337.6L1849.7 337.7L1851.3 337.7L1853 337.7L1854.6 337.8L1856.2 337.8L1857.8 337.8L1859.5 337.9L1861.1 337.9L1862.7 337.9L1864.4 338L1866 338L1867.6 338L1869.2 338.1L1870.9 338.1L1872.5 338.1L1874.1 338.1L1875.7 338.2L1877.4 338.2L1879 338.2L1880.6 338.3L1882.2 338.3L1883.9 338.3L1885.5 338.3L1887.1 338.4L1888.7 338.4L1890.4 338.4L1892 338.5" fill="none" stroke="#EC1C1C" stroke-width="1.3" transform="translate(0.2 0.4)" stroke-linejoin="round"/>
<path d="M1359.5 346L1366.8 345.7L1371.7 346L1373.3 347.9L1374 351.7L1374.8 346L1374.9 281.8L1375.1 264.3L1375.3 259.5L1375.4 258L1375.6 257.4L1375.7 257L1375.9 256.7L1376.1 256.4L1376.2 256.2L1376.4 255.9L1376.6 255.6L1376.7 255.4L1376.9 255.1L1377 254.8L1377.2 254.6L1377.4 254.3L1377.5 254.1L1377.7 253.8L1377.9 253.6L1378 253.3L1378.2 253.1L1379.2 251.6L1380.1 250.2L1381.1 248.8L1382.1 247.5L1383.1 246.2L1384 245L1385 243.8L1386 242.7L1387 241.6L1387.9 240.5L1388.9 239.4L1389.9 238.4L1390.9 237.5L1391.8 236.5L1392.8 235.6L1393.8 234.8L1394.8 233.9L1395.7 233.1L1396.7 232.3L1397.7 231.5L1398.7 230.8L1399.6 230.1L1400.6 229.4L1401.6 228.7L1402.6 228.1L1403.5 227.5L1404.5 226.9L1405.5 226.3L1406.5 225.7L1407.4 225.2L1408.4 224.6L1409.4 224.1L1410.4 223.6L1411.3 223.1L1412.3 222.7L1413.3 222.2L1414.3 221.8L1415.3 221.4L1416.2 221L1417.2 220.6L1418.2 220.2L1419.2 219.8L1420.1 219.4L1421.1 219.1L1422.1 218.7L1423.1 218.4L1424 218.1L1425 217.8L1426 217.5L1427 217.2L1427.9 216.9L1428.9 216.6L1429.9 216.4L1430.9 216.1L1431.8 215.9L1432.8 215.6L1433.8 215.4L1434.8 215.1L1435.7 214.9L1436.7 214.7L1437.7 214.5L1438.7 214.3L1439.6 214.1L1440.6 213.9L1441.6 213.7L1442.6 213.5L1443.5 213.3L1444.5 213.2L1445.5 213L1446.5 212.8L1447.4 212.7L1448.4 212.5L1449.4 212.3L1450.4 212.2L1451.3 212L1452.3 211.9L1453.3 211.8L1454.3 211.6L1455.3 211.5L1456.2 211.4L1457.2 211.2L1458.2 211.1L1459.2 211L1460.1 210.9L1461.1 210.7L1462.1 210.6L1463.1 210.5L1464 210.4L1465 210.3L1466 210.2L1467 210.1L1467.9 210L1468.9 209.9L1469.9 209.8L1470.9 209.7L1471.8 209.6L1472.8 209.5L1473.8 209.4L1474.8 209.3L1475.7 209.2L1476.7 209.2L1477.7 209.1L1478.7 209L1479.6 208.9L1480.6 208.8L1481.6 208.7L1482.6 208.7L1483.5 208.6L1484.5 208.5L1485.5 208.4L1486.5 208.4L1487.4 208.3L1488.4 208.2L1489.4 208.1L1490.4 208.1L1491.3 208L1492.3 207.9L1493.3 207.9L1494.3 207.8L1495.2 207.7L1496.2 207.7L1497.2 207.6L1498.2 207.5L1499.2 207.5L1500.1 207.4L1501.1 207.3L1502.1 207.3L1503.1 207.2L1504 207.2L1505 207.1L1506 207L1507 207L1507.9 206.9L1508.9 206.9L1509.9 206.8L1510.9 206.7L1511.8 206.7L1512.8 206.6L1513.8 206.6L1514.8 206.5L1515.7 206.5L1516.7 206.4L1517.7 206.4L1518.7 206.3L1519.6 206.3L1520.6 206.2L1521.6 206.1L1522.6 206.1L1523.5 206L1524.5 206L1525.5 205.9L1526.5 205.9L1527.4 205.8L1528.4 205.8L1529.4 205.7L1530.4 205.7L1531.3 205.6L1532.3 205.6L1533.3 205.5L1534.3 205.5L1535.2 205.4L1536.2 205.4L1537.2 205.3L1538.2 205.3L1539.2 205.2L1540.1 205.2L1541.1 205.1L1542.1 205.1L1543.1 205L1544 205L1545 204.9L1546 204.9L1547 204.9L1547.9 204.8L1548.9 204.8L1549.9 204.7L1550.9 204.7L1551.8 204.6L1552.8 204.6L1553.8 204.5L1554.8 204.5L1555.7 204.4L1556.7 204.4L1557.7 204.3L1558.7 204.3L1559.6 204.2L1560.6 204.2L1561.6 204.2L1562.6 204.1L1563.5 204.1L1564.5 204L1565.5 204L1566.5 203.9L1567.4 203.9L1568.4 203.8L1569.4 203.8L1570.4 203.8L1570.9 203.7L1572.2 203.7L1572.6 211.7L1573 218.1L1573.4 223.4L1573.8 227.9L1574.2 231.7L1574.6 235L1575 238.1L1575.4 240.9L1575.8 243.6L1576.2 246L1576.6 248.1L1577 250.1L1577.4 251.9L1577.9 253.5L1578.3 255L1578.7 256.4L1579.1 257.7L1579.5 258.9L1579.9 260L1580.3 261.2L1580.7 262.2L1581.1 263.3L1581.5 264.3L1581.9 265.4L1582.3 266.4L1582.7 267.4L1583.1 268.4L1583.5 269.4L1583.9 270.4L1584.4 271.4L1584.8 272.4L1585.2 273.4L1585.6 274.4L1586 275.4L1586.4 276.3L1586.8 277.2L1587.2 278.1L1587.6 279L1588 279.8L1588.4 280.6L1588.8 281.5L1589.2 282.3L1589.6 283.1L1590 283.9L1590.5 284.7L1590.9 285.5L1591.3 286.2L1591.7 286.9L1592.1 287.6L1592.5 288.2L1592.9 288.8L1593.3 289.4L1593.7 290L1594.1 290.5L1594.5 291L1594.9 291.4L1595.3 291.9L1595.7 292.3L1596.1 292.7L1596.5 293.2L1597 293.6L1597.4 293.9L1597.8 294.3L1598.2 294.7L1598.6 295L1599 295.4L1599.4 295.8L1599.8 296.1L1600.2 296.4L1600.6 296.8L1600.9 297L1602.6 298.3L1604.2 299.4L1605.8 300.5L1607.4 301.5L1609.1 302.4L1610.7 303.3L1612.3 304.1L1613.9 304.9L1615.6 305.7L1617.2 306.4L1618.8 307.2L1620.5 307.9L1622.1 308.5L1623.7 309.2L1625.3 309.8L1627 310.4L1628.6 311L1630.2 311.5L1631.8 312.1L1633.5 312.6L1635.1 313L1636.7 313.5L1638.3 313.9L1640 314.4L1641.6 314.8L1643.2 315.2L1644.8 315.6L1646.5 316L1648.1 316.4L1649.7 316.8L1651.3 317.2L1653 317.6L1654.6 318L1656.2 318.4L1657.8 318.7L1659.5 319.1L1661.1 319.5L1662.7 319.8L1664.4 320.1L1666 320.5L1667.6 320.8L1669.2 321.1L1670.9 321.5L1672.5 321.8L1674.1 322.1L1675.7 322.4L1677.4 322.7L1679 323L1680.6 323.3L1682.2 323.6L1683.9 323.9L1685.5 324.2L1687.1 324.4L1688.7 324.7L1690.4 324.9L1692 325.1L1693.6 325.4L1695.2 325.6L1696.9 325.8L1698.5 325.9L1700.1 326.1L1701.8 326.3L1703.4 326.4L1705 326.6L1706.6 326.7L1708.3 326.9L1709.9 327L1711.5 327.1L1713.1 327.3L1714.8 327.4L1716.4 327.5L1718 327.6L1719.6 327.7L1721.3 327.8L1722.9 327.9L1724.5 328L1726.1 328.2L1727.8 328.3L1729.4 328.4L1731 328.5L1732.6 328.6L1734.3 328.6L1735.9 328.7L1737.5 328.8L1739.1 328.9L1740.8 329L1742.4 329.1L1744 329.1L1745.7 329.2L1747.3 329.3L1748.9 329.4L1750.5 329.5L1752.2 329.5L1753.8 329.6L1755.4 329.7L1757 329.8L1758.7 329.9L1760.3 329.9L1761.9 330L1763.5 330.1L1765.2 330.2L1766.8 330.3L1768.4 330.4L1770 330.5L1771.7 330.6L1773.3 330.7L1774.9 330.8L1776.5 330.9L1778.2 331L1779.8 331.1L1781.4 331.2L1783.1 331.3L1784.7 331.4L1786.3 331.5L1787.9 331.5L1789.6 331.6L1791.2 331.7L1792.8 331.8L1794.4 331.9L1796.1 332L1797.7 332L1799.3 332.1L1800.9 332.2L1802.6 332.3L1804.2 332.3L1805.8 332.4L1807.4 332.5L1809.1 332.5L1810.7 332.6L1812.3 332.7L1813.9 332.7L1815.6 332.8L1817.2 332.8L1818.8 332.9L1820.4 333L1822.1 333L1823.7 333.1L1825.3 333.1L1827 333.2L1828.6 333.3L1830.2 333.3L1831.8 333.4L1833.5 333.4L1835.1 333.5L1836.7 333.6L1838.3 333.6L1840 333.7L1841.6 333.8L1843.2 333.8L1844.8 333.9L1846.5 333.9L1848.1 334L1849.7 334.1L1851.3 334.1L1853 334.2L1854.6 334.3L1856.2 334.3L1857.8 334.4L1859.5 334.5L1861.1 334.5L1862.7 334.6L1864.4 334.7L1866 334.7L1867.6 334.8L1869.2 334.9L1870.9 334.9L1872.5 335L1874.1 335.1L1875.7 335.1L1877.4 335.2L1879 335.3L1880.6 335.3L1882.2 335.4L1883.9 335.4L1885.5 335.5L1887.1 335.6L1888.7 335.6L1890.4 335.7L1892 335.8" fill="none" stroke="#2a1515" stroke-width="2.3" transform="translate(0 -0.3)" stroke-linejoin="round"/>
<path d="M1359.5 346L1366.8 345.7L1371.7 346L1373.3 347.9L1374 351.7L1374.8 346L1374.9 281.8L1375.1 264.3L1375.3 259.5L1375.4 258L1375.6 257.4L1375.7 257L1375.9 256.7L1376.1 256.4L1376.2 256.2L1376.4 255.9L1376.6 255.6L1376.7 255.4L1376.9 255.1L1377 254.8L1377.2 254.6L1377.4 254.3L1377.5 254.1L1377.7 253.8L1377.9 253.6L1378 253.3L1378.2 253.1L1379.2 251.6L1380.1 250.2L1381.1 248.8L1382.1 247.5L1383.1 246.2L1384 245L1385 243.8L1386 242.7L1387 241.6L1387.9 240.5L1388.9 239.4L1389.9 238.4L1390.9 237.5L1391.8 236.5L1392.8 235.6L1393.8 234.8L1394.8 233.9L1395.7 233.1L1396.7 232.3L1397.7 231.5L1398.7 230.8L1399.6 230.1L1400.6 229.4L1401.6 228.7L1402.6 228.1L1403.5 227.5L1404.5 226.9L1405.5 226.3L1406.5 225.7L1407.4 225.2L1408.4 224.6L1409.4 224.1L1410.4 223.6L1411.3 223.1L1412.3 222.7L1413.3 222.2L1414.3 221.8L1415.3 221.4L1416.2 221L1417.2 220.6L1418.2 220.2L1419.2 219.8L1420.1 219.4L1421.1 219.1L1422.1 218.7L1423.1 218.4L1424 218.1L1425 217.8L1426 217.5L1427 217.2L1427.9 216.9L1428.9 216.6L1429.9 216.4L1430.9 216.1L1431.8 215.9L1432.8 215.6L1433.8 215.4L1434.8 215.1L1435.7 214.9L1436.7 214.7L1437.7 214.5L1438.7 214.3L1439.6 214.1L1440.6 213.9L1441.6 213.7L1442.6 213.5L1443.5 213.3L1444.5 213.2L1445.5 213L1446.5 212.8L1447.4 212.7L1448.4 212.5L1449.4 212.3L1450.4 212.2L1451.3 212L1452.3 211.9L1453.3 211.8L1454.3 211.6L1455.3 211.5L1456.2 211.4L1457.2 211.2L1458.2 211.1L1459.2 211L1460.1 210.9L1461.1 210.7L1462.1 210.6L1463.1 210.5L1464 210.4L1465 210.3L1466 210.2L1467 210.1L1467.9 210L1468.9 209.9L1469.9 209.8L1470.9 209.7L1471.8 209.6L1472.8 209.5L1473.8 209.4L1474.8 209.3L1475.7 209.2L1476.7 209.2L1477.7 209.1L1478.7 209L1479.6 208.9L1480.6 208.8L1481.6 208.7L1482.6 208.7L1483.5 208.6L1484.5 208.5L1485.5 208.4L1486.5 208.4L1487.4 208.3L1488.4 208.2L1489.4 208.1L1490.4 208.1L1491.3 208L1492.3 207.9L1493.3 207.9L1494.3 207.8L1495.2 207.7L1496.2 207.7L1497.2 207.6L1498.2 207.5L1499.2 207.5L1500.1 207.4L1501.1 207.3L1502.1 207.3L1503.1 207.2L1504 207.2L1505 207.1L1506 207L1507 207L1507.9 206.9L1508.9 206.9L1509.9 206.8L1510.9 206.7L1511.8 206.7L1512.8 206.6L1513.8 206.6L1514.8 206.5L1515.7 206.5L1516.7 206.4L1517.7 206.4L1518.7 206.3L1519.6 206.3L1520.6 206.2L1521.6 206.1L1522.6 206.1L1523.5 206L1524.5 206L1525.5 205.9L1526.5 205.9L1527.4 205.8L1528.4 205.8L1529.4 205.7L1530.4 205.7L1531.3 205.6L1532.3 205.6L1533.3 205.5L1534.3 205.5L1535.2 205.4L1536.2 205.4L1537.2 205.3L1538.2 205.3L1539.2 205.2L1540.1 205.2L1541.1 205.1L1542.1 205.1L1543.1 205L1544 205L1545 204.9L1546 204.9L1547 204.9L1547.9 204.8L1548.9 204.8L1549.9 204.7L1550.9 204.7L1551.8 204.6L1552.8 204.6L1553.8 204.5L1554.8 204.5L1555.7 204.4L1556.7 204.4L1557.7 204.3L1558.7 204.3L1559.6 204.2L1560.6 204.2L1561.6 204.2L1562.6 204.1L1563.5 204.1L1564.5 204L1565.5 204L1566.5 203.9L1567.4 203.9L1568.4 203.8L1569.4 203.8L1570.4 203.8L1570.9 203.7L1572.2 203.7L1572.6 211.7L1573 218.1L1573.4 223.4L1573.8 227.9L1574.2 231.7L1574.6 235L1575 238.1L1575.4 240.9L1575.8 243.6L1576.2 246L1576.6 248.1L1577 250.1L1577.4 251.9L1577.9 253.5L1578.3 255L1578.7 256.4L1579.1 257.7L1579.5 258.9L1579.9 260L1580.3 261.2L1580.7 262.2L1581.1 263.3L1581.5 264.3L1581.9 265.4L1582.3 266.4L1582.7 267.4L1583.1 268.4L1583.5 269.4L1583.9 270.4L1584.4 271.4L1584.8 272.4L1585.2 273.4L1585.6 274.4L1586 275.4L1586.4 276.3L1586.8 277.2L1587.2 278.1L1587.6 279L1588 279.8L1588.4 280.6L1588.8 281.5L1589.2 282.3L1589.6 283.1L1590 283.9L1590.5 284.7L1590.9 285.5L1591.3 286.2L1591.7 286.9L1592.1 287.6L1592.5 288.2L1592.9 288.8L1593.3 289.4L1593.7 290L1594.1 290.5L1594.5 291L1594.9 291.4L1595.3 291.9L1595.7 292.3L1596.1 292.7L1596.5 293.2L1597 293.6L1597.4 293.9L1597.8 294.3L1598.2 294.7L1598.6 295L1599 295.4L1599.4 295.8L1599.8 296.1L1600.2 296.4L1600.6 296.8L1600.9 297L1602.6 298.3L1604.2 299.4L1605.8 300.5L1607.4 301.5L1609.1 302.4L1610.7 303.3L1612.3 304.1L1613.9 304.9L1615.6 305.7L1617.2 306.4L1618.8 307.2L1620.5 307.9L1622.1 308.5L1623.7 309.2L1625.3 309.8L1627 310.4L1628.6 311L1630.2 311.5L1631.8 312.1L1633.5 312.6L1635.1 313L1636.7 313.5L1638.3 313.9L1640 314.4L1641.6 314.8L1643.2 315.2L1644.8 315.6L1646.5 316L1648.1 316.4L1649.7 316.8L1651.3 317.2L1653 317.6L1654.6 318L1656.2 318.4L1657.8 318.7L1659.5 319.1L1661.1 319.5L1662.7 319.8L1664.4 320.1L1666 320.5L1667.6 320.8L1669.2 321.1L1670.9 321.5L1672.5 321.8L1674.1 322.1L1675.7 322.4L1677.4 322.7L1679 323L1680.6 323.3L1682.2 323.6L1683.9 323.9L1685.5 324.2L1687.1 324.4L1688.7 324.7L1690.4 324.9L1692 325.1L1693.6 325.4L1695.2 325.6L1696.9 325.8L1698.5 325.9L1700.1 326.1L1701.8 326.3L1703.4 326.4L1705 326.6L1706.6 326.7L1708.3 326.9L1709.9 327L1711.5 327.1L1713.1 327.3L1714.8 327.4L1716.4 327.5L1718 327.6L1719.6 327.7L1721.3 327.8L1722.9 327.9L1724.5 328L1726.1 328.2L1727.8 328.3L1729.4 328.4L1731 328.5L1732.6 328.6L1734.3 328.6L1735.9 328.7L1737.5 328.8L1739.1 328.9L1740.8 329L1742.4 329.1L1744 329.1L1745.7 329.2L1747.3 329.3L1748.9 329.4L1750.5 329.5L1752.2 329.5L1753.8 329.6L1755.4 329.7L1757 329.8L1758.7 329.9L1760.3 329.9L1761.9 330L1763.5 330.1L1765.2 330.2L1766.8 330.3L1768.4 330.4L1770 330.5L1771.7 330.6L1773.3 330.7L1774.9 330.8L1776.5 330.9L1778.2 331L1779.8 331.1L1781.4 331.2L1783.1 331.3L1784.7 331.4L1786.3 331.5L1787.9 331.5L1789.6 331.6L1791.2 331.7L1792.8 331.8L1794.4 331.9L1796.1 332L1797.7 332L1799.3 332.1L1800.9 332.2L1802.6 332.3L1804.2 332.3L1805.8 332.4L1807.4 332.5L1809.1 332.5L1810.7 332.6L1812.3 332.7L1813.9 332.7L1815.6 332.8L1817.2 332.8L1818.8 332.9L1820.4 333L1822.1 333L1823.7 333.1L1825.3 333.1L1827 333.2L1828.6 333.3L1830.2 333.3L1831.8 333.4L1833.5 333.4L1835.1 333.5L1836.7 333.6L1838.3 333.6L1840 333.7L1841.6 333.8L1843.2 333.8L1844.8 333.9L1846.5 333.9L1848.1 334L1849.7 334.1L1851.3 334.1L1853 334.2L1854.6 334.3L1856.2 334.3L1857.8 334.4L1859.5 334.5L1861.1 334.5L1862.7 334.6L1864.4 334.7L1866 334.7L1867.6 334.8L1869.2 334.9L1870.9 334.9L1872.5 335L1874.1 335.1L1875.7 335.1L1877.4 335.2L1879 335.3L1880.6 335.3L1882.2 335.4L1883.9 335.4L1885.5 335.5L1887.1 335.6L1888.7 335.6L1890.4 335.7L1892 335.8" fill="none" stroke="#EC1C1C" stroke-width="1.3" transform="translate(0.2 0.4)" stroke-linejoin="round"/>
<path d="M1359.5 346L1366.8 345.7L1371.7 346L1373.3 347.9L1374 351.7L1374.8 346L1374.9 290.7L1375.1 254.4L1375.3 230.5L1375.4 214.6L1375.6 203.9L1375.7 196.6L1375.9 191.5L1376.1 187.9L1376.2 185.1L1376.4 183L1376.6 181.3L1376.7 179.9L1376.9 178.7L1377 177.5L1377.2 176.5L1377.4 175.5L1377.5 174.6L1377.7 173.7L1377.9 172.8L1378 171.9L1378.2 171.1L1379.2 166.4L1380.1 162.2L1381.1 158.4L1382.1 155L1383.1 151.9L1384 149L1385 146.5L1386 144.1L1387 141.9L1387.9 139.9L1388.9 138.1L1389.9 136.4L1390.9 134.8L1391.8 133.3L1392.8 131.9L1393.8 130.6L1394.8 129.4L1395.7 128.3L1396.7 127.2L1397.7 126.2L1398.7 125.2L1399.6 124.2L1400.6 123.3L1401.6 122.5L1402.6 121.6L1403.5 120.8L1404.5 120.1L1405.5 119.3L1406.5 118.6L1407.4 117.9L1408.4 117.2L1409.4 116.6L1410.4 115.9L1411.3 115.3L1412.3 114.7L1413.3 114.1L1414.3 113.5L1415.3 112.9L1416.2 112.3L1417.2 111.8L1418.2 111.3L1419.2 110.7L1420.1 110.2L1421.1 109.7L1422.1 109.2L1423.1 108.7L1424 108.2L1425 107.7L1426 107.3L1427 106.8L1427.9 106.3L1428.9 105.9L1429.9 105.4L1430.9 105L1431.8 104.6L1432.8 104.2L1433.8 103.7L1434.8 103.3L1435.7 102.9L1436.7 102.5L1437.7 102.1L1438.7 101.8L1439.6 101.4L1440.6 101L1441.6 100.6L1442.6 100.3L1443.5 99.9L1444.5 99.6L1445.5 99.2L1446.5 98.9L1447.4 98.5L1448.4 98.2L1449.4 97.9L1450.4 97.6L1451.3 97.2L1452.3 96.9L1453.3 96.6L1454.3 96.3L1455.3 96L1456.2 95.7L1457.2 95.4L1458.2 95.1L1459.2 94.8L1460.1 94.6L1461.1 94.3L1462.1 94L1463.1 93.8L1464 93.5L1465 93.2L1466 93L1467 92.7L1467.9 92.5L1468.9 92.2L1469.9 92L1470.9 91.7L1471.8 91.5L1472.8 91.3L1473.8 91L1474.8 90.8L1475.7 90.6L1476.7 90.4L1477.7 90.2L1478.7 89.9L1479.6 89.7L1480.6 89.5L1481.6 89.3L1482.6 89.1L1483.5 88.9L1484.5 88.7L1485.5 88.5L1486.5 88.4L1487.4 88.2L1488.4 88L1489.4 87.8L1490.4 87.6L1491.3 87.4L1492.3 87.3L1493.3 87.1L1494.3 86.9L1495.2 86.8L1496.2 86.6L1497.2 86.4L1498.2 86.3L1499.2 86.1L1500.1 86L1501.1 85.8L1502.1 85.7L1503.1 85.5L1504 85.4L1505 85.2L1506 85.1L1507 84.9L1507.9 84.8L1508.9 84.7L1509.9 84.5L1510.9 84.4L1511.8 84.3L1512.8 84.1L1513.8 84L1514.8 83.9L1515.7 83.8L1516.7 83.6L1517.7 83.5L1518.7 83.4L1519.6 83.3L1520.6 83.2L1521.6 83.1L1522.6 82.9L1523.5 82.8L1524.5 82.7L1525.5 82.6L1526.5 82.5L1527.4 82.4L1528.4 82.3L1529.4 82.2L1530.4 82.1L1531.3 82L1532.3 81.9L1533.3 81.8L1534.3 81.7L1535.2 81.6L1536.2 81.5L1537.2 81.5L1538.2 81.4L1539.2 81.3L1540.1 81.2L1541.1 81.1L1542.1 81L1543.1 80.9L1544 80.9L1545 80.8L1546 80.7L1547 80.6L1547.9 80.5L1548.9 80.5L1549.9 80.4L1550.9 80.3L1551.8 80.3L1552.8 80.2L1553.8 80.1L1554.8 80L1555.7 80L1556.7 79.9L1557.7 79.8L1558.7 79.8L1559.6 79.7L1560.6 79.6L1561.6 79.6L1562.6 79.5L1563.5 79.5L1564.5 79.4L1565.5 79.3L1566.5 79.3L1567.4 79.2L1568.4 79.2L1569.4 79.1L1570 79.1L1571 78.7L1571.4 84.3L1571.8 93.9L1572.2 103.6L1572.6 112.2L1573.1 119.7L1573.5 128.7L1573.9 138.6L1574.3 148.1L1574.7 156.7L1575.1 164.2L1575.5 170.5L1575.9 175.7L1576.3 180L1576.7 183.9L1577.1 187.5L1577.5 190.7L1577.9 193.7L1578.3 196.5L1578.7 199.1L1579.2 201.5L1579.6 203.8L1580 205.9L1580.4 207.9L1580.8 209.8L1581.2 211.6L1581.6 213.3L1582 215L1582.4 216.6L1582.8 218.1L1583.2 219.6L1583.6 221.1L1584 222.4L1584.4 223.8L1584.8 225.1L1585.2 226.3L1585.7 227.5L1586.1 228.7L1586.5 229.9L1586.9 231L1587.3 232L1587.7 233.1L1588.1 234.1L1588.5 235.1L1588.9 236.1L1589.3 237L1589.7 237.9L1590.1 238.7L1590.5 239.6L1590.9 240.4L1591.3 241.3L1591.8 242.1L1592.2 242.9L1592.6 243.6L1593 244.4L1593.4 245.2L1593.8 246L1594.2 246.7L1594.6 247.5L1595 248.2L1595.4 248.9L1595.8 249.6L1596.2 250.4L1596.6 251.1L1597 251.7L1597.4 252.4L1597.9 253.1L1598.3 253.8L1598.7 254.4L1599.1 255.1L1599.5 255.7L1599.9 256.4L1600.3 257L1600.7 257.6L1600.9 258L1602.6 260.4L1604.2 262.7L1605.8 265L1607.4 267.2L1609.1 269.4L1610.7 271.6L1612.3 273.7L1613.9 275.6L1615.6 277.4L1617.2 279L1618.8 280.5L1620.5 281.9L1622.1 283.1L1623.7 284.3L1625.3 285.5L1627 286.5L1628.6 287.6L1630.2 288.6L1631.8 289.6L1633.5 290.5L1635.1 291.4L1636.7 292.3L1638.3 293.1L1640 293.9L1641.6 294.7L1643.2 295.4L1644.8 296.1L1646.5 296.8L1648.1 297.5L1649.7 298.1L1651.3 298.7L1653 299.3L1654.6 299.8L1656.2 300.4L1657.8 300.9L1659.5 301.4L1661.1 301.9L1662.7 302.3L1664.4 302.8L1666 303.3L1667.6 303.7L1669.2 304.1L1670.9 304.5L1672.5 304.9L1674.1 305.3L1675.7 305.7L1677.4 306.1L1679 306.4L1680.6 306.8L1682.2 307.1L1683.9 307.4L1685.5 307.8L1687.1 308.1L1688.7 308.4L1690.4 308.7L1692 309L1693.6 309.2L1695.2 309.5L1696.9 309.8L1698.5 310.1L1700.1 310.3L1701.8 310.6L1703.4 310.8L1705 311.1L1706.6 311.3L1708.3 311.5L1709.9 311.8L1711.5 312L1713.1 312.2L1714.8 312.4L1716.4 312.6L1718 312.9L1719.6 313.1L1721.3 313.3L1722.9 313.5L1724.5 313.7L1726.1 313.8L1727.8 314L1729.4 314.2L1731 314.4L1732.6 314.6L1734.3 314.7L1735.9 314.9L1737.5 315.1L1739.1 315.2L1740.8 315.4L1742.4 315.5L1744 315.7L1745.7 315.8L1747.3 316L1748.9 316.2L1750.5 316.3L1752.2 316.5L1753.8 316.6L1755.4 316.8L1757 316.9L1758.7 317.1L1760.3 317.2L1761.9 317.4L1763.5 317.5L1765.2 317.7L1766.8 317.8L1768.4 318L1770 318.1L1771.7 318.3L1773.3 318.5L1774.9 318.6L1776.5 318.8L1778.2 318.9L1779.8 319.1L1781.4 319.2L1783.1 319.4L1784.7 319.5L1786.3 319.7L1787.9 319.8L1789.6 319.9L1791.2 320.1L1792.8 320.2L1794.4 320.4L1796.1 320.5L1797.7 320.6L1799.3 320.7L1800.9 320.9L1802.6 321L1804.2 321.1L1805.8 321.2L1807.4 321.3L1809.1 321.4L1810.7 321.5L1812.3 321.7L1813.9 321.8L1815.6 321.9L1817.2 322L1818.8 322.1L1820.4 322.2L1822.1 322.3L1823.7 322.4L1825.3 322.5L1827 322.6L1828.6 322.7L1830.2 322.8L1831.8 322.9L1833.5 323L1835.1 323.1L1836.7 323.2L1838.3 323.3L1840 323.4L1841.6 323.5L1843.2 323.6L1844.8 323.7L1846.5 323.8L1848.1 323.9L1849.7 324L1851.3 324L1853 324.1L1854.6 324.2L1856.2 324.3L1857.8 324.4L1859.5 324.5L1861.1 324.6L1862.7 324.7L1864.4 324.8L1866 324.9L1867.6 324.9L1869.2 325L1870.9 325.1L1872.5 325.2L1874.1 325.3L1875.7 325.4L1877.4 325.5L1879 325.5L1880.6 325.6L1882.2 325.7L1883.9 325.8L1885.5 325.9L1887.1 325.9L1888.7 326L1890.4 326.1L1892 326.2" fill="none" stroke="#2a1515" stroke-width="2.3" transform="translate(0 -0.3)" stroke-linejoin="round"/>
<path d="M1359.5 346L1366.8 345.7L1371.7 346L1373.3 347.9L1374 351.7L1374.8 346L1374.9 290.7L1375.1 254.4L1375.3 230.5L1375.4 214.6L1375.6 203.9L1375.7 196.6L1375.9 191.5L1376.1 187.9L1376.2 185.1L1376.4 183L1376.6 181.3L1376.7 179.9L1376.9 178.7L1377 177.5L1377.2 176.5L1377.4 175.5L1377.5 174.6L1377.7 173.7L1377.9 172.8L1378 171.9L1378.2 171.1L1379.2 166.4L1380.1 162.2L1381.1 158.4L1382.1 155L1383.1 151.9L1384 149L1385 146.5L1386 144.1L1387 141.9L1387.9 139.9L1388.9 138.1L1389.9 136.4L1390.9 134.8L1391.8 133.3L1392.8 131.9L1393.8 130.6L1394.8 129.4L1395.7 128.3L1396.7 127.2L1397.7 126.2L1398.7 125.2L1399.6 124.2L1400.6 123.3L1401.6 122.5L1402.6 121.6L1403.5 120.8L1404.5 120.1L1405.5 119.3L1406.5 118.6L1407.4 117.9L1408.4 117.2L1409.4 116.6L1410.4 115.9L1411.3 115.3L1412.3 114.7L1413.3 114.1L1414.3 113.5L1415.3 112.9L1416.2 112.3L1417.2 111.8L1418.2 111.3L1419.2 110.7L1420.1 110.2L1421.1 109.7L1422.1 109.2L1423.1 108.7L1424 108.2L1425 107.7L1426 107.3L1427 106.8L1427.9 106.3L1428.9 105.9L1429.9 105.4L1430.9 105L1431.8 104.6L1432.8 104.2L1433.8 103.7L1434.8 103.3L1435.7 102.9L1436.7 102.5L1437.7 102.1L1438.7 101.8L1439.6 101.4L1440.6 101L1441.6 100.6L1442.6 100.3L1443.5 99.9L1444.5 99.6L1445.5 99.2L1446.5 98.9L1447.4 98.5L1448.4 98.2L1449.4 97.9L1450.4 97.6L1451.3 97.2L1452.3 96.9L1453.3 96.6L1454.3 96.3L1455.3 96L1456.2 95.7L1457.2 95.4L1458.2 95.1L1459.2 94.8L1460.1 94.6L1461.1 94.3L1462.1 94L1463.1 93.8L1464 93.5L1465 93.2L1466 93L1467 92.7L1467.9 92.5L1468.9 92.2L1469.9 92L1470.9 91.7L1471.8 91.5L1472.8 91.3L1473.8 91L1474.8 90.8L1475.7 90.6L1476.7 90.4L1477.7 90.2L1478.7 89.9L1479.6 89.7L1480.6 89.5L1481.6 89.3L1482.6 89.1L1483.5 88.9L1484.5 88.7L1485.5 88.5L1486.5 88.4L1487.4 88.2L1488.4 88L1489.4 87.8L1490.4 87.6L1491.3 87.4L1492.3 87.3L1493.3 87.1L1494.3 86.9L1495.2 86.8L1496.2 86.6L1497.2 86.4L1498.2 86.3L1499.2 86.1L1500.1 86L1501.1 85.8L1502.1 85.7L1503.1 85.5L1504 85.4L1505 85.2L1506 85.1L1507 84.9L1507.9 84.8L1508.9 84.7L1509.9 84.5L1510.9 84.4L1511.8 84.3L1512.8 84.1L1513.8 84L1514.8 83.9L1515.7 83.8L1516.7 83.6L1517.7 83.5L1518.7 83.4L1519.6 83.3L1520.6 83.2L1521.6 83.1L1522.6 82.9L1523.5 82.8L1524.5 82.7L1525.5 82.6L1526.5 82.5L1527.4 82.4L1528.4 82.3L1529.4 82.2L1530.4 82.1L1531.3 82L1532.3 81.9L1533.3 81.8L1534.3 81.7L1535.2 81.6L1536.2 81.5L1537.2 81.5L1538.2 81.4L1539.2 81.3L1540.1 81.2L1541.1 81.1L1542.1 81L1543.1 80.9L1544 80.9L1545 80.8L1546 80.7L1547 80.6L1547.9 80.5L1548.9 80.5L1549.9 80.4L1550.9 80.3L1551.8 80.3L1552.8 80.2L1553.8 80.1L1554.8 80L1555.7 80L1556.7 79.9L1557.7 79.8L1558.7 79.8L1559.6 79.7L1560.6 79.6L1561.6 79.6L1562.6 79.5L1563.5 79.5L1564.5 79.4L1565.5 79.3L1566.5 79.3L1567.4 79.2L1568.4 79.2L1569.4 79.1L1570 79.1L1571 78.7L1571.4 84.3L1571.8 93.9L1572.2 103.6L1572.6 112.2L1573.1 119.7L1573.5 128.7L1573.9 138.6L1574.3 148.1L1574.7 156.7L1575.1 164.2L1575.5 170.5L1575.9 175.7L1576.3 180L1576.7 183.9L1577.1 187.5L1577.5 190.7L1577.9 193.7L1578.3 196.5L1578.7 199.1L1579.2 201.5L1579.6 203.8L1580 205.9L1580.4 207.9L1580.8 209.8L1581.2 211.6L1581.6 213.3L1582 215L1582.4 216.6L1582.8 218.1L1583.2 219.6L1583.6 221.1L1584 222.4L1584.4 223.8L1584.8 225.1L1585.2 226.3L1585.7 227.5L1586.1 228.7L1586.5 229.9L1586.9 231L1587.3 232L1587.7 233.1L1588.1 234.1L1588.5 235.1L1588.9 236.1L1589.3 237L1589.7 237.9L1590.1 238.7L1590.5 239.6L1590.9 240.4L1591.3 241.3L1591.8 242.1L1592.2 242.9L1592.6 243.6L1593 244.4L1593.4 245.2L1593.8 246L1594.2 246.7L1594.6 247.5L1595 248.2L1595.4 248.9L1595.8 249.6L1596.2 250.4L1596.6 251.1L1597 251.7L1597.4 252.4L1597.9 253.1L1598.3 253.8L1598.7 254.4L1599.1 255.1L1599.5 255.7L1599.9 256.4L1600.3 257L1600.7 257.6L1600.9 258L1602.6 260.4L1604.2 262.7L1605.8 265L1607.4 267.2L1609.1 269.4L1610.7 271.6L1612.3 273.7L1613.9 275.6L1615.6 277.4L1617.2 279L1618.8 280.5L1620.5 281.9L1622.1 283.1L1623.7 284.3L1625.3 285.5L1627 286.5L1628.6 287.6L1630.2 288.6L1631.8 289.6L1633.5 290.5L1635.1 291.4L1636.7 292.3L1638.3 293.1L1640 293.9L1641.6 294.7L1643.2 295.4L1644.8 296.1L1646.5 296.8L1648.1 297.5L1649.7 298.1L1651.3 298.7L1653 299.3L1654.6 299.8L1656.2 300.4L1657.8 300.9L1659.5 301.4L1661.1 301.9L1662.7 302.3L1664.4 302.8L1666 303.3L1667.6 303.7L1669.2 304.1L1670.9 304.5L1672.5 304.9L1674.1 305.3L1675.7 305.7L1677.4 306.1L1679 306.4L1680.6 306.8L1682.2 307.1L1683.9 307.4L1685.5 307.8L1687.1 308.1L1688.7 308.4L1690.4 308.7L1692 309L1693.6 309.2L1695.2 309.5L1696.9 309.8L1698.5 310.1L1700.1 310.3L1701.8 310.6L1703.4 310.8L1705 311.1L1706.6 311.3L1708.3 311.5L1709.9 311.8L1711.5 312L1713.1 312.2L1714.8 312.4L1716.4 312.6L1718 312.9L1719.6 313.1L1721.3 313.3L1722.9 313.5L1724.5 313.7L1726.1 313.8L1727.8 314L1729.4 314.2L1731 314.4L1732.6 314.6L1734.3 314.7L1735.9 314.9L1737.5 315.1L1739.1 315.2L1740.8 315.4L1742.4 315.5L1744 315.7L1745.7 315.8L1747.3 316L1748.9 316.2L1750.5 316.3L1752.2 316.5L1753.8 316.6L1755.4 316.8L1757 316.9L1758.7 317.1L1760.3 317.2L1761.9 317.4L1763.5 317.5L1765.2 317.7L1766.8 317.8L1768.4 318L1770 318.1L1771.7 318.3L1773.3 318.5L1774.9 318.6L1776.5 318.8L1778.2 318.9L1779.8 319.1L1781.4 319.2L1783.1 319.4L1784.7 319.5L1786.3 319.7L1787.9 319.8L1789.6 319.9L1791.2 320.1L1792.8 320.2L1794.4 320.4L1796.1 320.5L1797.7 320.6L1799.3 320.7L1800.9 320.9L1802.6 321L1804.2 321.1L1805.8 321.2L1807.4 321.3L1809.1 321.4L1810.7 321.5L1812.3 321.7L1813.9 321.8L1815.6 321.9L1817.2 322L1818.8 322.1L1820.4 322.2L1822.1 322.3L1823.7 322.4L1825.3 322.5L1827 322.6L1828.6 322.7L1830.2 322.8L1831.8 322.9L1833.5 323L1835.1 323.1L1836.7 323.2L1838.3 323.3L1840 323.4L1841.6 323.5L1843.2 323.6L1844.8 323.7L1846.5 323.8L1848.1 323.9L1849.7 324L1851.3 324L1853 324.1L1854.6 324.2L1856.2 324.3L1857.8 324.4L1859.5 324.5L1861.1 324.6L1862.7 324.7L1864.4 324.8L1866 324.9L1867.6 324.9L1869.2 325L1870.9 325.1L1872.5 325.2L1874.1 325.3L1875.7 325.4L1877.4 325.5L1879 325.5L1880.6 325.6L1882.2 325.7L1883.9 325.8L1885.5 325.9L1887.1 325.9L1888.7 326L1890.4 326.1L1892 326.2" fill="none" stroke="#EC1C1C" stroke-width="1.3" transform="translate(0.2 0.4)" stroke-linejoin="round"/>
<text transform="translate(1288.4 219) rotate(-90)" font-family="'Liberation Sans', Arial, sans-serif" font-size="24.5" fill="#222222" text-anchor="middle">RU</text>
<text x="1573.6" y="483.7" font-family="'Liberation Sans', Arial, sans-serif" font-size="23" fill="#222222" textLength="111.7" lengthAdjust="spacingAndGlyphs">Time (sec)</text>
<text x="1400.5" y="58" font-family="'Liberation Sans', Arial, sans-serif" font-size="22.5" fill="#111" textLength="59.1" lengthAdjust="spacingAndGlyphs">30&#956;M</text>
<text x="1443.4" y="176.2" font-family="'Liberation Sans', Arial, sans-serif" font-size="22.5" fill="#111" textLength="58.2" lengthAdjust="spacingAndGlyphs">15&#956;M</text>
<text x="1410.6" y="250.3" font-family="'Liberation Sans', Arial, sans-serif" font-size="22.5" fill="#111" textLength="63.8" lengthAdjust="spacingAndGlyphs">7.5&#956;M</text>
<text x="1428.5" y="300.1" font-family="'Liberation Sans', Arial, sans-serif" font-size="22.5" fill="#111" textLength="78" lengthAdjust="spacingAndGlyphs">3.75&#956;M</text>
<text x="1387.7" y="374.3" font-family="'Liberation Sans', Arial, sans-serif" font-size="22.5" fill="#111" textLength="62.8" lengthAdjust="spacingAndGlyphs">1.9&#956;M</text>
<text x="1511.2" y="386.8" font-family="'Liberation Sans', Arial, sans-serif" font-size="22.5" fill="#111" textLength="65.2" lengthAdjust="spacingAndGlyphs">0.9&#956;M</text>
<path d="M1438.9 71.6L1450 93.3M1470.9 181.9L1497.2 199.1M1477.6 250.3L1501.3 261.1M1500.5 306.7L1521.3 315.4M1448.4 357.9L1458.5 339.6M1506.5 347.5L1523.9 363.1" stroke="#000" stroke-width="3.2"/>
<text x="0" y="0" transform="translate(0.3 31.7) scale(0.9 1)" font-family="'Liberation Sans', Arial, sans-serif" font-size="42.5" fill="#000">A</text>
<text x="0" y="0" transform="translate(638.6 34) scale(0.88 1)" font-family="'Liberation Sans', Arial, sans-serif" font-size="42.5" fill="#000">B</text>
<text x="0" y="0" transform="translate(1267.8 33.7) scale(0.92 1)" font-family="'Liberation Sans', Arial, sans-serif" font-size="42.5" fill="#000">C</text>
<text x="0" y="0" transform="translate(364.6 551.3) scale(1.0 1)" font-family="'Liberation Sans', Arial, sans-serif" font-size="42.5" fill="#000">D</text>
</svg></body></html>
